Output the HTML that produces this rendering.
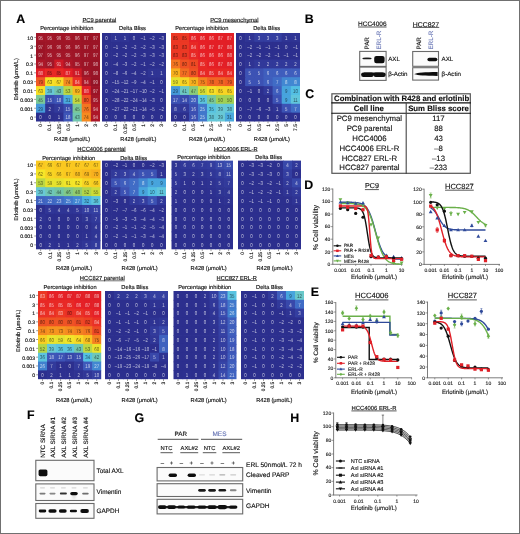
<!DOCTYPE html>
<html><head><meta charset="utf-8"><style>
html,body{margin:0;padding:0;background:#fff;}
body{width:520px;height:534px;overflow:hidden;position:relative;font-family:"Liberation Sans",sans-serif;}
#frame{position:absolute;left:0;top:0;width:520px;height:534px;box-sizing:border-box;border:1px solid #707070;}
svg{position:absolute;left:0;top:0;will-change:transform;filter:blur(0.3px);}
svg text{font-family:"Liberation Sans",sans-serif;text-rendering:geometricPrecision;}
svg text.t{stroke:currentColor;stroke-width:0.14px;}
</style></head><body>
<svg width="520" height="534" viewBox="0 0 520 534">
<rect x="36.00" y="33.00" width="9.84" height="9.55" fill="#a21628"/>
<rect x="45.14" y="33.00" width="9.84" height="9.55" fill="#a21628"/>
<rect x="54.29" y="33.00" width="9.84" height="9.55" fill="#9f1527"/>
<rect x="63.43" y="33.00" width="9.84" height="9.55" fill="#a21628"/>
<rect x="72.57" y="33.00" width="9.84" height="9.55" fill="#9f1527"/>
<rect x="81.71" y="33.00" width="9.84" height="9.55" fill="#9c1426"/>
<rect x="90.86" y="33.00" width="9.14" height="9.55" fill="#9c1426"/>
<rect x="36.00" y="41.85" width="9.84" height="9.55" fill="#9c1426"/>
<rect x="45.14" y="41.85" width="9.84" height="9.55" fill="#9f1527"/>
<rect x="54.29" y="41.85" width="9.84" height="9.55" fill="#9f1527"/>
<rect x="63.43" y="41.85" width="9.84" height="9.55" fill="#9f1527"/>
<rect x="72.57" y="41.85" width="9.84" height="9.55" fill="#9f1527"/>
<rect x="81.71" y="41.85" width="9.84" height="9.55" fill="#9c1426"/>
<rect x="90.86" y="41.85" width="9.14" height="9.55" fill="#9c1426"/>
<rect x="36.00" y="50.70" width="9.84" height="9.55" fill="#9c1426"/>
<rect x="45.14" y="50.70" width="9.84" height="9.55" fill="#a21628"/>
<rect x="54.29" y="50.70" width="9.84" height="9.55" fill="#a21628"/>
<rect x="63.43" y="50.70" width="9.84" height="9.55" fill="#a21628"/>
<rect x="72.57" y="50.70" width="9.84" height="9.55" fill="#9f1527"/>
<rect x="81.71" y="50.70" width="9.84" height="9.55" fill="#9c1426"/>
<rect x="90.86" y="50.70" width="9.14" height="9.55" fill="#9c1426"/>
<rect x="36.00" y="59.55" width="9.84" height="9.55" fill="#ad1728"/>
<rect x="45.14" y="59.55" width="9.84" height="9.55" fill="#a21628"/>
<rect x="54.29" y="59.55" width="9.84" height="9.55" fill="#cd1a27"/>
<rect x="63.43" y="59.55" width="9.84" height="9.55" fill="#ad1728"/>
<rect x="72.57" y="59.55" width="9.84" height="9.55" fill="#a21628"/>
<rect x="81.71" y="59.55" width="9.84" height="9.55" fill="#9c1426"/>
<rect x="90.86" y="59.55" width="9.14" height="9.55" fill="#981426"/>
<rect x="36.00" y="68.40" width="9.84" height="9.55" fill="#e11f26"/>
<rect x="45.14" y="68.40" width="9.84" height="9.55" fill="#e82825"/>
<rect x="54.29" y="68.40" width="9.84" height="9.55" fill="#e82825"/>
<rect x="63.43" y="68.40" width="9.84" height="9.55" fill="#e31f26"/>
<rect x="72.57" y="68.40" width="9.84" height="9.55" fill="#cd1a27"/>
<rect x="81.71" y="68.40" width="9.84" height="9.55" fill="#9f1527"/>
<rect x="90.86" y="68.40" width="9.14" height="9.55" fill="#981426"/>
<rect x="36.00" y="77.25" width="9.84" height="9.55" fill="#f05a24"/>
<rect x="45.14" y="77.25" width="9.84" height="9.55" fill="#f7e026"/>
<rect x="54.29" y="77.25" width="9.84" height="9.55" fill="#f8da25"/>
<rect x="63.43" y="77.25" width="9.84" height="9.55" fill="#f58a20"/>
<rect x="72.57" y="77.25" width="9.84" height="9.55" fill="#ea3025"/>
<rect x="81.71" y="77.25" width="9.84" height="9.55" fill="#ad1728"/>
<rect x="90.86" y="77.25" width="9.14" height="9.55" fill="#951325"/>
<rect x="36.00" y="86.10" width="9.84" height="9.55" fill="#f7e026"/>
<rect x="45.14" y="86.10" width="9.84" height="9.55" fill="#68c8d6"/>
<rect x="54.29" y="86.10" width="9.84" height="9.55" fill="#70c6ae"/>
<rect x="63.43" y="86.10" width="9.84" height="9.55" fill="#bbd744"/>
<rect x="72.57" y="86.10" width="9.84" height="9.55" fill="#f9b81f"/>
<rect x="81.71" y="86.10" width="9.84" height="9.55" fill="#e11f26"/>
<rect x="90.86" y="86.10" width="9.14" height="9.55" fill="#9c1426"/>
<rect x="36.00" y="94.95" width="9.84" height="9.55" fill="#7ac897"/>
<rect x="45.14" y="94.95" width="9.84" height="9.55" fill="#3a4daf"/>
<rect x="54.29" y="94.95" width="9.84" height="9.55" fill="#3e56b8"/>
<rect x="63.43" y="94.95" width="9.84" height="9.55" fill="#4aaade"/>
<rect x="72.57" y="94.95" width="9.84" height="9.55" fill="#c4d93f"/>
<rect x="81.71" y="94.95" width="9.84" height="9.55" fill="#ef5224"/>
<rect x="90.86" y="94.95" width="9.14" height="9.55" fill="#a21628"/>
<rect x="36.00" y="103.80" width="9.84" height="9.55" fill="#4599d9"/>
<rect x="45.14" y="103.80" width="9.84" height="9.55" fill="#2e3292"/>
<rect x="54.29" y="103.80" width="9.84" height="9.55" fill="#323a9b"/>
<rect x="63.43" y="103.80" width="9.84" height="9.55" fill="#3a4daf"/>
<rect x="72.57" y="103.80" width="9.84" height="9.55" fill="#7ac897"/>
<rect x="81.71" y="103.80" width="9.84" height="9.55" fill="#f37621"/>
<rect x="90.86" y="103.80" width="9.14" height="9.55" fill="#ad1728"/>
<rect x="36.00" y="112.65" width="9.84" height="8.85" fill="#2c2f8e"/>
<rect x="45.14" y="112.65" width="9.84" height="8.85" fill="#2c2f8e"/>
<rect x="54.29" y="112.65" width="9.84" height="8.85" fill="#2d3090"/>
<rect x="63.43" y="112.65" width="9.84" height="8.85" fill="#3e56b8"/>
<rect x="72.57" y="112.65" width="9.84" height="8.85" fill="#70c6ae"/>
<rect x="81.71" y="112.65" width="9.84" height="8.85" fill="#f58a20"/>
<rect x="90.86" y="112.65" width="9.14" height="8.85" fill="#ad1728"/>
<text transform="translate(40.57,39.72) scale(0.78,1)" font-size="5.6" text-anchor="middle" fill="#fff" fill-opacity="0.68">95</text>
<text transform="translate(49.71,39.72) scale(0.78,1)" font-size="5.6" text-anchor="middle" fill="#fff" fill-opacity="0.68">95</text>
<text transform="translate(58.86,39.72) scale(0.78,1)" font-size="5.6" text-anchor="middle" fill="#fff" fill-opacity="0.68">96</text>
<text transform="translate(68.00,39.72) scale(0.78,1)" font-size="5.6" text-anchor="middle" fill="#fff" fill-opacity="0.68">95</text>
<text transform="translate(77.14,39.72) scale(0.78,1)" font-size="5.6" text-anchor="middle" fill="#fff" fill-opacity="0.68">96</text>
<text transform="translate(86.29,39.72) scale(0.78,1)" font-size="5.6" text-anchor="middle" fill="#fff" fill-opacity="0.68">97</text>
<text transform="translate(95.43,39.72) scale(0.78,1)" font-size="5.6" text-anchor="middle" fill="#fff" fill-opacity="0.68">97</text>
<text transform="translate(40.57,48.57) scale(0.78,1)" font-size="5.6" text-anchor="middle" fill="#fff" fill-opacity="0.68">97</text>
<text transform="translate(49.71,48.57) scale(0.78,1)" font-size="5.6" text-anchor="middle" fill="#fff" fill-opacity="0.68">96</text>
<text transform="translate(58.86,48.57) scale(0.78,1)" font-size="5.6" text-anchor="middle" fill="#fff" fill-opacity="0.68">96</text>
<text transform="translate(68.00,48.57) scale(0.78,1)" font-size="5.6" text-anchor="middle" fill="#fff" fill-opacity="0.68">96</text>
<text transform="translate(77.14,48.57) scale(0.78,1)" font-size="5.6" text-anchor="middle" fill="#fff" fill-opacity="0.68">96</text>
<text transform="translate(86.29,48.57) scale(0.78,1)" font-size="5.6" text-anchor="middle" fill="#fff" fill-opacity="0.68">97</text>
<text transform="translate(95.43,48.57) scale(0.78,1)" font-size="5.6" text-anchor="middle" fill="#fff" fill-opacity="0.68">97</text>
<text transform="translate(40.57,57.42) scale(0.78,1)" font-size="5.6" text-anchor="middle" fill="#fff" fill-opacity="0.68">97</text>
<text transform="translate(49.71,57.42) scale(0.78,1)" font-size="5.6" text-anchor="middle" fill="#fff" fill-opacity="0.68">95</text>
<text transform="translate(58.86,57.42) scale(0.78,1)" font-size="5.6" text-anchor="middle" fill="#fff" fill-opacity="0.68">95</text>
<text transform="translate(68.00,57.42) scale(0.78,1)" font-size="5.6" text-anchor="middle" fill="#fff" fill-opacity="0.68">95</text>
<text transform="translate(77.14,57.42) scale(0.78,1)" font-size="5.6" text-anchor="middle" fill="#fff" fill-opacity="0.68">96</text>
<text transform="translate(86.29,57.42) scale(0.78,1)" font-size="5.6" text-anchor="middle" fill="#fff" fill-opacity="0.68">97</text>
<text transform="translate(95.43,57.42) scale(0.78,1)" font-size="5.6" text-anchor="middle" fill="#fff" fill-opacity="0.68">97</text>
<text transform="translate(40.57,66.27) scale(0.78,1)" font-size="5.6" text-anchor="middle" fill="#fff" fill-opacity="0.68">94</text>
<text transform="translate(49.71,66.27) scale(0.78,1)" font-size="5.6" text-anchor="middle" fill="#fff" fill-opacity="0.68">95</text>
<text transform="translate(58.86,66.27) scale(0.78,1)" font-size="5.6" text-anchor="middle" fill="#fff" fill-opacity="0.68">91</text>
<text transform="translate(68.00,66.27) scale(0.78,1)" font-size="5.6" text-anchor="middle" fill="#fff" fill-opacity="0.68">94</text>
<text transform="translate(77.14,66.27) scale(0.78,1)" font-size="5.6" text-anchor="middle" fill="#fff" fill-opacity="0.68">95</text>
<text transform="translate(86.29,66.27) scale(0.78,1)" font-size="5.6" text-anchor="middle" fill="#fff" fill-opacity="0.68">97</text>
<text transform="translate(95.43,66.27) scale(0.78,1)" font-size="5.6" text-anchor="middle" fill="#fff" fill-opacity="0.68">98</text>
<text transform="translate(40.57,75.12) scale(0.78,1)" font-size="5.6" text-anchor="middle" fill="#fff" fill-opacity="0.68">88</text>
<text transform="translate(49.71,75.12) scale(0.78,1)" font-size="5.6" text-anchor="middle" fill="#000" fill-opacity="0.6">85</text>
<text transform="translate(58.86,75.12) scale(0.78,1)" font-size="5.6" text-anchor="middle" fill="#000" fill-opacity="0.6">85</text>
<text transform="translate(68.00,75.12) scale(0.78,1)" font-size="5.6" text-anchor="middle" fill="#fff" fill-opacity="0.68">87</text>
<text transform="translate(77.14,75.12) scale(0.78,1)" font-size="5.6" text-anchor="middle" fill="#fff" fill-opacity="0.68">91</text>
<text transform="translate(86.29,75.12) scale(0.78,1)" font-size="5.6" text-anchor="middle" fill="#fff" fill-opacity="0.68">96</text>
<text transform="translate(95.43,75.12) scale(0.78,1)" font-size="5.6" text-anchor="middle" fill="#fff" fill-opacity="0.68">98</text>
<text transform="translate(40.57,83.97) scale(0.78,1)" font-size="5.6" text-anchor="middle" fill="#000" fill-opacity="0.6">79</text>
<text transform="translate(49.71,83.97) scale(0.78,1)" font-size="5.6" text-anchor="middle" fill="#000" fill-opacity="0.6">63</text>
<text transform="translate(58.86,83.97) scale(0.78,1)" font-size="5.6" text-anchor="middle" fill="#000" fill-opacity="0.6">67</text>
<text transform="translate(68.00,83.97) scale(0.78,1)" font-size="5.6" text-anchor="middle" fill="#000" fill-opacity="0.6">74</text>
<text transform="translate(77.14,83.97) scale(0.78,1)" font-size="5.6" text-anchor="middle" fill="#fff" fill-opacity="0.68">84</text>
<text transform="translate(86.29,83.97) scale(0.78,1)" font-size="5.6" text-anchor="middle" fill="#fff" fill-opacity="0.68">94</text>
<text transform="translate(95.43,83.97) scale(0.78,1)" font-size="5.6" text-anchor="middle" fill="#fff" fill-opacity="0.68">99</text>
<text transform="translate(40.57,92.83) scale(0.78,1)" font-size="5.6" text-anchor="middle" fill="#000" fill-opacity="0.6">63</text>
<text transform="translate(49.71,92.83) scale(0.78,1)" font-size="5.6" text-anchor="middle" fill="#000" fill-opacity="0.6">39</text>
<text transform="translate(58.86,92.83) scale(0.78,1)" font-size="5.6" text-anchor="middle" fill="#000" fill-opacity="0.6">43</text>
<text transform="translate(68.00,92.83) scale(0.78,1)" font-size="5.6" text-anchor="middle" fill="#000" fill-opacity="0.6">53</text>
<text transform="translate(77.14,92.83) scale(0.78,1)" font-size="5.6" text-anchor="middle" fill="#000" fill-opacity="0.6">69</text>
<text transform="translate(86.29,92.83) scale(0.78,1)" font-size="5.6" text-anchor="middle" fill="#fff" fill-opacity="0.68">88</text>
<text transform="translate(95.43,92.83) scale(0.78,1)" font-size="5.6" text-anchor="middle" fill="#fff" fill-opacity="0.68">97</text>
<text transform="translate(40.57,101.67) scale(0.78,1)" font-size="5.6" text-anchor="middle" fill="#000" fill-opacity="0.6">45</text>
<text transform="translate(49.71,101.67) scale(0.78,1)" font-size="5.6" text-anchor="middle" fill="#fff" fill-opacity="0.7">15</text>
<text transform="translate(58.86,101.67) scale(0.78,1)" font-size="5.6" text-anchor="middle" fill="#fff" fill-opacity="0.7">18</text>
<text transform="translate(68.00,101.67) scale(0.78,1)" font-size="5.6" text-anchor="middle" fill="#000" fill-opacity="0.6">31</text>
<text transform="translate(77.14,101.67) scale(0.78,1)" font-size="5.6" text-anchor="middle" fill="#000" fill-opacity="0.6">54</text>
<text transform="translate(86.29,101.67) scale(0.78,1)" font-size="5.6" text-anchor="middle" fill="#000" fill-opacity="0.6">80</text>
<text transform="translate(95.43,101.67) scale(0.78,1)" font-size="5.6" text-anchor="middle" fill="#fff" fill-opacity="0.68">95</text>
<text transform="translate(40.57,110.52) scale(0.78,1)" font-size="5.6" text-anchor="middle" fill="#000" fill-opacity="0.6">29</text>
<text transform="translate(49.71,110.52) scale(0.78,1)" font-size="5.6" text-anchor="middle" fill="#fff" fill-opacity="0.7">2</text>
<text transform="translate(58.86,110.52) scale(0.78,1)" font-size="5.6" text-anchor="middle" fill="#fff" fill-opacity="0.7">7</text>
<text transform="translate(68.00,110.52) scale(0.78,1)" font-size="5.6" text-anchor="middle" fill="#fff" fill-opacity="0.7">15</text>
<text transform="translate(77.14,110.52) scale(0.78,1)" font-size="5.6" text-anchor="middle" fill="#000" fill-opacity="0.6">45</text>
<text transform="translate(86.29,110.52) scale(0.78,1)" font-size="5.6" text-anchor="middle" fill="#000" fill-opacity="0.6">76</text>
<text transform="translate(95.43,110.52) scale(0.78,1)" font-size="5.6" text-anchor="middle" fill="#fff" fill-opacity="0.68">94</text>
<text transform="translate(40.57,119.38) scale(0.78,1)" font-size="5.6" text-anchor="middle" fill="#fff" fill-opacity="0.7">0</text>
<text transform="translate(49.71,119.38) scale(0.78,1)" font-size="5.6" text-anchor="middle" fill="#fff" fill-opacity="0.7">0</text>
<text transform="translate(58.86,119.38) scale(0.78,1)" font-size="5.6" text-anchor="middle" fill="#fff" fill-opacity="0.7">1</text>
<text transform="translate(68.00,119.38) scale(0.78,1)" font-size="5.6" text-anchor="middle" fill="#fff" fill-opacity="0.7">18</text>
<text transform="translate(77.14,119.38) scale(0.78,1)" font-size="5.6" text-anchor="middle" fill="#000" fill-opacity="0.6">43</text>
<text transform="translate(86.29,119.38) scale(0.78,1)" font-size="5.6" text-anchor="middle" fill="#000" fill-opacity="0.6">74</text>
<text transform="translate(95.43,119.38) scale(0.78,1)" font-size="5.6" text-anchor="middle" fill="#fff" fill-opacity="0.68">94</text>
<line x1="40.57" y1="121.50" x2="40.57" y2="123.30" stroke="#333" stroke-width="0.5"/>
<text class="t" color="#111" transform="translate(40.57,124.10) rotate(-90)" x="0" y="1.75" font-size="4.9" text-anchor="end" fill="#111">0</text>
<line x1="49.71" y1="121.50" x2="49.71" y2="123.30" stroke="#333" stroke-width="0.5"/>
<text class="t" color="#111" transform="translate(49.71,124.10) rotate(-90)" x="0" y="1.75" font-size="4.9" text-anchor="end" fill="#111">0.1</text>
<line x1="58.86" y1="121.50" x2="58.86" y2="123.30" stroke="#333" stroke-width="0.5"/>
<text class="t" color="#111" transform="translate(58.86,124.10) rotate(-90)" x="0" y="1.75" font-size="4.9" text-anchor="end" fill="#111">0.25</text>
<line x1="68.00" y1="121.50" x2="68.00" y2="123.30" stroke="#333" stroke-width="0.5"/>
<text class="t" color="#111" transform="translate(68.00,124.10) rotate(-90)" x="0" y="1.75" font-size="4.9" text-anchor="end" fill="#111">0.5</text>
<line x1="77.14" y1="121.50" x2="77.14" y2="123.30" stroke="#333" stroke-width="0.5"/>
<text class="t" color="#111" transform="translate(77.14,124.10) rotate(-90)" x="0" y="1.75" font-size="4.9" text-anchor="end" fill="#111">1</text>
<line x1="86.29" y1="121.50" x2="86.29" y2="123.30" stroke="#333" stroke-width="0.5"/>
<text class="t" color="#111" transform="translate(86.29,124.10) rotate(-90)" x="0" y="1.75" font-size="4.9" text-anchor="end" fill="#111">2</text>
<line x1="95.43" y1="121.50" x2="95.43" y2="123.30" stroke="#333" stroke-width="0.5"/>
<text class="t" color="#111" transform="translate(95.43,124.10) rotate(-90)" x="0" y="1.75" font-size="4.9" text-anchor="end" fill="#111">3</text>
<line x1="34.20" y1="37.42" x2="36.00" y2="37.42" stroke="#333" stroke-width="0.5"/>
<text class="t" x="33.00" y="39.85" font-size="5.1" text-anchor="end" fill="#111" color="#111">10</text>
<line x1="34.20" y1="46.27" x2="36.00" y2="46.27" stroke="#333" stroke-width="0.5"/>
<text class="t" x="33.00" y="48.70" font-size="5.1" text-anchor="end" fill="#111" color="#111">3</text>
<line x1="34.20" y1="55.12" x2="36.00" y2="55.12" stroke="#333" stroke-width="0.5"/>
<text class="t" x="33.00" y="57.55" font-size="5.1" text-anchor="end" fill="#111" color="#111">1</text>
<line x1="34.20" y1="63.97" x2="36.00" y2="63.97" stroke="#333" stroke-width="0.5"/>
<text class="t" x="33.00" y="66.40" font-size="5.1" text-anchor="end" fill="#111" color="#111">0.3</text>
<line x1="34.20" y1="72.82" x2="36.00" y2="72.82" stroke="#333" stroke-width="0.5"/>
<text class="t" x="33.00" y="75.25" font-size="5.1" text-anchor="end" fill="#111" color="#111">0.1</text>
<line x1="34.20" y1="81.67" x2="36.00" y2="81.67" stroke="#333" stroke-width="0.5"/>
<text class="t" x="33.00" y="84.10" font-size="5.1" text-anchor="end" fill="#111" color="#111">0.03</text>
<line x1="34.20" y1="90.53" x2="36.00" y2="90.53" stroke="#333" stroke-width="0.5"/>
<text class="t" x="33.00" y="92.95" font-size="5.1" text-anchor="end" fill="#111" color="#111">0.01</text>
<line x1="34.20" y1="99.38" x2="36.00" y2="99.38" stroke="#333" stroke-width="0.5"/>
<text class="t" x="33.00" y="101.80" font-size="5.1" text-anchor="end" fill="#111" color="#111">0.003</text>
<line x1="34.20" y1="108.22" x2="36.00" y2="108.22" stroke="#333" stroke-width="0.5"/>
<text class="t" x="33.00" y="110.65" font-size="5.1" text-anchor="end" fill="#111" color="#111">0.001</text>
<line x1="34.20" y1="117.08" x2="36.00" y2="117.08" stroke="#333" stroke-width="0.5"/>
<text class="t" x="33.00" y="119.50" font-size="5.1" text-anchor="end" fill="#111" color="#111">0</text>
<rect x="102.00" y="33.00" width="9.84" height="9.55" fill="#2c2f8e"/>
<rect x="111.14" y="33.00" width="9.84" height="9.55" fill="#2f3494"/>
<rect x="120.29" y="33.00" width="9.84" height="9.55" fill="#2f3494"/>
<rect x="129.43" y="33.00" width="9.84" height="9.55" fill="#2c2f8e"/>
<rect x="138.57" y="33.00" width="9.84" height="9.55" fill="#2c2f8e"/>
<rect x="147.71" y="33.00" width="9.84" height="9.55" fill="#2c2f8e"/>
<rect x="156.86" y="33.00" width="9.14" height="9.55" fill="#2c2f8e"/>
<rect x="102.00" y="41.85" width="9.84" height="9.55" fill="#2c2f8e"/>
<rect x="111.14" y="41.85" width="9.84" height="9.55" fill="#2c2f8e"/>
<rect x="120.29" y="41.85" width="9.84" height="9.55" fill="#2c2f8e"/>
<rect x="129.43" y="41.85" width="9.84" height="9.55" fill="#2c2f8e"/>
<rect x="138.57" y="41.85" width="9.84" height="9.55" fill="#2c2f8e"/>
<rect x="147.71" y="41.85" width="9.84" height="9.55" fill="#2c2f8e"/>
<rect x="156.86" y="41.85" width="9.14" height="9.55" fill="#2c2f8e"/>
<rect x="102.00" y="50.70" width="9.84" height="9.55" fill="#2c2f8e"/>
<rect x="111.14" y="50.70" width="9.84" height="9.55" fill="#2c2f8e"/>
<rect x="120.29" y="50.70" width="9.84" height="9.55" fill="#2c2f8e"/>
<rect x="129.43" y="50.70" width="9.84" height="9.55" fill="#2c2f8e"/>
<rect x="138.57" y="50.70" width="9.84" height="9.55" fill="#2c2f8e"/>
<rect x="147.71" y="50.70" width="9.84" height="9.55" fill="#2c2f8e"/>
<rect x="156.86" y="50.70" width="9.14" height="9.55" fill="#2c2f8e"/>
<rect x="102.00" y="59.55" width="9.84" height="9.55" fill="#2c2f8e"/>
<rect x="111.14" y="59.55" width="9.84" height="9.55" fill="#2c2f8e"/>
<rect x="120.29" y="59.55" width="9.84" height="9.55" fill="#2c2f8e"/>
<rect x="129.43" y="59.55" width="9.84" height="9.55" fill="#2c2f8e"/>
<rect x="138.57" y="59.55" width="9.84" height="9.55" fill="#2c2f8e"/>
<rect x="147.71" y="59.55" width="9.84" height="9.55" fill="#2c2f8e"/>
<rect x="156.86" y="59.55" width="9.14" height="9.55" fill="#2c2f8e"/>
<rect x="102.00" y="68.40" width="9.84" height="9.55" fill="#2c2f8e"/>
<rect x="111.14" y="68.40" width="9.84" height="9.55" fill="#2c2f8e"/>
<rect x="120.29" y="68.40" width="9.84" height="9.55" fill="#2c2f8e"/>
<rect x="129.43" y="68.40" width="9.84" height="9.55" fill="#2c2f8e"/>
<rect x="138.57" y="68.40" width="9.84" height="9.55" fill="#2c2f8e"/>
<rect x="147.71" y="68.40" width="9.84" height="9.55" fill="#2f3494"/>
<rect x="156.86" y="68.40" width="9.14" height="9.55" fill="#2f3494"/>
<rect x="102.00" y="77.25" width="9.84" height="9.55" fill="#2c2f8e"/>
<rect x="111.14" y="77.25" width="9.84" height="9.55" fill="#2c2f8e"/>
<rect x="120.29" y="77.25" width="9.84" height="9.55" fill="#2c2f8e"/>
<rect x="129.43" y="77.25" width="9.84" height="9.55" fill="#2c2f8e"/>
<rect x="138.57" y="77.25" width="9.84" height="9.55" fill="#2c2f8e"/>
<rect x="147.71" y="77.25" width="9.84" height="9.55" fill="#2c2f8e"/>
<rect x="156.86" y="77.25" width="9.14" height="9.55" fill="#2c2f8e"/>
<rect x="102.00" y="86.10" width="9.84" height="9.55" fill="#2c2f8e"/>
<rect x="111.14" y="86.10" width="9.84" height="9.55" fill="#2c2f8e"/>
<rect x="120.29" y="86.10" width="9.84" height="9.55" fill="#2c2f8e"/>
<rect x="129.43" y="86.10" width="9.84" height="9.55" fill="#2c2f8e"/>
<rect x="138.57" y="86.10" width="9.84" height="9.55" fill="#2c2f8e"/>
<rect x="147.71" y="86.10" width="9.84" height="9.55" fill="#2c2f8e"/>
<rect x="156.86" y="86.10" width="9.14" height="9.55" fill="#2c2f8e"/>
<rect x="102.00" y="94.95" width="9.84" height="9.55" fill="#2c2f8e"/>
<rect x="111.14" y="94.95" width="9.84" height="9.55" fill="#2c2f8e"/>
<rect x="120.29" y="94.95" width="9.84" height="9.55" fill="#2c2f8e"/>
<rect x="129.43" y="94.95" width="9.84" height="9.55" fill="#2c2f8e"/>
<rect x="138.57" y="94.95" width="9.84" height="9.55" fill="#2c2f8e"/>
<rect x="147.71" y="94.95" width="9.84" height="9.55" fill="#2c2f8e"/>
<rect x="156.86" y="94.95" width="9.14" height="9.55" fill="#2c2f8e"/>
<rect x="102.00" y="103.80" width="9.84" height="9.55" fill="#2c2f8e"/>
<rect x="111.14" y="103.80" width="9.84" height="9.55" fill="#2c2f8e"/>
<rect x="120.29" y="103.80" width="9.84" height="9.55" fill="#2c2f8e"/>
<rect x="129.43" y="103.80" width="9.84" height="9.55" fill="#2c2f8e"/>
<rect x="138.57" y="103.80" width="9.84" height="9.55" fill="#2c2f8e"/>
<rect x="147.71" y="103.80" width="9.84" height="9.55" fill="#2c2f8e"/>
<rect x="156.86" y="103.80" width="9.14" height="9.55" fill="#2c2f8e"/>
<rect x="102.00" y="112.65" width="9.84" height="8.85" fill="#2c2f8e"/>
<rect x="111.14" y="112.65" width="9.84" height="8.85" fill="#2c2f8e"/>
<rect x="120.29" y="112.65" width="9.84" height="8.85" fill="#2c2f8e"/>
<rect x="129.43" y="112.65" width="9.84" height="8.85" fill="#2c2f8e"/>
<rect x="138.57" y="112.65" width="9.84" height="8.85" fill="#2c2f8e"/>
<rect x="147.71" y="112.65" width="9.84" height="8.85" fill="#2c2f8e"/>
<rect x="156.86" y="112.65" width="9.14" height="8.85" fill="#2c2f8e"/>
<text transform="translate(106.57,39.72) scale(0.78,1)" font-size="5.6" text-anchor="middle" fill="#fff" fill-opacity="0.7">0</text>
<text transform="translate(115.71,39.72) scale(0.78,1)" font-size="5.6" text-anchor="middle" fill="#fff" fill-opacity="0.7">1</text>
<text transform="translate(124.86,39.72) scale(0.78,1)" font-size="5.6" text-anchor="middle" fill="#fff" fill-opacity="0.7">1</text>
<text transform="translate(134.00,39.72) scale(0.78,1)" font-size="5.6" text-anchor="middle" fill="#fff" fill-opacity="0.7">0</text>
<text transform="translate(143.14,39.72) scale(0.78,1)" font-size="5.6" text-anchor="middle" fill="#fff" fill-opacity="0.7">–1</text>
<text transform="translate(152.29,39.72) scale(0.78,1)" font-size="5.6" text-anchor="middle" fill="#fff" fill-opacity="0.7">–2</text>
<text transform="translate(161.43,39.72) scale(0.78,1)" font-size="5.6" text-anchor="middle" fill="#fff" fill-opacity="0.7">–3</text>
<text transform="translate(106.57,48.57) scale(0.78,1)" font-size="5.6" text-anchor="middle" fill="#fff" fill-opacity="0.7">0</text>
<text transform="translate(115.71,48.57) scale(0.78,1)" font-size="5.6" text-anchor="middle" fill="#fff" fill-opacity="0.7">–1</text>
<text transform="translate(124.86,48.57) scale(0.78,1)" font-size="5.6" text-anchor="middle" fill="#fff" fill-opacity="0.7">–2</text>
<text transform="translate(134.00,48.57) scale(0.78,1)" font-size="5.6" text-anchor="middle" fill="#fff" fill-opacity="0.7">–2</text>
<text transform="translate(143.14,48.57) scale(0.78,1)" font-size="5.6" text-anchor="middle" fill="#fff" fill-opacity="0.7">–2</text>
<text transform="translate(152.29,48.57) scale(0.78,1)" font-size="5.6" text-anchor="middle" fill="#fff" fill-opacity="0.7">–3</text>
<text transform="translate(161.43,48.57) scale(0.78,1)" font-size="5.6" text-anchor="middle" fill="#fff" fill-opacity="0.7">–3</text>
<text transform="translate(106.57,57.42) scale(0.78,1)" font-size="5.6" text-anchor="middle" fill="#fff" fill-opacity="0.7">0</text>
<text transform="translate(115.71,57.42) scale(0.78,1)" font-size="5.6" text-anchor="middle" fill="#fff" fill-opacity="0.7">–2</text>
<text transform="translate(124.86,57.42) scale(0.78,1)" font-size="5.6" text-anchor="middle" fill="#fff" fill-opacity="0.7">–2</text>
<text transform="translate(134.00,57.42) scale(0.78,1)" font-size="5.6" text-anchor="middle" fill="#fff" fill-opacity="0.7">–2</text>
<text transform="translate(143.14,57.42) scale(0.78,1)" font-size="5.6" text-anchor="middle" fill="#fff" fill-opacity="0.7">–3</text>
<text transform="translate(152.29,57.42) scale(0.78,1)" font-size="5.6" text-anchor="middle" fill="#fff" fill-opacity="0.7">–3</text>
<text transform="translate(161.43,57.42) scale(0.78,1)" font-size="5.6" text-anchor="middle" fill="#fff" fill-opacity="0.7">–3</text>
<text transform="translate(106.57,66.27) scale(0.78,1)" font-size="5.6" text-anchor="middle" fill="#fff" fill-opacity="0.7">0</text>
<text transform="translate(115.71,66.27) scale(0.78,1)" font-size="5.6" text-anchor="middle" fill="#fff" fill-opacity="0.7">–4</text>
<text transform="translate(124.86,66.27) scale(0.78,1)" font-size="5.6" text-anchor="middle" fill="#fff" fill-opacity="0.7">–3</text>
<text transform="translate(134.00,66.27) scale(0.78,1)" font-size="5.6" text-anchor="middle" fill="#fff" fill-opacity="0.7">–2</text>
<text transform="translate(143.14,66.27) scale(0.78,1)" font-size="5.6" text-anchor="middle" fill="#fff" fill-opacity="0.7">–1</text>
<text transform="translate(152.29,66.27) scale(0.78,1)" font-size="5.6" text-anchor="middle" fill="#fff" fill-opacity="0.7">–2</text>
<text transform="translate(161.43,66.27) scale(0.78,1)" font-size="5.6" text-anchor="middle" fill="#fff" fill-opacity="0.7">–2</text>
<text transform="translate(106.57,75.12) scale(0.78,1)" font-size="5.6" text-anchor="middle" fill="#fff" fill-opacity="0.7">0</text>
<text transform="translate(115.71,75.12) scale(0.78,1)" font-size="5.6" text-anchor="middle" fill="#fff" fill-opacity="0.7">–8</text>
<text transform="translate(124.86,75.12) scale(0.78,1)" font-size="5.6" text-anchor="middle" fill="#fff" fill-opacity="0.7">–6</text>
<text transform="translate(134.00,75.12) scale(0.78,1)" font-size="5.6" text-anchor="middle" fill="#fff" fill-opacity="0.7">–4</text>
<text transform="translate(143.14,75.12) scale(0.78,1)" font-size="5.6" text-anchor="middle" fill="#fff" fill-opacity="0.7">–2</text>
<text transform="translate(152.29,75.12) scale(0.78,1)" font-size="5.6" text-anchor="middle" fill="#fff" fill-opacity="0.7">1</text>
<text transform="translate(161.43,75.12) scale(0.78,1)" font-size="5.6" text-anchor="middle" fill="#fff" fill-opacity="0.7">1</text>
<text transform="translate(106.57,83.97) scale(0.78,1)" font-size="5.6" text-anchor="middle" fill="#fff" fill-opacity="0.7">0</text>
<text transform="translate(115.71,83.97) scale(0.78,1)" font-size="5.6" text-anchor="middle" fill="#fff" fill-opacity="0.7">–15</text>
<text transform="translate(124.86,83.97) scale(0.78,1)" font-size="5.6" text-anchor="middle" fill="#fff" fill-opacity="0.7">–12</text>
<text transform="translate(134.00,83.97) scale(0.78,1)" font-size="5.6" text-anchor="middle" fill="#fff" fill-opacity="0.7">–9</text>
<text transform="translate(143.14,83.97) scale(0.78,1)" font-size="5.6" text-anchor="middle" fill="#fff" fill-opacity="0.7">–4</text>
<text transform="translate(152.29,83.97) scale(0.78,1)" font-size="5.6" text-anchor="middle" fill="#fff" fill-opacity="0.7">–1</text>
<text transform="translate(161.43,83.97) scale(0.78,1)" font-size="5.6" text-anchor="middle" fill="#fff" fill-opacity="0.7">0</text>
<text transform="translate(106.57,92.83) scale(0.78,1)" font-size="5.6" text-anchor="middle" fill="#fff" fill-opacity="0.7">0</text>
<text transform="translate(115.71,92.83) scale(0.78,1)" font-size="5.6" text-anchor="middle" fill="#fff" fill-opacity="0.7">–24</text>
<text transform="translate(124.86,92.83) scale(0.78,1)" font-size="5.6" text-anchor="middle" fill="#fff" fill-opacity="0.7">–21</text>
<text transform="translate(134.00,92.83) scale(0.78,1)" font-size="5.6" text-anchor="middle" fill="#fff" fill-opacity="0.7">–17</text>
<text transform="translate(143.14,92.83) scale(0.78,1)" font-size="5.6" text-anchor="middle" fill="#fff" fill-opacity="0.7">–10</text>
<text transform="translate(152.29,92.83) scale(0.78,1)" font-size="5.6" text-anchor="middle" fill="#fff" fill-opacity="0.7">–2</text>
<text transform="translate(161.43,92.83) scale(0.78,1)" font-size="5.6" text-anchor="middle" fill="#fff" fill-opacity="0.7">–1</text>
<text transform="translate(106.57,101.67) scale(0.78,1)" font-size="5.6" text-anchor="middle" fill="#fff" fill-opacity="0.7">0</text>
<text transform="translate(115.71,101.67) scale(0.78,1)" font-size="5.6" text-anchor="middle" fill="#fff" fill-opacity="0.7">–28</text>
<text transform="translate(124.86,101.67) scale(0.78,1)" font-size="5.6" text-anchor="middle" fill="#fff" fill-opacity="0.7">–22</text>
<text transform="translate(134.00,101.67) scale(0.78,1)" font-size="5.6" text-anchor="middle" fill="#fff" fill-opacity="0.7">–24</text>
<text transform="translate(143.14,101.67) scale(0.78,1)" font-size="5.6" text-anchor="middle" fill="#fff" fill-opacity="0.7">–14</text>
<text transform="translate(152.29,101.67) scale(0.78,1)" font-size="5.6" text-anchor="middle" fill="#fff" fill-opacity="0.7">–3</text>
<text transform="translate(161.43,101.67) scale(0.78,1)" font-size="5.6" text-anchor="middle" fill="#fff" fill-opacity="0.7">0</text>
<text transform="translate(106.57,110.52) scale(0.78,1)" font-size="5.6" text-anchor="middle" fill="#fff" fill-opacity="0.7">0</text>
<text transform="translate(115.71,110.52) scale(0.78,1)" font-size="5.6" text-anchor="middle" fill="#fff" fill-opacity="0.7">–27</text>
<text transform="translate(124.86,110.52) scale(0.78,1)" font-size="5.6" text-anchor="middle" fill="#fff" fill-opacity="0.7">–22</text>
<text transform="translate(134.00,110.52) scale(0.78,1)" font-size="5.6" text-anchor="middle" fill="#fff" fill-opacity="0.7">–21</text>
<text transform="translate(143.14,110.52) scale(0.78,1)" font-size="5.6" text-anchor="middle" fill="#fff" fill-opacity="0.7">–14</text>
<text transform="translate(152.29,110.52) scale(0.78,1)" font-size="5.6" text-anchor="middle" fill="#fff" fill-opacity="0.7">–5</text>
<text transform="translate(161.43,110.52) scale(0.78,1)" font-size="5.6" text-anchor="middle" fill="#fff" fill-opacity="0.7">–2</text>
<text transform="translate(106.57,119.38) scale(0.78,1)" font-size="5.6" text-anchor="middle" fill="#fff" fill-opacity="0.7">0</text>
<text transform="translate(115.71,119.38) scale(0.78,1)" font-size="5.6" text-anchor="middle" fill="#fff" fill-opacity="0.7">0</text>
<text transform="translate(124.86,119.38) scale(0.78,1)" font-size="5.6" text-anchor="middle" fill="#fff" fill-opacity="0.7">0</text>
<text transform="translate(134.00,119.38) scale(0.78,1)" font-size="5.6" text-anchor="middle" fill="#fff" fill-opacity="0.7">0</text>
<text transform="translate(143.14,119.38) scale(0.78,1)" font-size="5.6" text-anchor="middle" fill="#fff" fill-opacity="0.7">0</text>
<text transform="translate(152.29,119.38) scale(0.78,1)" font-size="5.6" text-anchor="middle" fill="#fff" fill-opacity="0.7">0</text>
<text transform="translate(161.43,119.38) scale(0.78,1)" font-size="5.6" text-anchor="middle" fill="#fff" fill-opacity="0.7">0</text>
<line x1="106.57" y1="121.50" x2="106.57" y2="123.30" stroke="#333" stroke-width="0.5"/>
<text class="t" color="#111" transform="translate(106.57,124.10) rotate(-90)" x="0" y="1.75" font-size="4.9" text-anchor="end" fill="#111">0</text>
<line x1="115.71" y1="121.50" x2="115.71" y2="123.30" stroke="#333" stroke-width="0.5"/>
<text class="t" color="#111" transform="translate(115.71,124.10) rotate(-90)" x="0" y="1.75" font-size="4.9" text-anchor="end" fill="#111">0.1</text>
<line x1="124.86" y1="121.50" x2="124.86" y2="123.30" stroke="#333" stroke-width="0.5"/>
<text class="t" color="#111" transform="translate(124.86,124.10) rotate(-90)" x="0" y="1.75" font-size="4.9" text-anchor="end" fill="#111">0.25</text>
<line x1="134.00" y1="121.50" x2="134.00" y2="123.30" stroke="#333" stroke-width="0.5"/>
<text class="t" color="#111" transform="translate(134.00,124.10) rotate(-90)" x="0" y="1.75" font-size="4.9" text-anchor="end" fill="#111">0.5</text>
<line x1="143.14" y1="121.50" x2="143.14" y2="123.30" stroke="#333" stroke-width="0.5"/>
<text class="t" color="#111" transform="translate(143.14,124.10) rotate(-90)" x="0" y="1.75" font-size="4.9" text-anchor="end" fill="#111">1</text>
<line x1="152.29" y1="121.50" x2="152.29" y2="123.30" stroke="#333" stroke-width="0.5"/>
<text class="t" color="#111" transform="translate(152.29,124.10) rotate(-90)" x="0" y="1.75" font-size="4.9" text-anchor="end" fill="#111">2</text>
<line x1="161.43" y1="121.50" x2="161.43" y2="123.30" stroke="#333" stroke-width="0.5"/>
<text class="t" color="#111" transform="translate(161.43,124.10) rotate(-90)" x="0" y="1.75" font-size="4.9" text-anchor="end" fill="#111">3</text>
<rect x="171.00" y="33.00" width="9.70" height="9.55" fill="#ec3824"/>
<rect x="180.00" y="33.00" width="9.70" height="9.55" fill="#ec3824"/>
<rect x="189.00" y="33.00" width="9.70" height="9.55" fill="#e62026"/>
<rect x="198.00" y="33.00" width="9.70" height="9.55" fill="#e62026"/>
<rect x="207.00" y="33.00" width="9.70" height="9.55" fill="#e62026"/>
<rect x="216.00" y="33.00" width="9.70" height="9.55" fill="#e31f26"/>
<rect x="225.00" y="33.00" width="9.00" height="9.55" fill="#e31f26"/>
<rect x="171.00" y="41.85" width="9.70" height="9.55" fill="#ec3824"/>
<rect x="180.00" y="41.85" width="9.70" height="9.55" fill="#ec3824"/>
<rect x="189.00" y="41.85" width="9.70" height="9.55" fill="#e82825"/>
<rect x="198.00" y="41.85" width="9.70" height="9.55" fill="#e62026"/>
<rect x="207.00" y="41.85" width="9.70" height="9.55" fill="#e31f26"/>
<rect x="216.00" y="41.85" width="9.70" height="9.55" fill="#e31f26"/>
<rect x="225.00" y="41.85" width="9.00" height="9.55" fill="#e11f26"/>
<rect x="171.00" y="50.70" width="9.70" height="9.55" fill="#ec3824"/>
<rect x="180.00" y="50.70" width="9.70" height="9.55" fill="#ec3824"/>
<rect x="189.00" y="50.70" width="9.70" height="9.55" fill="#e82825"/>
<rect x="198.00" y="50.70" width="9.70" height="9.55" fill="#e62026"/>
<rect x="207.00" y="50.70" width="9.70" height="9.55" fill="#e62026"/>
<rect x="216.00" y="50.70" width="9.70" height="9.55" fill="#e62026"/>
<rect x="225.00" y="50.70" width="9.00" height="9.55" fill="#e11f26"/>
<rect x="171.00" y="59.55" width="9.70" height="9.55" fill="#f37621"/>
<rect x="180.00" y="59.55" width="9.70" height="9.55" fill="#ef5224"/>
<rect x="189.00" y="59.55" width="9.70" height="9.55" fill="#ee4924"/>
<rect x="198.00" y="59.55" width="9.70" height="9.55" fill="#e82825"/>
<rect x="207.00" y="59.55" width="9.70" height="9.55" fill="#e62026"/>
<rect x="216.00" y="59.55" width="9.70" height="9.55" fill="#e31f26"/>
<rect x="225.00" y="59.55" width="9.00" height="9.55" fill="#e11f26"/>
<rect x="171.00" y="68.40" width="9.70" height="9.55" fill="#f8b01e"/>
<rect x="180.00" y="68.40" width="9.70" height="9.55" fill="#f26d22"/>
<rect x="189.00" y="68.40" width="9.70" height="9.55" fill="#ef5224"/>
<rect x="198.00" y="68.40" width="9.70" height="9.55" fill="#e82825"/>
<rect x="207.00" y="68.40" width="9.70" height="9.55" fill="#e82825"/>
<rect x="216.00" y="68.40" width="9.70" height="9.55" fill="#e82825"/>
<rect x="225.00" y="68.40" width="9.00" height="9.55" fill="#e82825"/>
<rect x="171.00" y="77.25" width="9.70" height="9.55" fill="#e6e22e"/>
<rect x="180.00" y="77.25" width="9.70" height="9.55" fill="#f8d423"/>
<rect x="189.00" y="77.25" width="9.70" height="9.55" fill="#f8b01e"/>
<rect x="198.00" y="77.25" width="9.70" height="9.55" fill="#f48020"/>
<rect x="207.00" y="77.25" width="9.70" height="9.55" fill="#f16423"/>
<rect x="216.00" y="77.25" width="9.70" height="9.55" fill="#f16423"/>
<rect x="225.00" y="77.25" width="9.00" height="9.55" fill="#f05a24"/>
<rect x="171.00" y="86.10" width="9.70" height="9.55" fill="#4599d9"/>
<rect x="180.00" y="86.10" width="9.70" height="9.55" fill="#6cc7c2"/>
<rect x="189.00" y="86.10" width="9.70" height="9.55" fill="#89cb7c"/>
<rect x="198.00" y="86.10" width="9.70" height="9.55" fill="#d6de34"/>
<rect x="207.00" y="86.10" width="9.70" height="9.55" fill="#f7e026"/>
<rect x="216.00" y="86.10" width="9.70" height="9.55" fill="#f8d423"/>
<rect x="225.00" y="86.10" width="9.00" height="9.55" fill="#f8d423"/>
<rect x="171.00" y="94.95" width="9.70" height="9.55" fill="#3d53b5"/>
<rect x="180.00" y="94.95" width="9.70" height="9.55" fill="#394aac"/>
<rect x="189.00" y="94.95" width="9.70" height="9.55" fill="#3f5fbd"/>
<rect x="198.00" y="94.95" width="9.70" height="9.55" fill="#5cc4de"/>
<rect x="207.00" y="94.95" width="9.70" height="9.55" fill="#7ac897"/>
<rect x="216.00" y="94.95" width="9.70" height="9.55" fill="#a0d054"/>
<rect x="225.00" y="94.95" width="9.00" height="9.55" fill="#a0d054"/>
<rect x="171.00" y="103.80" width="9.70" height="9.55" fill="#323b9c"/>
<rect x="180.00" y="103.80" width="9.70" height="9.55" fill="#313899"/>
<rect x="189.00" y="103.80" width="9.70" height="9.55" fill="#3c50b2"/>
<rect x="198.00" y="103.80" width="9.70" height="9.55" fill="#4178cb"/>
<rect x="207.00" y="103.80" width="9.70" height="9.55" fill="#58c3e1"/>
<rect x="216.00" y="103.80" width="9.70" height="9.55" fill="#68c8d6"/>
<rect x="225.00" y="103.80" width="9.00" height="9.55" fill="#64c7d9"/>
<rect x="171.00" y="112.65" width="9.70" height="8.85" fill="#2c2f8e"/>
<rect x="180.00" y="112.65" width="9.70" height="8.85" fill="#2c2f8e"/>
<rect x="189.00" y="112.65" width="9.70" height="8.85" fill="#3c50b2"/>
<rect x="198.00" y="112.65" width="9.70" height="8.85" fill="#4178cb"/>
<rect x="207.00" y="112.65" width="9.70" height="8.85" fill="#64c7d9"/>
<rect x="216.00" y="112.65" width="9.70" height="8.85" fill="#68c8d6"/>
<rect x="225.00" y="112.65" width="9.00" height="8.85" fill="#4aaade"/>
<text transform="translate(175.50,39.72) scale(0.78,1)" font-size="5.6" text-anchor="middle" fill="#000" fill-opacity="0.6">85</text>
<text transform="translate(184.50,39.72) scale(0.78,1)" font-size="5.6" text-anchor="middle" fill="#000" fill-opacity="0.6">85</text>
<text transform="translate(193.50,39.72) scale(0.78,1)" font-size="5.6" text-anchor="middle" fill="#fff" fill-opacity="0.68">86</text>
<text transform="translate(202.50,39.72) scale(0.78,1)" font-size="5.6" text-anchor="middle" fill="#fff" fill-opacity="0.68">86</text>
<text transform="translate(211.50,39.72) scale(0.78,1)" font-size="5.6" text-anchor="middle" fill="#fff" fill-opacity="0.68">86</text>
<text transform="translate(220.50,39.72) scale(0.78,1)" font-size="5.6" text-anchor="middle" fill="#fff" fill-opacity="0.68">87</text>
<text transform="translate(229.50,39.72) scale(0.78,1)" font-size="5.6" text-anchor="middle" fill="#fff" fill-opacity="0.68">87</text>
<text transform="translate(175.50,48.57) scale(0.78,1)" font-size="5.6" text-anchor="middle" fill="#000" fill-opacity="0.6">83</text>
<text transform="translate(184.50,48.57) scale(0.78,1)" font-size="5.6" text-anchor="middle" fill="#000" fill-opacity="0.6">83</text>
<text transform="translate(193.50,48.57) scale(0.78,1)" font-size="5.6" text-anchor="middle" fill="#fff" fill-opacity="0.68">84</text>
<text transform="translate(202.50,48.57) scale(0.78,1)" font-size="5.6" text-anchor="middle" fill="#fff" fill-opacity="0.68">86</text>
<text transform="translate(211.50,48.57) scale(0.78,1)" font-size="5.6" text-anchor="middle" fill="#fff" fill-opacity="0.68">87</text>
<text transform="translate(220.50,48.57) scale(0.78,1)" font-size="5.6" text-anchor="middle" fill="#fff" fill-opacity="0.68">87</text>
<text transform="translate(229.50,48.57) scale(0.78,1)" font-size="5.6" text-anchor="middle" fill="#fff" fill-opacity="0.68">88</text>
<text transform="translate(175.50,57.42) scale(0.78,1)" font-size="5.6" text-anchor="middle" fill="#000" fill-opacity="0.6">83</text>
<text transform="translate(184.50,57.42) scale(0.78,1)" font-size="5.6" text-anchor="middle" fill="#000" fill-opacity="0.6">83</text>
<text transform="translate(193.50,57.42) scale(0.78,1)" font-size="5.6" text-anchor="middle" fill="#fff" fill-opacity="0.68">85</text>
<text transform="translate(202.50,57.42) scale(0.78,1)" font-size="5.6" text-anchor="middle" fill="#fff" fill-opacity="0.68">86</text>
<text transform="translate(211.50,57.42) scale(0.78,1)" font-size="5.6" text-anchor="middle" fill="#fff" fill-opacity="0.68">86</text>
<text transform="translate(220.50,57.42) scale(0.78,1)" font-size="5.6" text-anchor="middle" fill="#fff" fill-opacity="0.68">86</text>
<text transform="translate(229.50,57.42) scale(0.78,1)" font-size="5.6" text-anchor="middle" fill="#fff" fill-opacity="0.68">88</text>
<text transform="translate(175.50,66.27) scale(0.78,1)" font-size="5.6" text-anchor="middle" fill="#000" fill-opacity="0.6">76</text>
<text transform="translate(184.50,66.27) scale(0.78,1)" font-size="5.6" text-anchor="middle" fill="#000" fill-opacity="0.6">80</text>
<text transform="translate(193.50,66.27) scale(0.78,1)" font-size="5.6" text-anchor="middle" fill="#000" fill-opacity="0.6">81</text>
<text transform="translate(202.50,66.27) scale(0.78,1)" font-size="5.6" text-anchor="middle" fill="#fff" fill-opacity="0.68">85</text>
<text transform="translate(211.50,66.27) scale(0.78,1)" font-size="5.6" text-anchor="middle" fill="#fff" fill-opacity="0.68">86</text>
<text transform="translate(220.50,66.27) scale(0.78,1)" font-size="5.6" text-anchor="middle" fill="#fff" fill-opacity="0.68">87</text>
<text transform="translate(229.50,66.27) scale(0.78,1)" font-size="5.6" text-anchor="middle" fill="#fff" fill-opacity="0.68">88</text>
<text transform="translate(175.50,75.12) scale(0.78,1)" font-size="5.6" text-anchor="middle" fill="#000" fill-opacity="0.6">70</text>
<text transform="translate(184.50,75.12) scale(0.78,1)" font-size="5.6" text-anchor="middle" fill="#000" fill-opacity="0.6">77</text>
<text transform="translate(193.50,75.12) scale(0.78,1)" font-size="5.6" text-anchor="middle" fill="#000" fill-opacity="0.6">80</text>
<text transform="translate(202.50,75.12) scale(0.78,1)" font-size="5.6" text-anchor="middle" fill="#fff" fill-opacity="0.68">84</text>
<text transform="translate(211.50,75.12) scale(0.78,1)" font-size="5.6" text-anchor="middle" fill="#fff" fill-opacity="0.68">85</text>
<text transform="translate(220.50,75.12) scale(0.78,1)" font-size="5.6" text-anchor="middle" fill="#fff" fill-opacity="0.68">84</text>
<text transform="translate(229.50,75.12) scale(0.78,1)" font-size="5.6" text-anchor="middle" fill="#fff" fill-opacity="0.68">84</text>
<text transform="translate(175.50,83.97) scale(0.78,1)" font-size="5.6" text-anchor="middle" fill="#000" fill-opacity="0.6">59</text>
<text transform="translate(184.50,83.97) scale(0.78,1)" font-size="5.6" text-anchor="middle" fill="#000" fill-opacity="0.6">65</text>
<text transform="translate(193.50,83.97) scale(0.78,1)" font-size="5.6" text-anchor="middle" fill="#000" fill-opacity="0.6">70</text>
<text transform="translate(202.50,83.97) scale(0.78,1)" font-size="5.6" text-anchor="middle" fill="#000" fill-opacity="0.6">75</text>
<text transform="translate(211.50,83.97) scale(0.78,1)" font-size="5.6" text-anchor="middle" fill="#000" fill-opacity="0.6">78</text>
<text transform="translate(220.50,83.97) scale(0.78,1)" font-size="5.6" text-anchor="middle" fill="#000" fill-opacity="0.6">78</text>
<text transform="translate(229.50,83.97) scale(0.78,1)" font-size="5.6" text-anchor="middle" fill="#000" fill-opacity="0.6">79</text>
<text transform="translate(175.50,92.83) scale(0.78,1)" font-size="5.6" text-anchor="middle" fill="#000" fill-opacity="0.6">29</text>
<text transform="translate(184.50,92.83) scale(0.78,1)" font-size="5.6" text-anchor="middle" fill="#000" fill-opacity="0.6">41</text>
<text transform="translate(193.50,92.83) scale(0.78,1)" font-size="5.6" text-anchor="middle" fill="#000" fill-opacity="0.6">47</text>
<text transform="translate(202.50,92.83) scale(0.78,1)" font-size="5.6" text-anchor="middle" fill="#000" fill-opacity="0.6">56</text>
<text transform="translate(211.50,92.83) scale(0.78,1)" font-size="5.6" text-anchor="middle" fill="#000" fill-opacity="0.6">63</text>
<text transform="translate(220.50,92.83) scale(0.78,1)" font-size="5.6" text-anchor="middle" fill="#000" fill-opacity="0.6">65</text>
<text transform="translate(229.50,92.83) scale(0.78,1)" font-size="5.6" text-anchor="middle" fill="#000" fill-opacity="0.6">65</text>
<text transform="translate(175.50,101.67) scale(0.78,1)" font-size="5.6" text-anchor="middle" fill="#fff" fill-opacity="0.7">17</text>
<text transform="translate(184.50,101.67) scale(0.78,1)" font-size="5.6" text-anchor="middle" fill="#fff" fill-opacity="0.7">14</text>
<text transform="translate(193.50,101.67) scale(0.78,1)" font-size="5.6" text-anchor="middle" fill="#fff" fill-opacity="0.7">20</text>
<text transform="translate(202.50,101.67) scale(0.78,1)" font-size="5.6" text-anchor="middle" fill="#000" fill-opacity="0.6">36</text>
<text transform="translate(211.50,101.67) scale(0.78,1)" font-size="5.6" text-anchor="middle" fill="#000" fill-opacity="0.6">45</text>
<text transform="translate(220.50,101.67) scale(0.78,1)" font-size="5.6" text-anchor="middle" fill="#000" fill-opacity="0.6">50</text>
<text transform="translate(229.50,101.67) scale(0.78,1)" font-size="5.6" text-anchor="middle" fill="#000" fill-opacity="0.6">50</text>
<text transform="translate(175.50,110.52) scale(0.78,1)" font-size="5.6" text-anchor="middle" fill="#fff" fill-opacity="0.7">8</text>
<text transform="translate(184.50,110.52) scale(0.78,1)" font-size="5.6" text-anchor="middle" fill="#fff" fill-opacity="0.7">6</text>
<text transform="translate(193.50,110.52) scale(0.78,1)" font-size="5.6" text-anchor="middle" fill="#fff" fill-opacity="0.7">16</text>
<text transform="translate(202.50,110.52) scale(0.78,1)" font-size="5.6" text-anchor="middle" fill="#fff" fill-opacity="0.7">25</text>
<text transform="translate(211.50,110.52) scale(0.78,1)" font-size="5.6" text-anchor="middle" fill="#000" fill-opacity="0.6">35</text>
<text transform="translate(220.50,110.52) scale(0.78,1)" font-size="5.6" text-anchor="middle" fill="#000" fill-opacity="0.6">39</text>
<text transform="translate(229.50,110.52) scale(0.78,1)" font-size="5.6" text-anchor="middle" fill="#000" fill-opacity="0.6">38</text>
<text transform="translate(175.50,119.38) scale(0.78,1)" font-size="5.6" text-anchor="middle" fill="#fff" fill-opacity="0.7">0</text>
<text transform="translate(184.50,119.38) scale(0.78,1)" font-size="5.6" text-anchor="middle" fill="#fff" fill-opacity="0.7">0</text>
<text transform="translate(193.50,119.38) scale(0.78,1)" font-size="5.6" text-anchor="middle" fill="#fff" fill-opacity="0.7">16</text>
<text transform="translate(202.50,119.38) scale(0.78,1)" font-size="5.6" text-anchor="middle" fill="#fff" fill-opacity="0.7">25</text>
<text transform="translate(211.50,119.38) scale(0.78,1)" font-size="5.6" text-anchor="middle" fill="#000" fill-opacity="0.6">38</text>
<text transform="translate(220.50,119.38) scale(0.78,1)" font-size="5.6" text-anchor="middle" fill="#000" fill-opacity="0.6">39</text>
<text transform="translate(229.50,119.38) scale(0.78,1)" font-size="5.6" text-anchor="middle" fill="#000" fill-opacity="0.6">31</text>
<line x1="175.50" y1="121.50" x2="175.50" y2="123.30" stroke="#333" stroke-width="0.5"/>
<text class="t" color="#111" transform="translate(175.50,124.10) rotate(-90)" x="0" y="1.75" font-size="4.9" text-anchor="end" fill="#111">0</text>
<line x1="184.50" y1="121.50" x2="184.50" y2="123.30" stroke="#333" stroke-width="0.5"/>
<text class="t" color="#111" transform="translate(184.50,124.10) rotate(-90)" x="0" y="1.75" font-size="4.9" text-anchor="end" fill="#111">0.1</text>
<line x1="193.50" y1="121.50" x2="193.50" y2="123.30" stroke="#333" stroke-width="0.5"/>
<text class="t" color="#111" transform="translate(193.50,124.10) rotate(-90)" x="0" y="1.75" font-size="4.9" text-anchor="end" fill="#111">0.5</text>
<line x1="202.50" y1="121.50" x2="202.50" y2="123.30" stroke="#333" stroke-width="0.5"/>
<text class="t" color="#111" transform="translate(202.50,124.10) rotate(-90)" x="0" y="1.75" font-size="4.9" text-anchor="end" fill="#111">1</text>
<line x1="211.50" y1="121.50" x2="211.50" y2="123.30" stroke="#333" stroke-width="0.5"/>
<text class="t" color="#111" transform="translate(211.50,124.10) rotate(-90)" x="0" y="1.75" font-size="4.9" text-anchor="end" fill="#111">2.5</text>
<line x1="220.50" y1="121.50" x2="220.50" y2="123.30" stroke="#333" stroke-width="0.5"/>
<text class="t" color="#111" transform="translate(220.50,124.10) rotate(-90)" x="0" y="1.75" font-size="4.9" text-anchor="end" fill="#111">5</text>
<line x1="229.50" y1="121.50" x2="229.50" y2="123.30" stroke="#333" stroke-width="0.5"/>
<text class="t" color="#111" transform="translate(229.50,124.10) rotate(-90)" x="0" y="1.75" font-size="4.9" text-anchor="end" fill="#111">7.5</text>
<rect x="236.00" y="33.00" width="9.84" height="9.55" fill="#2c2f8e"/>
<rect x="245.14" y="33.00" width="9.84" height="9.55" fill="#2f3494"/>
<rect x="254.29" y="33.00" width="9.84" height="9.55" fill="#343ea0"/>
<rect x="263.43" y="33.00" width="9.84" height="9.55" fill="#343ea0"/>
<rect x="272.57" y="33.00" width="9.84" height="9.55" fill="#343ea0"/>
<rect x="281.71" y="33.00" width="9.84" height="9.55" fill="#2f3494"/>
<rect x="290.86" y="33.00" width="9.14" height="9.55" fill="#2f3494"/>
<rect x="236.00" y="41.85" width="9.84" height="9.55" fill="#2c2f8e"/>
<rect x="245.14" y="41.85" width="9.84" height="9.55" fill="#2c2f8e"/>
<rect x="254.29" y="41.85" width="9.84" height="9.55" fill="#2c2f8e"/>
<rect x="263.43" y="41.85" width="9.84" height="9.55" fill="#2c2f8e"/>
<rect x="272.57" y="41.85" width="9.84" height="9.55" fill="#2c2f8e"/>
<rect x="281.71" y="41.85" width="9.84" height="9.55" fill="#2c2f8e"/>
<rect x="290.86" y="41.85" width="9.14" height="9.55" fill="#2c2f8e"/>
<rect x="236.00" y="50.70" width="9.84" height="9.55" fill="#2c2f8e"/>
<rect x="245.14" y="50.70" width="9.84" height="9.55" fill="#2c2f8e"/>
<rect x="254.29" y="50.70" width="9.84" height="9.55" fill="#2c2f8e"/>
<rect x="263.43" y="50.70" width="9.84" height="9.55" fill="#2c2f8e"/>
<rect x="272.57" y="50.70" width="9.84" height="9.55" fill="#2c2f8e"/>
<rect x="281.71" y="50.70" width="9.84" height="9.55" fill="#2c2f8e"/>
<rect x="290.86" y="50.70" width="9.14" height="9.55" fill="#2c2f8e"/>
<rect x="236.00" y="59.55" width="9.84" height="9.55" fill="#2c2f8e"/>
<rect x="245.14" y="59.55" width="9.84" height="9.55" fill="#2f3494"/>
<rect x="254.29" y="59.55" width="9.84" height="9.55" fill="#31399a"/>
<rect x="263.43" y="59.55" width="9.84" height="9.55" fill="#31399a"/>
<rect x="272.57" y="59.55" width="9.84" height="9.55" fill="#31399a"/>
<rect x="281.71" y="59.55" width="9.84" height="9.55" fill="#31399a"/>
<rect x="290.86" y="59.55" width="9.14" height="9.55" fill="#31399a"/>
<rect x="236.00" y="68.40" width="9.84" height="9.55" fill="#2c2f8e"/>
<rect x="245.14" y="68.40" width="9.84" height="9.55" fill="#3c52b4"/>
<rect x="254.29" y="68.40" width="9.84" height="9.55" fill="#3c52b4"/>
<rect x="263.43" y="68.40" width="9.84" height="9.55" fill="#3f5ebd"/>
<rect x="272.57" y="68.40" width="9.84" height="9.55" fill="#3f5ebd"/>
<rect x="281.71" y="68.40" width="9.84" height="9.55" fill="#3f5ebd"/>
<rect x="290.86" y="68.40" width="9.14" height="9.55" fill="#3f5ebd"/>
<rect x="236.00" y="77.25" width="9.84" height="9.55" fill="#2c2f8e"/>
<rect x="245.14" y="77.25" width="9.84" height="9.55" fill="#3c52b4"/>
<rect x="254.29" y="77.25" width="9.84" height="9.55" fill="#3c52b4"/>
<rect x="263.43" y="77.25" width="9.84" height="9.55" fill="#3f5ebd"/>
<rect x="272.57" y="77.25" width="9.84" height="9.55" fill="#406cc6"/>
<rect x="281.71" y="77.25" width="9.84" height="9.55" fill="#4288d2"/>
<rect x="290.86" y="77.25" width="9.14" height="9.55" fill="#4288d2"/>
<rect x="236.00" y="86.10" width="9.84" height="9.55" fill="#2c2f8e"/>
<rect x="245.14" y="86.10" width="9.84" height="9.55" fill="#2c2f8e"/>
<rect x="254.29" y="86.10" width="9.84" height="9.55" fill="#2c2f8e"/>
<rect x="263.43" y="86.10" width="9.84" height="9.55" fill="#31399a"/>
<rect x="272.57" y="86.10" width="9.84" height="9.55" fill="#3f5ebd"/>
<rect x="281.71" y="86.10" width="9.84" height="9.55" fill="#47a4dd"/>
<rect x="290.86" y="86.10" width="9.14" height="9.55" fill="#53bfe3"/>
<rect x="236.00" y="94.95" width="9.84" height="9.55" fill="#2c2f8e"/>
<rect x="245.14" y="94.95" width="9.84" height="9.55" fill="#2c2f8e"/>
<rect x="254.29" y="94.95" width="9.84" height="9.55" fill="#2c2f8e"/>
<rect x="263.43" y="94.95" width="9.84" height="9.55" fill="#2c2f8e"/>
<rect x="272.57" y="94.95" width="9.84" height="9.55" fill="#3c52b4"/>
<rect x="281.71" y="94.95" width="9.84" height="9.55" fill="#47a4dd"/>
<rect x="290.86" y="94.95" width="9.14" height="9.55" fill="#60c5dc"/>
<rect x="236.00" y="103.80" width="9.84" height="9.55" fill="#2c2f8e"/>
<rect x="245.14" y="103.80" width="9.84" height="9.55" fill="#2c2f8e"/>
<rect x="254.29" y="103.80" width="9.84" height="9.55" fill="#2c2f8e"/>
<rect x="263.43" y="103.80" width="9.84" height="9.55" fill="#2c2f8e"/>
<rect x="272.57" y="103.80" width="9.84" height="9.55" fill="#2f3494"/>
<rect x="281.71" y="103.80" width="9.84" height="9.55" fill="#3c52b4"/>
<rect x="290.86" y="103.80" width="9.14" height="9.55" fill="#406cc6"/>
<rect x="236.00" y="112.65" width="9.84" height="8.85" fill="#2c2f8e"/>
<rect x="245.14" y="112.65" width="9.84" height="8.85" fill="#2c2f8e"/>
<rect x="254.29" y="112.65" width="9.84" height="8.85" fill="#2c2f8e"/>
<rect x="263.43" y="112.65" width="9.84" height="8.85" fill="#2c2f8e"/>
<rect x="272.57" y="112.65" width="9.84" height="8.85" fill="#2c2f8e"/>
<rect x="281.71" y="112.65" width="9.84" height="8.85" fill="#2c2f8e"/>
<rect x="290.86" y="112.65" width="9.14" height="8.85" fill="#2c2f8e"/>
<text transform="translate(240.57,39.72) scale(0.78,1)" font-size="5.6" text-anchor="middle" fill="#fff" fill-opacity="0.7">0</text>
<text transform="translate(249.71,39.72) scale(0.78,1)" font-size="5.6" text-anchor="middle" fill="#fff" fill-opacity="0.7">1</text>
<text transform="translate(258.86,39.72) scale(0.78,1)" font-size="5.6" text-anchor="middle" fill="#fff" fill-opacity="0.7">3</text>
<text transform="translate(268.00,39.72) scale(0.78,1)" font-size="5.6" text-anchor="middle" fill="#fff" fill-opacity="0.7">3</text>
<text transform="translate(277.14,39.72) scale(0.78,1)" font-size="5.6" text-anchor="middle" fill="#fff" fill-opacity="0.7">3</text>
<text transform="translate(286.29,39.72) scale(0.78,1)" font-size="5.6" text-anchor="middle" fill="#fff" fill-opacity="0.7">1</text>
<text transform="translate(295.43,39.72) scale(0.78,1)" font-size="5.6" text-anchor="middle" fill="#fff" fill-opacity="0.7">1</text>
<text transform="translate(240.57,48.57) scale(0.78,1)" font-size="5.6" text-anchor="middle" fill="#fff" fill-opacity="0.7">0</text>
<text transform="translate(249.71,48.57) scale(0.78,1)" font-size="5.6" text-anchor="middle" fill="#fff" fill-opacity="0.7">–2</text>
<text transform="translate(258.86,48.57) scale(0.78,1)" font-size="5.6" text-anchor="middle" fill="#fff" fill-opacity="0.7">–1</text>
<text transform="translate(268.00,48.57) scale(0.78,1)" font-size="5.6" text-anchor="middle" fill="#fff" fill-opacity="0.7">–1</text>
<text transform="translate(277.14,48.57) scale(0.78,1)" font-size="5.6" text-anchor="middle" fill="#fff" fill-opacity="0.7">–1</text>
<text transform="translate(286.29,48.57) scale(0.78,1)" font-size="5.6" text-anchor="middle" fill="#fff" fill-opacity="0.7">0</text>
<text transform="translate(295.43,48.57) scale(0.78,1)" font-size="5.6" text-anchor="middle" fill="#fff" fill-opacity="0.7">–1</text>
<text transform="translate(240.57,57.42) scale(0.78,1)" font-size="5.6" text-anchor="middle" fill="#fff" fill-opacity="0.7">0</text>
<text transform="translate(249.71,57.42) scale(0.78,1)" font-size="5.6" text-anchor="middle" fill="#fff" fill-opacity="0.7">–2</text>
<text transform="translate(258.86,57.42) scale(0.78,1)" font-size="5.6" text-anchor="middle" fill="#fff" fill-opacity="0.7">–2</text>
<text transform="translate(268.00,57.42) scale(0.78,1)" font-size="5.6" text-anchor="middle" fill="#fff" fill-opacity="0.7">–2</text>
<text transform="translate(277.14,57.42) scale(0.78,1)" font-size="5.6" text-anchor="middle" fill="#fff" fill-opacity="0.7">–1</text>
<text transform="translate(286.29,57.42) scale(0.78,1)" font-size="5.6" text-anchor="middle" fill="#fff" fill-opacity="0.7">–1</text>
<text transform="translate(295.43,57.42) scale(0.78,1)" font-size="5.6" text-anchor="middle" fill="#fff" fill-opacity="0.7">–1</text>
<text transform="translate(240.57,66.27) scale(0.78,1)" font-size="5.6" text-anchor="middle" fill="#fff" fill-opacity="0.7">0</text>
<text transform="translate(249.71,66.27) scale(0.78,1)" font-size="5.6" text-anchor="middle" fill="#fff" fill-opacity="0.7">1</text>
<text transform="translate(258.86,66.27) scale(0.78,1)" font-size="5.6" text-anchor="middle" fill="#fff" fill-opacity="0.7">2</text>
<text transform="translate(268.00,66.27) scale(0.78,1)" font-size="5.6" text-anchor="middle" fill="#fff" fill-opacity="0.7">2</text>
<text transform="translate(277.14,66.27) scale(0.78,1)" font-size="5.6" text-anchor="middle" fill="#fff" fill-opacity="0.7">2</text>
<text transform="translate(286.29,66.27) scale(0.78,1)" font-size="5.6" text-anchor="middle" fill="#fff" fill-opacity="0.7">2</text>
<text transform="translate(295.43,66.27) scale(0.78,1)" font-size="5.6" text-anchor="middle" fill="#fff" fill-opacity="0.7">2</text>
<text transform="translate(240.57,75.12) scale(0.78,1)" font-size="5.6" text-anchor="middle" fill="#fff" fill-opacity="0.7">0</text>
<text transform="translate(249.71,75.12) scale(0.78,1)" font-size="5.6" text-anchor="middle" fill="#fff" fill-opacity="0.7">5</text>
<text transform="translate(258.86,75.12) scale(0.78,1)" font-size="5.6" text-anchor="middle" fill="#fff" fill-opacity="0.7">5</text>
<text transform="translate(268.00,75.12) scale(0.78,1)" font-size="5.6" text-anchor="middle" fill="#fff" fill-opacity="0.7">6</text>
<text transform="translate(277.14,75.12) scale(0.78,1)" font-size="5.6" text-anchor="middle" fill="#fff" fill-opacity="0.7">6</text>
<text transform="translate(286.29,75.12) scale(0.78,1)" font-size="5.6" text-anchor="middle" fill="#fff" fill-opacity="0.7">6</text>
<text transform="translate(295.43,75.12) scale(0.78,1)" font-size="5.6" text-anchor="middle" fill="#fff" fill-opacity="0.7">6</text>
<text transform="translate(240.57,83.97) scale(0.78,1)" font-size="5.6" text-anchor="middle" fill="#fff" fill-opacity="0.7">0</text>
<text transform="translate(249.71,83.97) scale(0.78,1)" font-size="5.6" text-anchor="middle" fill="#fff" fill-opacity="0.7">5</text>
<text transform="translate(258.86,83.97) scale(0.78,1)" font-size="5.6" text-anchor="middle" fill="#fff" fill-opacity="0.7">5</text>
<text transform="translate(268.00,83.97) scale(0.78,1)" font-size="5.6" text-anchor="middle" fill="#fff" fill-opacity="0.7">6</text>
<text transform="translate(277.14,83.97) scale(0.78,1)" font-size="5.6" text-anchor="middle" fill="#fff" fill-opacity="0.7">7</text>
<text transform="translate(286.29,83.97) scale(0.78,1)" font-size="5.6" text-anchor="middle" fill="#fff" fill-opacity="0.7">8</text>
<text transform="translate(295.43,83.97) scale(0.78,1)" font-size="5.6" text-anchor="middle" fill="#fff" fill-opacity="0.7">8</text>
<text transform="translate(240.57,92.83) scale(0.78,1)" font-size="5.6" text-anchor="middle" fill="#fff" fill-opacity="0.7">0</text>
<text transform="translate(249.71,92.83) scale(0.78,1)" font-size="5.6" text-anchor="middle" fill="#fff" fill-opacity="0.7">–1</text>
<text transform="translate(258.86,92.83) scale(0.78,1)" font-size="5.6" text-anchor="middle" fill="#fff" fill-opacity="0.7">0</text>
<text transform="translate(268.00,92.83) scale(0.78,1)" font-size="5.6" text-anchor="middle" fill="#fff" fill-opacity="0.7">2</text>
<text transform="translate(277.14,92.83) scale(0.78,1)" font-size="5.6" text-anchor="middle" fill="#fff" fill-opacity="0.7">6</text>
<text transform="translate(286.29,92.83) scale(0.78,1)" font-size="5.6" text-anchor="middle" fill="#000" fill-opacity="0.6">9</text>
<text transform="translate(295.43,92.83) scale(0.78,1)" font-size="5.6" text-anchor="middle" fill="#000" fill-opacity="0.6">10</text>
<text transform="translate(240.57,101.67) scale(0.78,1)" font-size="5.6" text-anchor="middle" fill="#fff" fill-opacity="0.7">0</text>
<text transform="translate(249.71,101.67) scale(0.78,1)" font-size="5.6" text-anchor="middle" fill="#fff" fill-opacity="0.7">0</text>
<text transform="translate(258.86,101.67) scale(0.78,1)" font-size="5.6" text-anchor="middle" fill="#fff" fill-opacity="0.7">0</text>
<text transform="translate(268.00,101.67) scale(0.78,1)" font-size="5.6" text-anchor="middle" fill="#fff" fill-opacity="0.7">0</text>
<text transform="translate(277.14,101.67) scale(0.78,1)" font-size="5.6" text-anchor="middle" fill="#fff" fill-opacity="0.7">5</text>
<text transform="translate(286.29,101.67) scale(0.78,1)" font-size="5.6" text-anchor="middle" fill="#000" fill-opacity="0.6">9</text>
<text transform="translate(295.43,101.67) scale(0.78,1)" font-size="5.6" text-anchor="middle" fill="#000" fill-opacity="0.6">11</text>
<text transform="translate(240.57,110.52) scale(0.78,1)" font-size="5.6" text-anchor="middle" fill="#fff" fill-opacity="0.7">0</text>
<text transform="translate(249.71,110.52) scale(0.78,1)" font-size="5.6" text-anchor="middle" fill="#fff" fill-opacity="0.7">–7</text>
<text transform="translate(258.86,110.52) scale(0.78,1)" font-size="5.6" text-anchor="middle" fill="#fff" fill-opacity="0.7">–6</text>
<text transform="translate(268.00,110.52) scale(0.78,1)" font-size="5.6" text-anchor="middle" fill="#fff" fill-opacity="0.7">–3</text>
<text transform="translate(277.14,110.52) scale(0.78,1)" font-size="5.6" text-anchor="middle" fill="#fff" fill-opacity="0.7">1</text>
<text transform="translate(286.29,110.52) scale(0.78,1)" font-size="5.6" text-anchor="middle" fill="#fff" fill-opacity="0.7">5</text>
<text transform="translate(295.43,110.52) scale(0.78,1)" font-size="5.6" text-anchor="middle" fill="#fff" fill-opacity="0.7">7</text>
<text transform="translate(240.57,119.38) scale(0.78,1)" font-size="5.6" text-anchor="middle" fill="#fff" fill-opacity="0.7">0</text>
<text transform="translate(249.71,119.38) scale(0.78,1)" font-size="5.6" text-anchor="middle" fill="#fff" fill-opacity="0.7">0</text>
<text transform="translate(258.86,119.38) scale(0.78,1)" font-size="5.6" text-anchor="middle" fill="#fff" fill-opacity="0.7">0</text>
<text transform="translate(268.00,119.38) scale(0.78,1)" font-size="5.6" text-anchor="middle" fill="#fff" fill-opacity="0.7">0</text>
<text transform="translate(277.14,119.38) scale(0.78,1)" font-size="5.6" text-anchor="middle" fill="#fff" fill-opacity="0.7">0</text>
<text transform="translate(286.29,119.38) scale(0.78,1)" font-size="5.6" text-anchor="middle" fill="#fff" fill-opacity="0.7">0</text>
<text transform="translate(295.43,119.38) scale(0.78,1)" font-size="5.6" text-anchor="middle" fill="#fff" fill-opacity="0.7">0</text>
<line x1="240.57" y1="121.50" x2="240.57" y2="123.30" stroke="#333" stroke-width="0.5"/>
<text class="t" color="#111" transform="translate(240.57,124.10) rotate(-90)" x="0" y="1.75" font-size="4.9" text-anchor="end" fill="#111">0</text>
<line x1="249.71" y1="121.50" x2="249.71" y2="123.30" stroke="#333" stroke-width="0.5"/>
<text class="t" color="#111" transform="translate(249.71,124.10) rotate(-90)" x="0" y="1.75" font-size="4.9" text-anchor="end" fill="#111">0.1</text>
<line x1="258.86" y1="121.50" x2="258.86" y2="123.30" stroke="#333" stroke-width="0.5"/>
<text class="t" color="#111" transform="translate(258.86,124.10) rotate(-90)" x="0" y="1.75" font-size="4.9" text-anchor="end" fill="#111">0.5</text>
<line x1="268.00" y1="121.50" x2="268.00" y2="123.30" stroke="#333" stroke-width="0.5"/>
<text class="t" color="#111" transform="translate(268.00,124.10) rotate(-90)" x="0" y="1.75" font-size="4.9" text-anchor="end" fill="#111">1</text>
<line x1="277.14" y1="121.50" x2="277.14" y2="123.30" stroke="#333" stroke-width="0.5"/>
<text class="t" color="#111" transform="translate(277.14,124.10) rotate(-90)" x="0" y="1.75" font-size="4.9" text-anchor="end" fill="#111">2.5</text>
<line x1="286.29" y1="121.50" x2="286.29" y2="123.30" stroke="#333" stroke-width="0.5"/>
<text class="t" color="#111" transform="translate(286.29,124.10) rotate(-90)" x="0" y="1.75" font-size="4.9" text-anchor="end" fill="#111">5</text>
<line x1="295.43" y1="121.50" x2="295.43" y2="123.30" stroke="#333" stroke-width="0.5"/>
<text class="t" color="#111" transform="translate(295.43,124.10) rotate(-90)" x="0" y="1.75" font-size="4.9" text-anchor="end" fill="#111">7.5</text>
<rect x="36.00" y="160.60" width="9.91" height="9.57" fill="#fac820"/>
<rect x="45.21" y="160.60" width="9.91" height="9.57" fill="#f9ce22"/>
<rect x="54.43" y="160.60" width="9.91" height="9.57" fill="#fac820"/>
<rect x="63.64" y="160.60" width="9.91" height="9.57" fill="#fac820"/>
<rect x="72.86" y="160.60" width="9.91" height="9.57" fill="#fac820"/>
<rect x="82.07" y="160.60" width="9.91" height="9.57" fill="#fac820"/>
<rect x="91.29" y="160.60" width="9.21" height="9.57" fill="#fac820"/>
<rect x="36.00" y="169.47" width="9.91" height="9.57" fill="#f6e628"/>
<rect x="45.21" y="169.47" width="9.91" height="9.57" fill="#f8d423"/>
<rect x="54.43" y="169.47" width="9.91" height="9.57" fill="#f9ce22"/>
<rect x="63.64" y="169.47" width="9.91" height="9.57" fill="#fac820"/>
<rect x="72.86" y="169.47" width="9.91" height="9.57" fill="#fac020"/>
<rect x="82.07" y="169.47" width="9.91" height="9.57" fill="#f9b81f"/>
<rect x="91.29" y="169.47" width="9.21" height="9.57" fill="#f8b01e"/>
<rect x="36.00" y="178.34" width="9.91" height="9.57" fill="#bbd744"/>
<rect x="45.21" y="178.34" width="9.91" height="9.57" fill="#e6e22e"/>
<rect x="54.43" y="178.34" width="9.91" height="9.57" fill="#e6e22e"/>
<rect x="63.64" y="178.34" width="9.91" height="9.57" fill="#f1e52a"/>
<rect x="72.86" y="178.34" width="9.91" height="9.57" fill="#f6e628"/>
<rect x="82.07" y="178.34" width="9.91" height="9.57" fill="#f8d423"/>
<rect x="91.29" y="178.34" width="9.21" height="9.57" fill="#f9ce22"/>
<rect x="36.00" y="187.21" width="9.91" height="9.57" fill="#68c8d6"/>
<rect x="45.21" y="187.21" width="9.91" height="9.57" fill="#6ec7b8"/>
<rect x="54.43" y="187.21" width="9.91" height="9.57" fill="#72c6a4"/>
<rect x="63.64" y="187.21" width="9.91" height="9.57" fill="#81c989"/>
<rect x="72.86" y="187.21" width="9.91" height="9.57" fill="#91cd6f"/>
<rect x="82.07" y="187.21" width="9.91" height="9.57" fill="#b2d549"/>
<rect x="91.29" y="187.21" width="9.21" height="9.57" fill="#cddc39"/>
<rect x="36.00" y="196.08" width="9.91" height="9.57" fill="#3f63c0"/>
<rect x="45.21" y="196.08" width="9.91" height="9.57" fill="#3f67c3"/>
<rect x="54.43" y="196.08" width="9.91" height="9.57" fill="#406cc5"/>
<rect x="63.64" y="196.08" width="9.91" height="9.57" fill="#4178cb"/>
<rect x="72.86" y="196.08" width="9.91" height="9.57" fill="#4288d2"/>
<rect x="82.07" y="196.08" width="9.91" height="9.57" fill="#4db2e0"/>
<rect x="91.29" y="196.08" width="9.21" height="9.57" fill="#5cc4de"/>
<rect x="36.00" y="204.95" width="9.91" height="9.57" fill="#2c2f8e"/>
<rect x="45.21" y="204.95" width="9.91" height="9.57" fill="#303697"/>
<rect x="54.43" y="204.95" width="9.91" height="9.57" fill="#2f3595"/>
<rect x="63.64" y="204.95" width="9.91" height="9.57" fill="#2f3595"/>
<rect x="72.86" y="204.95" width="9.91" height="9.57" fill="#303697"/>
<rect x="82.07" y="204.95" width="9.91" height="9.57" fill="#343ea0"/>
<rect x="91.29" y="204.95" width="9.21" height="9.57" fill="#3541a3"/>
<rect x="36.00" y="213.82" width="9.91" height="9.57" fill="#2e3292"/>
<rect x="45.21" y="213.82" width="9.91" height="9.57" fill="#2c2f8e"/>
<rect x="54.43" y="213.82" width="9.91" height="9.57" fill="#2c2f8e"/>
<rect x="63.64" y="213.82" width="9.91" height="9.57" fill="#2c2f8e"/>
<rect x="72.86" y="213.82" width="9.91" height="9.57" fill="#2c2f8e"/>
<rect x="82.07" y="213.82" width="9.91" height="9.57" fill="#2e3493"/>
<rect x="91.29" y="213.82" width="9.21" height="9.57" fill="#323a9b"/>
<rect x="36.00" y="222.69" width="9.91" height="9.57" fill="#2c2f8e"/>
<rect x="45.21" y="222.69" width="9.91" height="9.57" fill="#2c2f8e"/>
<rect x="54.43" y="222.69" width="9.91" height="9.57" fill="#2c2f8e"/>
<rect x="63.64" y="222.69" width="9.91" height="9.57" fill="#2c2f8e"/>
<rect x="72.86" y="222.69" width="9.91" height="9.57" fill="#2c2f8e"/>
<rect x="82.07" y="222.69" width="9.91" height="9.57" fill="#2c2f8e"/>
<rect x="91.29" y="222.69" width="9.21" height="9.57" fill="#2f3595"/>
<rect x="36.00" y="231.56" width="9.91" height="9.57" fill="#2c2f8e"/>
<rect x="45.21" y="231.56" width="9.91" height="9.57" fill="#2c2f8e"/>
<rect x="54.43" y="231.56" width="9.91" height="9.57" fill="#2c2f8e"/>
<rect x="63.64" y="231.56" width="9.91" height="9.57" fill="#2c2f8e"/>
<rect x="72.86" y="231.56" width="9.91" height="9.57" fill="#2c2f8e"/>
<rect x="82.07" y="231.56" width="9.91" height="9.57" fill="#2d3090"/>
<rect x="91.29" y="231.56" width="9.21" height="9.57" fill="#2f3595"/>
<rect x="36.00" y="240.43" width="9.91" height="8.87" fill="#2c2f8e"/>
<rect x="45.21" y="240.43" width="9.91" height="8.87" fill="#2e3292"/>
<rect x="54.43" y="240.43" width="9.91" height="8.87" fill="#2d3090"/>
<rect x="63.64" y="240.43" width="9.91" height="8.87" fill="#2d3090"/>
<rect x="72.86" y="240.43" width="9.91" height="8.87" fill="#2e3292"/>
<rect x="82.07" y="240.43" width="9.91" height="8.87" fill="#303697"/>
<rect x="91.29" y="240.43" width="9.21" height="8.87" fill="#323b9c"/>
<text transform="translate(40.61,167.34) scale(0.78,1)" font-size="5.6" text-anchor="middle" fill="#000" fill-opacity="0.6">67</text>
<text transform="translate(49.82,167.34) scale(0.78,1)" font-size="5.6" text-anchor="middle" fill="#000" fill-opacity="0.6">66</text>
<text transform="translate(59.04,167.34) scale(0.78,1)" font-size="5.6" text-anchor="middle" fill="#000" fill-opacity="0.6">67</text>
<text transform="translate(68.25,167.34) scale(0.78,1)" font-size="5.6" text-anchor="middle" fill="#000" fill-opacity="0.6">67</text>
<text transform="translate(77.46,167.34) scale(0.78,1)" font-size="5.6" text-anchor="middle" fill="#000" fill-opacity="0.6">67</text>
<text transform="translate(86.68,167.34) scale(0.78,1)" font-size="5.6" text-anchor="middle" fill="#000" fill-opacity="0.6">67</text>
<text transform="translate(95.89,167.34) scale(0.78,1)" font-size="5.6" text-anchor="middle" fill="#000" fill-opacity="0.6">67</text>
<text transform="translate(40.61,176.21) scale(0.78,1)" font-size="5.6" text-anchor="middle" fill="#000" fill-opacity="0.6">62</text>
<text transform="translate(49.82,176.21) scale(0.78,1)" font-size="5.6" text-anchor="middle" fill="#000" fill-opacity="0.6">65</text>
<text transform="translate(59.04,176.21) scale(0.78,1)" font-size="5.6" text-anchor="middle" fill="#000" fill-opacity="0.6">66</text>
<text transform="translate(68.25,176.21) scale(0.78,1)" font-size="5.6" text-anchor="middle" fill="#000" fill-opacity="0.6">67</text>
<text transform="translate(77.46,176.21) scale(0.78,1)" font-size="5.6" text-anchor="middle" fill="#000" fill-opacity="0.6">68</text>
<text transform="translate(86.68,176.21) scale(0.78,1)" font-size="5.6" text-anchor="middle" fill="#000" fill-opacity="0.6">69</text>
<text transform="translate(95.89,176.21) scale(0.78,1)" font-size="5.6" text-anchor="middle" fill="#000" fill-opacity="0.6">70</text>
<text transform="translate(40.61,185.08) scale(0.78,1)" font-size="5.6" text-anchor="middle" fill="#000" fill-opacity="0.6">53</text>
<text transform="translate(49.82,185.08) scale(0.78,1)" font-size="5.6" text-anchor="middle" fill="#000" fill-opacity="0.6">59</text>
<text transform="translate(59.04,185.08) scale(0.78,1)" font-size="5.6" text-anchor="middle" fill="#000" fill-opacity="0.6">59</text>
<text transform="translate(68.25,185.08) scale(0.78,1)" font-size="5.6" text-anchor="middle" fill="#000" fill-opacity="0.6">61</text>
<text transform="translate(77.46,185.08) scale(0.78,1)" font-size="5.6" text-anchor="middle" fill="#000" fill-opacity="0.6">62</text>
<text transform="translate(86.68,185.08) scale(0.78,1)" font-size="5.6" text-anchor="middle" fill="#000" fill-opacity="0.6">65</text>
<text transform="translate(95.89,185.08) scale(0.78,1)" font-size="5.6" text-anchor="middle" fill="#000" fill-opacity="0.6">66</text>
<text transform="translate(40.61,193.94) scale(0.78,1)" font-size="5.6" text-anchor="middle" fill="#000" fill-opacity="0.6">39</text>
<text transform="translate(49.82,193.94) scale(0.78,1)" font-size="5.6" text-anchor="middle" fill="#000" fill-opacity="0.6">42</text>
<text transform="translate(59.04,193.94) scale(0.78,1)" font-size="5.6" text-anchor="middle" fill="#000" fill-opacity="0.6">44</text>
<text transform="translate(68.25,193.94) scale(0.78,1)" font-size="5.6" text-anchor="middle" fill="#000" fill-opacity="0.6">46</text>
<text transform="translate(77.46,193.94) scale(0.78,1)" font-size="5.6" text-anchor="middle" fill="#000" fill-opacity="0.6">48</text>
<text transform="translate(86.68,193.94) scale(0.78,1)" font-size="5.6" text-anchor="middle" fill="#000" fill-opacity="0.6">52</text>
<text transform="translate(95.89,193.94) scale(0.78,1)" font-size="5.6" text-anchor="middle" fill="#000" fill-opacity="0.6">55</text>
<text transform="translate(40.61,202.81) scale(0.78,1)" font-size="5.6" text-anchor="middle" fill="#fff" fill-opacity="0.7">21</text>
<text transform="translate(49.82,202.81) scale(0.78,1)" font-size="5.6" text-anchor="middle" fill="#fff" fill-opacity="0.7">22</text>
<text transform="translate(59.04,202.81) scale(0.78,1)" font-size="5.6" text-anchor="middle" fill="#fff" fill-opacity="0.7">23</text>
<text transform="translate(68.25,202.81) scale(0.78,1)" font-size="5.6" text-anchor="middle" fill="#fff" fill-opacity="0.7">25</text>
<text transform="translate(77.46,202.81) scale(0.78,1)" font-size="5.6" text-anchor="middle" fill="#fff" fill-opacity="0.7">27</text>
<text transform="translate(86.68,202.81) scale(0.78,1)" font-size="5.6" text-anchor="middle" fill="#000" fill-opacity="0.6">32</text>
<text transform="translate(95.89,202.81) scale(0.78,1)" font-size="5.6" text-anchor="middle" fill="#000" fill-opacity="0.6">36</text>
<text transform="translate(40.61,211.69) scale(0.78,1)" font-size="5.6" text-anchor="middle" fill="#fff" fill-opacity="0.7">0</text>
<text transform="translate(49.82,211.69) scale(0.78,1)" font-size="5.6" text-anchor="middle" fill="#fff" fill-opacity="0.7">5</text>
<text transform="translate(59.04,211.69) scale(0.78,1)" font-size="5.6" text-anchor="middle" fill="#fff" fill-opacity="0.7">4</text>
<text transform="translate(68.25,211.69) scale(0.78,1)" font-size="5.6" text-anchor="middle" fill="#fff" fill-opacity="0.7">4</text>
<text transform="translate(77.46,211.69) scale(0.78,1)" font-size="5.6" text-anchor="middle" fill="#fff" fill-opacity="0.7">5</text>
<text transform="translate(86.68,211.69) scale(0.78,1)" font-size="5.6" text-anchor="middle" fill="#fff" fill-opacity="0.7">10</text>
<text transform="translate(95.89,211.69) scale(0.78,1)" font-size="5.6" text-anchor="middle" fill="#fff" fill-opacity="0.7">11</text>
<text transform="translate(40.61,220.56) scale(0.78,1)" font-size="5.6" text-anchor="middle" fill="#fff" fill-opacity="0.7">2</text>
<text transform="translate(49.82,220.56) scale(0.78,1)" font-size="5.6" text-anchor="middle" fill="#fff" fill-opacity="0.7">0</text>
<text transform="translate(59.04,220.56) scale(0.78,1)" font-size="5.6" text-anchor="middle" fill="#fff" fill-opacity="0.7">0</text>
<text transform="translate(68.25,220.56) scale(0.78,1)" font-size="5.6" text-anchor="middle" fill="#fff" fill-opacity="0.7">0</text>
<text transform="translate(77.46,220.56) scale(0.78,1)" font-size="5.6" text-anchor="middle" fill="#fff" fill-opacity="0.7">0</text>
<text transform="translate(86.68,220.56) scale(0.78,1)" font-size="5.6" text-anchor="middle" fill="#fff" fill-opacity="0.7">3</text>
<text transform="translate(95.89,220.56) scale(0.78,1)" font-size="5.6" text-anchor="middle" fill="#fff" fill-opacity="0.7">7</text>
<text transform="translate(40.61,229.43) scale(0.78,1)" font-size="5.6" text-anchor="middle" fill="#fff" fill-opacity="0.7">0</text>
<text transform="translate(49.82,229.43) scale(0.78,1)" font-size="5.6" text-anchor="middle" fill="#fff" fill-opacity="0.7">0</text>
<text transform="translate(59.04,229.43) scale(0.78,1)" font-size="5.6" text-anchor="middle" fill="#fff" fill-opacity="0.7">0</text>
<text transform="translate(68.25,229.43) scale(0.78,1)" font-size="5.6" text-anchor="middle" fill="#fff" fill-opacity="0.7">0</text>
<text transform="translate(77.46,229.43) scale(0.78,1)" font-size="5.6" text-anchor="middle" fill="#fff" fill-opacity="0.7">0</text>
<text transform="translate(86.68,229.43) scale(0.78,1)" font-size="5.6" text-anchor="middle" fill="#fff" fill-opacity="0.7">0</text>
<text transform="translate(95.89,229.43) scale(0.78,1)" font-size="5.6" text-anchor="middle" fill="#fff" fill-opacity="0.7">4</text>
<text transform="translate(40.61,238.30) scale(0.78,1)" font-size="5.6" text-anchor="middle" fill="#fff" fill-opacity="0.7">0</text>
<text transform="translate(49.82,238.30) scale(0.78,1)" font-size="5.6" text-anchor="middle" fill="#fff" fill-opacity="0.7">0</text>
<text transform="translate(59.04,238.30) scale(0.78,1)" font-size="5.6" text-anchor="middle" fill="#fff" fill-opacity="0.7">0</text>
<text transform="translate(68.25,238.30) scale(0.78,1)" font-size="5.6" text-anchor="middle" fill="#fff" fill-opacity="0.7">0</text>
<text transform="translate(77.46,238.30) scale(0.78,1)" font-size="5.6" text-anchor="middle" fill="#fff" fill-opacity="0.7">0</text>
<text transform="translate(86.68,238.30) scale(0.78,1)" font-size="5.6" text-anchor="middle" fill="#fff" fill-opacity="0.7">1</text>
<text transform="translate(95.89,238.30) scale(0.78,1)" font-size="5.6" text-anchor="middle" fill="#fff" fill-opacity="0.7">4</text>
<text transform="translate(40.61,247.17) scale(0.78,1)" font-size="5.6" text-anchor="middle" fill="#fff" fill-opacity="0.7">0</text>
<text transform="translate(49.82,247.17) scale(0.78,1)" font-size="5.6" text-anchor="middle" fill="#fff" fill-opacity="0.7">2</text>
<text transform="translate(59.04,247.17) scale(0.78,1)" font-size="5.6" text-anchor="middle" fill="#fff" fill-opacity="0.7">1</text>
<text transform="translate(68.25,247.17) scale(0.78,1)" font-size="5.6" text-anchor="middle" fill="#fff" fill-opacity="0.7">1</text>
<text transform="translate(77.46,247.17) scale(0.78,1)" font-size="5.6" text-anchor="middle" fill="#fff" fill-opacity="0.7">2</text>
<text transform="translate(86.68,247.17) scale(0.78,1)" font-size="5.6" text-anchor="middle" fill="#fff" fill-opacity="0.7">5</text>
<text transform="translate(95.89,247.17) scale(0.78,1)" font-size="5.6" text-anchor="middle" fill="#fff" fill-opacity="0.7">8</text>
<line x1="40.61" y1="249.30" x2="40.61" y2="251.10" stroke="#333" stroke-width="0.5"/>
<text class="t" color="#111" transform="translate(40.61,251.90) rotate(-90)" x="0" y="1.75" font-size="4.9" text-anchor="end" fill="#111">0</text>
<line x1="49.82" y1="249.30" x2="49.82" y2="251.10" stroke="#333" stroke-width="0.5"/>
<text class="t" color="#111" transform="translate(49.82,251.90) rotate(-90)" x="0" y="1.75" font-size="4.9" text-anchor="end" fill="#111">0.1</text>
<line x1="59.04" y1="249.30" x2="59.04" y2="251.10" stroke="#333" stroke-width="0.5"/>
<text class="t" color="#111" transform="translate(59.04,251.90) rotate(-90)" x="0" y="1.75" font-size="4.9" text-anchor="end" fill="#111">0.25</text>
<line x1="68.25" y1="249.30" x2="68.25" y2="251.10" stroke="#333" stroke-width="0.5"/>
<text class="t" color="#111" transform="translate(68.25,251.90) rotate(-90)" x="0" y="1.75" font-size="4.9" text-anchor="end" fill="#111">0.5</text>
<line x1="77.46" y1="249.30" x2="77.46" y2="251.10" stroke="#333" stroke-width="0.5"/>
<text class="t" color="#111" transform="translate(77.46,251.90) rotate(-90)" x="0" y="1.75" font-size="4.9" text-anchor="end" fill="#111">1</text>
<line x1="86.68" y1="249.30" x2="86.68" y2="251.10" stroke="#333" stroke-width="0.5"/>
<text class="t" color="#111" transform="translate(86.68,251.90) rotate(-90)" x="0" y="1.75" font-size="4.9" text-anchor="end" fill="#111">2</text>
<line x1="95.89" y1="249.30" x2="95.89" y2="251.10" stroke="#333" stroke-width="0.5"/>
<text class="t" color="#111" transform="translate(95.89,251.90) rotate(-90)" x="0" y="1.75" font-size="4.9" text-anchor="end" fill="#111">3</text>
<line x1="34.20" y1="165.03" x2="36.00" y2="165.03" stroke="#333" stroke-width="0.5"/>
<text class="t" x="33.00" y="167.46" font-size="5.1" text-anchor="end" fill="#111" color="#111">10</text>
<line x1="34.20" y1="173.91" x2="36.00" y2="173.91" stroke="#333" stroke-width="0.5"/>
<text class="t" x="33.00" y="176.33" font-size="5.1" text-anchor="end" fill="#111" color="#111">3</text>
<line x1="34.20" y1="182.78" x2="36.00" y2="182.78" stroke="#333" stroke-width="0.5"/>
<text class="t" x="33.00" y="185.20" font-size="5.1" text-anchor="end" fill="#111" color="#111">1</text>
<line x1="34.20" y1="191.64" x2="36.00" y2="191.64" stroke="#333" stroke-width="0.5"/>
<text class="t" x="33.00" y="194.07" font-size="5.1" text-anchor="end" fill="#111" color="#111">0.3</text>
<line x1="34.20" y1="200.51" x2="36.00" y2="200.51" stroke="#333" stroke-width="0.5"/>
<text class="t" x="33.00" y="202.94" font-size="5.1" text-anchor="end" fill="#111" color="#111">0.1</text>
<line x1="34.20" y1="209.38" x2="36.00" y2="209.38" stroke="#333" stroke-width="0.5"/>
<text class="t" x="33.00" y="211.81" font-size="5.1" text-anchor="end" fill="#111" color="#111">0.03</text>
<line x1="34.20" y1="218.25" x2="36.00" y2="218.25" stroke="#333" stroke-width="0.5"/>
<text class="t" x="33.00" y="220.68" font-size="5.1" text-anchor="end" fill="#111" color="#111">0.01</text>
<line x1="34.20" y1="227.12" x2="36.00" y2="227.12" stroke="#333" stroke-width="0.5"/>
<text class="t" x="33.00" y="229.55" font-size="5.1" text-anchor="end" fill="#111" color="#111">0.003</text>
<line x1="34.20" y1="236.00" x2="36.00" y2="236.00" stroke="#333" stroke-width="0.5"/>
<text class="t" x="33.00" y="238.42" font-size="5.1" text-anchor="end" fill="#111" color="#111">0.001</text>
<line x1="34.20" y1="244.87" x2="36.00" y2="244.87" stroke="#333" stroke-width="0.5"/>
<text class="t" x="33.00" y="247.29" font-size="5.1" text-anchor="end" fill="#111" color="#111">0</text>
<rect x="102.00" y="160.60" width="9.84" height="9.57" fill="#2c2f8e"/>
<rect x="111.14" y="160.60" width="9.84" height="9.57" fill="#2c2f8e"/>
<rect x="120.29" y="160.60" width="9.84" height="9.57" fill="#2c2f8e"/>
<rect x="129.43" y="160.60" width="9.84" height="9.57" fill="#2c2f8e"/>
<rect x="138.57" y="160.60" width="9.84" height="9.57" fill="#2c2f8e"/>
<rect x="147.71" y="160.60" width="9.84" height="9.57" fill="#2c2f8e"/>
<rect x="156.86" y="160.60" width="9.14" height="9.57" fill="#2c2f8e"/>
<rect x="102.00" y="169.47" width="9.84" height="9.57" fill="#2c2f8e"/>
<rect x="111.14" y="169.47" width="9.84" height="9.57" fill="#31399a"/>
<rect x="120.29" y="169.47" width="9.84" height="9.57" fill="#343ea0"/>
<rect x="129.43" y="169.47" width="9.84" height="9.57" fill="#3848aa"/>
<rect x="138.57" y="169.47" width="9.84" height="9.57" fill="#3c52b4"/>
<rect x="147.71" y="169.47" width="9.84" height="9.57" fill="#3c52b4"/>
<rect x="156.86" y="169.47" width="9.14" height="9.57" fill="#2f3494"/>
<rect x="102.00" y="178.34" width="9.84" height="9.57" fill="#2c2f8e"/>
<rect x="111.14" y="178.34" width="9.84" height="9.57" fill="#3c52b4"/>
<rect x="120.29" y="178.34" width="9.84" height="9.57" fill="#3f5ebd"/>
<rect x="129.43" y="178.34" width="9.84" height="9.57" fill="#406cc6"/>
<rect x="138.57" y="178.34" width="9.84" height="9.57" fill="#4288d2"/>
<rect x="147.71" y="178.34" width="9.84" height="9.57" fill="#47a4dd"/>
<rect x="156.86" y="178.34" width="9.14" height="9.57" fill="#47a4dd"/>
<rect x="102.00" y="187.21" width="9.84" height="9.57" fill="#2c2f8e"/>
<rect x="111.14" y="187.21" width="9.84" height="9.57" fill="#31399a"/>
<rect x="120.29" y="187.21" width="9.84" height="9.57" fill="#3c52b4"/>
<rect x="129.43" y="187.21" width="9.84" height="9.57" fill="#406cc6"/>
<rect x="138.57" y="187.21" width="9.84" height="9.57" fill="#47a4dd"/>
<rect x="147.71" y="187.21" width="9.84" height="9.57" fill="#53bfe3"/>
<rect x="156.86" y="187.21" width="9.14" height="9.57" fill="#60c5dc"/>
<rect x="102.00" y="196.08" width="9.84" height="9.57" fill="#2c2f8e"/>
<rect x="111.14" y="196.08" width="9.84" height="9.57" fill="#2c2f8e"/>
<rect x="120.29" y="196.08" width="9.84" height="9.57" fill="#2c2f8e"/>
<rect x="129.43" y="196.08" width="9.84" height="9.57" fill="#31399a"/>
<rect x="138.57" y="196.08" width="9.84" height="9.57" fill="#343ea0"/>
<rect x="147.71" y="196.08" width="9.84" height="9.57" fill="#3c52b4"/>
<rect x="156.86" y="196.08" width="9.14" height="9.57" fill="#31399a"/>
<rect x="102.00" y="204.95" width="9.84" height="9.57" fill="#2c2f8e"/>
<rect x="111.14" y="204.95" width="9.84" height="9.57" fill="#2c2f8e"/>
<rect x="120.29" y="204.95" width="9.84" height="9.57" fill="#2c2f8e"/>
<rect x="129.43" y="204.95" width="9.84" height="9.57" fill="#2c2f8e"/>
<rect x="138.57" y="204.95" width="9.84" height="9.57" fill="#2c2f8e"/>
<rect x="147.71" y="204.95" width="9.84" height="9.57" fill="#2c2f8e"/>
<rect x="156.86" y="204.95" width="9.14" height="9.57" fill="#2c2f8e"/>
<rect x="102.00" y="213.82" width="9.84" height="9.57" fill="#2c2f8e"/>
<rect x="111.14" y="213.82" width="9.84" height="9.57" fill="#2c2f8e"/>
<rect x="120.29" y="213.82" width="9.84" height="9.57" fill="#2c2f8e"/>
<rect x="129.43" y="213.82" width="9.84" height="9.57" fill="#2c2f8e"/>
<rect x="138.57" y="213.82" width="9.84" height="9.57" fill="#2c2f8e"/>
<rect x="147.71" y="213.82" width="9.84" height="9.57" fill="#2c2f8e"/>
<rect x="156.86" y="213.82" width="9.14" height="9.57" fill="#2c2f8e"/>
<rect x="102.00" y="222.69" width="9.84" height="9.57" fill="#2c2f8e"/>
<rect x="111.14" y="222.69" width="9.84" height="9.57" fill="#2c2f8e"/>
<rect x="120.29" y="222.69" width="9.84" height="9.57" fill="#2c2f8e"/>
<rect x="129.43" y="222.69" width="9.84" height="9.57" fill="#2c2f8e"/>
<rect x="138.57" y="222.69" width="9.84" height="9.57" fill="#2c2f8e"/>
<rect x="147.71" y="222.69" width="9.84" height="9.57" fill="#2c2f8e"/>
<rect x="156.86" y="222.69" width="9.14" height="9.57" fill="#2c2f8e"/>
<rect x="102.00" y="231.56" width="9.84" height="9.57" fill="#2c2f8e"/>
<rect x="111.14" y="231.56" width="9.84" height="9.57" fill="#2c2f8e"/>
<rect x="120.29" y="231.56" width="9.84" height="9.57" fill="#2c2f8e"/>
<rect x="129.43" y="231.56" width="9.84" height="9.57" fill="#2c2f8e"/>
<rect x="138.57" y="231.56" width="9.84" height="9.57" fill="#2c2f8e"/>
<rect x="147.71" y="231.56" width="9.84" height="9.57" fill="#2c2f8e"/>
<rect x="156.86" y="231.56" width="9.14" height="9.57" fill="#2c2f8e"/>
<rect x="102.00" y="240.43" width="9.84" height="8.87" fill="#2c2f8e"/>
<rect x="111.14" y="240.43" width="9.84" height="8.87" fill="#2c2f8e"/>
<rect x="120.29" y="240.43" width="9.84" height="8.87" fill="#2c2f8e"/>
<rect x="129.43" y="240.43" width="9.84" height="8.87" fill="#2c2f8e"/>
<rect x="138.57" y="240.43" width="9.84" height="8.87" fill="#2c2f8e"/>
<rect x="147.71" y="240.43" width="9.84" height="8.87" fill="#2c2f8e"/>
<rect x="156.86" y="240.43" width="9.14" height="8.87" fill="#2c2f8e"/>
<text transform="translate(106.57,167.34) scale(0.78,1)" font-size="5.6" text-anchor="middle" fill="#fff" fill-opacity="0.7">0</text>
<text transform="translate(115.71,167.34) scale(0.78,1)" font-size="5.6" text-anchor="middle" fill="#fff" fill-opacity="0.7">–2</text>
<text transform="translate(124.86,167.34) scale(0.78,1)" font-size="5.6" text-anchor="middle" fill="#fff" fill-opacity="0.7">–1</text>
<text transform="translate(134.00,167.34) scale(0.78,1)" font-size="5.6" text-anchor="middle" fill="#fff" fill-opacity="0.7">0</text>
<text transform="translate(143.14,167.34) scale(0.78,1)" font-size="5.6" text-anchor="middle" fill="#fff" fill-opacity="0.7">0</text>
<text transform="translate(152.29,167.34) scale(0.78,1)" font-size="5.6" text-anchor="middle" fill="#fff" fill-opacity="0.7">–2</text>
<text transform="translate(161.43,167.34) scale(0.78,1)" font-size="5.6" text-anchor="middle" fill="#fff" fill-opacity="0.7">–3</text>
<text transform="translate(106.57,176.21) scale(0.78,1)" font-size="5.6" text-anchor="middle" fill="#fff" fill-opacity="0.7">0</text>
<text transform="translate(115.71,176.21) scale(0.78,1)" font-size="5.6" text-anchor="middle" fill="#fff" fill-opacity="0.7">2</text>
<text transform="translate(124.86,176.21) scale(0.78,1)" font-size="5.6" text-anchor="middle" fill="#fff" fill-opacity="0.7">3</text>
<text transform="translate(134.00,176.21) scale(0.78,1)" font-size="5.6" text-anchor="middle" fill="#fff" fill-opacity="0.7">4</text>
<text transform="translate(143.14,176.21) scale(0.78,1)" font-size="5.6" text-anchor="middle" fill="#fff" fill-opacity="0.7">5</text>
<text transform="translate(152.29,176.21) scale(0.78,1)" font-size="5.6" text-anchor="middle" fill="#fff" fill-opacity="0.7">5</text>
<text transform="translate(161.43,176.21) scale(0.78,1)" font-size="5.6" text-anchor="middle" fill="#fff" fill-opacity="0.7">1</text>
<text transform="translate(106.57,185.08) scale(0.78,1)" font-size="5.6" text-anchor="middle" fill="#fff" fill-opacity="0.7">0</text>
<text transform="translate(115.71,185.08) scale(0.78,1)" font-size="5.6" text-anchor="middle" fill="#fff" fill-opacity="0.7">5</text>
<text transform="translate(124.86,185.08) scale(0.78,1)" font-size="5.6" text-anchor="middle" fill="#fff" fill-opacity="0.7">6</text>
<text transform="translate(134.00,185.08) scale(0.78,1)" font-size="5.6" text-anchor="middle" fill="#fff" fill-opacity="0.7">7</text>
<text transform="translate(143.14,185.08) scale(0.78,1)" font-size="5.6" text-anchor="middle" fill="#fff" fill-opacity="0.7">8</text>
<text transform="translate(152.29,185.08) scale(0.78,1)" font-size="5.6" text-anchor="middle" fill="#000" fill-opacity="0.6">9</text>
<text transform="translate(161.43,185.08) scale(0.78,1)" font-size="5.6" text-anchor="middle" fill="#000" fill-opacity="0.6">9</text>
<text transform="translate(106.57,193.94) scale(0.78,1)" font-size="5.6" text-anchor="middle" fill="#fff" fill-opacity="0.7">0</text>
<text transform="translate(115.71,193.94) scale(0.78,1)" font-size="5.6" text-anchor="middle" fill="#fff" fill-opacity="0.7">2</text>
<text transform="translate(124.86,193.94) scale(0.78,1)" font-size="5.6" text-anchor="middle" fill="#fff" fill-opacity="0.7">5</text>
<text transform="translate(134.00,193.94) scale(0.78,1)" font-size="5.6" text-anchor="middle" fill="#fff" fill-opacity="0.7">7</text>
<text transform="translate(143.14,193.94) scale(0.78,1)" font-size="5.6" text-anchor="middle" fill="#000" fill-opacity="0.6">9</text>
<text transform="translate(152.29,193.94) scale(0.78,1)" font-size="5.6" text-anchor="middle" fill="#000" fill-opacity="0.6">10</text>
<text transform="translate(161.43,193.94) scale(0.78,1)" font-size="5.6" text-anchor="middle" fill="#000" fill-opacity="0.6">11</text>
<text transform="translate(106.57,202.81) scale(0.78,1)" font-size="5.6" text-anchor="middle" fill="#fff" fill-opacity="0.7">0</text>
<text transform="translate(115.71,202.81) scale(0.78,1)" font-size="5.6" text-anchor="middle" fill="#fff" fill-opacity="0.7">–3</text>
<text transform="translate(124.86,202.81) scale(0.78,1)" font-size="5.6" text-anchor="middle" fill="#fff" fill-opacity="0.7">0</text>
<text transform="translate(134.00,202.81) scale(0.78,1)" font-size="5.6" text-anchor="middle" fill="#fff" fill-opacity="0.7">2</text>
<text transform="translate(143.14,202.81) scale(0.78,1)" font-size="5.6" text-anchor="middle" fill="#fff" fill-opacity="0.7">3</text>
<text transform="translate(152.29,202.81) scale(0.78,1)" font-size="5.6" text-anchor="middle" fill="#fff" fill-opacity="0.7">5</text>
<text transform="translate(161.43,202.81) scale(0.78,1)" font-size="5.6" text-anchor="middle" fill="#fff" fill-opacity="0.7">2</text>
<text transform="translate(106.57,211.69) scale(0.78,1)" font-size="5.6" text-anchor="middle" fill="#fff" fill-opacity="0.7">0</text>
<text transform="translate(115.71,211.69) scale(0.78,1)" font-size="5.6" text-anchor="middle" fill="#fff" fill-opacity="0.7">–7</text>
<text transform="translate(124.86,211.69) scale(0.78,1)" font-size="5.6" text-anchor="middle" fill="#fff" fill-opacity="0.7">–7</text>
<text transform="translate(134.00,211.69) scale(0.78,1)" font-size="5.6" text-anchor="middle" fill="#fff" fill-opacity="0.7">–6</text>
<text transform="translate(143.14,211.69) scale(0.78,1)" font-size="5.6" text-anchor="middle" fill="#fff" fill-opacity="0.7">–6</text>
<text transform="translate(152.29,211.69) scale(0.78,1)" font-size="5.6" text-anchor="middle" fill="#fff" fill-opacity="0.7">–4</text>
<text transform="translate(161.43,211.69) scale(0.78,1)" font-size="5.6" text-anchor="middle" fill="#fff" fill-opacity="0.7">–2</text>
<text transform="translate(106.57,220.56) scale(0.78,1)" font-size="5.6" text-anchor="middle" fill="#fff" fill-opacity="0.7">0</text>
<text transform="translate(115.71,220.56) scale(0.78,1)" font-size="5.6" text-anchor="middle" fill="#fff" fill-opacity="0.7">–5</text>
<text transform="translate(124.86,220.56) scale(0.78,1)" font-size="5.6" text-anchor="middle" fill="#fff" fill-opacity="0.7">–3</text>
<text transform="translate(134.00,220.56) scale(0.78,1)" font-size="5.6" text-anchor="middle" fill="#fff" fill-opacity="0.7">–3</text>
<text transform="translate(143.14,220.56) scale(0.78,1)" font-size="5.6" text-anchor="middle" fill="#fff" fill-opacity="0.7">–4</text>
<text transform="translate(152.29,220.56) scale(0.78,1)" font-size="5.6" text-anchor="middle" fill="#fff" fill-opacity="0.7">–4</text>
<text transform="translate(161.43,220.56) scale(0.78,1)" font-size="5.6" text-anchor="middle" fill="#fff" fill-opacity="0.7">–3</text>
<text transform="translate(106.57,229.43) scale(0.78,1)" font-size="5.6" text-anchor="middle" fill="#fff" fill-opacity="0.7">0</text>
<text transform="translate(115.71,229.43) scale(0.78,1)" font-size="5.6" text-anchor="middle" fill="#fff" fill-opacity="0.7">–2</text>
<text transform="translate(124.86,229.43) scale(0.78,1)" font-size="5.6" text-anchor="middle" fill="#fff" fill-opacity="0.7">–1</text>
<text transform="translate(134.00,229.43) scale(0.78,1)" font-size="5.6" text-anchor="middle" fill="#fff" fill-opacity="0.7">–1</text>
<text transform="translate(143.14,229.43) scale(0.78,1)" font-size="5.6" text-anchor="middle" fill="#fff" fill-opacity="0.7">–2</text>
<text transform="translate(152.29,229.43) scale(0.78,1)" font-size="5.6" text-anchor="middle" fill="#fff" fill-opacity="0.7">–5</text>
<text transform="translate(161.43,229.43) scale(0.78,1)" font-size="5.6" text-anchor="middle" fill="#fff" fill-opacity="0.7">–4</text>
<text transform="translate(106.57,238.30) scale(0.78,1)" font-size="5.6" text-anchor="middle" fill="#fff" fill-opacity="0.7">0</text>
<text transform="translate(115.71,238.30) scale(0.78,1)" font-size="5.6" text-anchor="middle" fill="#fff" fill-opacity="0.7">–2</text>
<text transform="translate(124.86,238.30) scale(0.78,1)" font-size="5.6" text-anchor="middle" fill="#fff" fill-opacity="0.7">–1</text>
<text transform="translate(134.00,238.30) scale(0.78,1)" font-size="5.6" text-anchor="middle" fill="#fff" fill-opacity="0.7">–1</text>
<text transform="translate(143.14,238.30) scale(0.78,1)" font-size="5.6" text-anchor="middle" fill="#fff" fill-opacity="0.7">–3</text>
<text transform="translate(152.29,238.30) scale(0.78,1)" font-size="5.6" text-anchor="middle" fill="#fff" fill-opacity="0.7">–4</text>
<text transform="translate(161.43,238.30) scale(0.78,1)" font-size="5.6" text-anchor="middle" fill="#fff" fill-opacity="0.7">–4</text>
<text transform="translate(106.57,247.17) scale(0.78,1)" font-size="5.6" text-anchor="middle" fill="#fff" fill-opacity="0.7">0</text>
<text transform="translate(115.71,247.17) scale(0.78,1)" font-size="5.6" text-anchor="middle" fill="#fff" fill-opacity="0.7">0</text>
<text transform="translate(124.86,247.17) scale(0.78,1)" font-size="5.6" text-anchor="middle" fill="#fff" fill-opacity="0.7">0</text>
<text transform="translate(134.00,247.17) scale(0.78,1)" font-size="5.6" text-anchor="middle" fill="#fff" fill-opacity="0.7">0</text>
<text transform="translate(143.14,247.17) scale(0.78,1)" font-size="5.6" text-anchor="middle" fill="#fff" fill-opacity="0.7">0</text>
<text transform="translate(152.29,247.17) scale(0.78,1)" font-size="5.6" text-anchor="middle" fill="#fff" fill-opacity="0.7">0</text>
<text transform="translate(161.43,247.17) scale(0.78,1)" font-size="5.6" text-anchor="middle" fill="#fff" fill-opacity="0.7">0</text>
<line x1="106.57" y1="249.30" x2="106.57" y2="251.10" stroke="#333" stroke-width="0.5"/>
<text class="t" color="#111" transform="translate(106.57,251.90) rotate(-90)" x="0" y="1.75" font-size="4.9" text-anchor="end" fill="#111">0</text>
<line x1="115.71" y1="249.30" x2="115.71" y2="251.10" stroke="#333" stroke-width="0.5"/>
<text class="t" color="#111" transform="translate(115.71,251.90) rotate(-90)" x="0" y="1.75" font-size="4.9" text-anchor="end" fill="#111">0.1</text>
<line x1="124.86" y1="249.30" x2="124.86" y2="251.10" stroke="#333" stroke-width="0.5"/>
<text class="t" color="#111" transform="translate(124.86,251.90) rotate(-90)" x="0" y="1.75" font-size="4.9" text-anchor="end" fill="#111">0.25</text>
<line x1="134.00" y1="249.30" x2="134.00" y2="251.10" stroke="#333" stroke-width="0.5"/>
<text class="t" color="#111" transform="translate(134.00,251.90) rotate(-90)" x="0" y="1.75" font-size="4.9" text-anchor="end" fill="#111">0.5</text>
<line x1="143.14" y1="249.30" x2="143.14" y2="251.10" stroke="#333" stroke-width="0.5"/>
<text class="t" color="#111" transform="translate(143.14,251.90) rotate(-90)" x="0" y="1.75" font-size="4.9" text-anchor="end" fill="#111">1</text>
<line x1="152.29" y1="249.30" x2="152.29" y2="251.10" stroke="#333" stroke-width="0.5"/>
<text class="t" color="#111" transform="translate(152.29,251.90) rotate(-90)" x="0" y="1.75" font-size="4.9" text-anchor="end" fill="#111">2</text>
<line x1="161.43" y1="249.30" x2="161.43" y2="251.10" stroke="#333" stroke-width="0.5"/>
<text class="t" color="#111" transform="translate(161.43,251.90) rotate(-90)" x="0" y="1.75" font-size="4.9" text-anchor="end" fill="#111">3</text>
<rect x="171.50" y="160.60" width="9.49" height="9.57" fill="#2e3493"/>
<rect x="180.29" y="160.60" width="9.49" height="9.57" fill="#313899"/>
<rect x="189.07" y="160.60" width="9.49" height="9.57" fill="#313899"/>
<rect x="197.86" y="160.60" width="9.49" height="9.57" fill="#323a9b"/>
<rect x="206.64" y="160.60" width="9.49" height="9.57" fill="#333c9e"/>
<rect x="215.43" y="160.60" width="9.49" height="9.57" fill="#3847a9"/>
<rect x="224.21" y="160.60" width="8.79" height="9.57" fill="#3a4daf"/>
<rect x="171.50" y="169.47" width="9.49" height="9.57" fill="#303697"/>
<rect x="180.29" y="169.47" width="9.49" height="9.57" fill="#2e3493"/>
<rect x="189.07" y="169.47" width="9.49" height="9.57" fill="#2e3292"/>
<rect x="197.86" y="169.47" width="9.49" height="9.57" fill="#2e3493"/>
<rect x="206.64" y="169.47" width="9.49" height="9.57" fill="#303697"/>
<rect x="215.43" y="169.47" width="9.49" height="9.57" fill="#323b9c"/>
<rect x="224.21" y="169.47" width="8.79" height="9.57" fill="#3541a3"/>
<rect x="171.50" y="178.34" width="9.49" height="9.57" fill="#303697"/>
<rect x="180.29" y="178.34" width="9.49" height="9.57" fill="#2d3090"/>
<rect x="189.07" y="178.34" width="9.49" height="9.57" fill="#2c2f8e"/>
<rect x="197.86" y="178.34" width="9.49" height="9.57" fill="#2d3090"/>
<rect x="206.64" y="178.34" width="9.49" height="9.57" fill="#2e3292"/>
<rect x="215.43" y="178.34" width="9.49" height="9.57" fill="#303697"/>
<rect x="224.21" y="178.34" width="8.79" height="9.57" fill="#323a9b"/>
<rect x="171.50" y="187.21" width="9.49" height="9.57" fill="#2e3292"/>
<rect x="180.29" y="187.21" width="9.49" height="9.57" fill="#2c2f8e"/>
<rect x="189.07" y="187.21" width="9.49" height="9.57" fill="#2c2f8e"/>
<rect x="197.86" y="187.21" width="9.49" height="9.57" fill="#2c2f8e"/>
<rect x="206.64" y="187.21" width="9.49" height="9.57" fill="#2d3090"/>
<rect x="215.43" y="187.21" width="9.49" height="9.57" fill="#2e3493"/>
<rect x="224.21" y="187.21" width="8.79" height="9.57" fill="#2f3595"/>
<rect x="171.50" y="196.08" width="9.49" height="9.57" fill="#2d3090"/>
<rect x="180.29" y="196.08" width="9.49" height="9.57" fill="#2c2f8e"/>
<rect x="189.07" y="196.08" width="9.49" height="9.57" fill="#2c2f8e"/>
<rect x="197.86" y="196.08" width="9.49" height="9.57" fill="#2c2f8e"/>
<rect x="206.64" y="196.08" width="9.49" height="9.57" fill="#2c2f8e"/>
<rect x="215.43" y="196.08" width="9.49" height="9.57" fill="#2d3090"/>
<rect x="224.21" y="196.08" width="8.79" height="9.57" fill="#2e3292"/>
<rect x="171.50" y="204.95" width="9.49" height="9.57" fill="#2c2f8e"/>
<rect x="180.29" y="204.95" width="9.49" height="9.57" fill="#2c2f8e"/>
<rect x="189.07" y="204.95" width="9.49" height="9.57" fill="#2c2f8e"/>
<rect x="197.86" y="204.95" width="9.49" height="9.57" fill="#2c2f8e"/>
<rect x="206.64" y="204.95" width="9.49" height="9.57" fill="#2c2f8e"/>
<rect x="215.43" y="204.95" width="9.49" height="9.57" fill="#2c2f8e"/>
<rect x="224.21" y="204.95" width="8.79" height="9.57" fill="#2c2f8e"/>
<rect x="171.50" y="213.82" width="9.49" height="9.57" fill="#2c2f8e"/>
<rect x="180.29" y="213.82" width="9.49" height="9.57" fill="#2c2f8e"/>
<rect x="189.07" y="213.82" width="9.49" height="9.57" fill="#2c2f8e"/>
<rect x="197.86" y="213.82" width="9.49" height="9.57" fill="#2c2f8e"/>
<rect x="206.64" y="213.82" width="9.49" height="9.57" fill="#2c2f8e"/>
<rect x="215.43" y="213.82" width="9.49" height="9.57" fill="#2c2f8e"/>
<rect x="224.21" y="213.82" width="8.79" height="9.57" fill="#2c2f8e"/>
<rect x="171.50" y="222.69" width="9.49" height="9.57" fill="#2c2f8e"/>
<rect x="180.29" y="222.69" width="9.49" height="9.57" fill="#2c2f8e"/>
<rect x="189.07" y="222.69" width="9.49" height="9.57" fill="#2c2f8e"/>
<rect x="197.86" y="222.69" width="9.49" height="9.57" fill="#2c2f8e"/>
<rect x="206.64" y="222.69" width="9.49" height="9.57" fill="#2c2f8e"/>
<rect x="215.43" y="222.69" width="9.49" height="9.57" fill="#2c2f8e"/>
<rect x="224.21" y="222.69" width="8.79" height="9.57" fill="#2c2f8e"/>
<rect x="171.50" y="231.56" width="9.49" height="9.57" fill="#2c2f8e"/>
<rect x="180.29" y="231.56" width="9.49" height="9.57" fill="#2c2f8e"/>
<rect x="189.07" y="231.56" width="9.49" height="9.57" fill="#2c2f8e"/>
<rect x="197.86" y="231.56" width="9.49" height="9.57" fill="#2c2f8e"/>
<rect x="206.64" y="231.56" width="9.49" height="9.57" fill="#2c2f8e"/>
<rect x="215.43" y="231.56" width="9.49" height="9.57" fill="#2c2f8e"/>
<rect x="224.21" y="231.56" width="8.79" height="9.57" fill="#2c2f8e"/>
<rect x="171.50" y="240.43" width="9.49" height="8.87" fill="#2c2f8e"/>
<rect x="180.29" y="240.43" width="9.49" height="8.87" fill="#2c2f8e"/>
<rect x="189.07" y="240.43" width="9.49" height="8.87" fill="#2c2f8e"/>
<rect x="197.86" y="240.43" width="9.49" height="8.87" fill="#2c2f8e"/>
<rect x="206.64" y="240.43" width="9.49" height="8.87" fill="#2c2f8e"/>
<rect x="215.43" y="240.43" width="9.49" height="8.87" fill="#2c2f8e"/>
<rect x="224.21" y="240.43" width="8.79" height="8.87" fill="#2c2f8e"/>
<text transform="translate(175.89,167.34) scale(0.78,1)" font-size="5.6" text-anchor="middle" fill="#fff" fill-opacity="0.7">3</text>
<text transform="translate(184.68,167.34) scale(0.78,1)" font-size="5.6" text-anchor="middle" fill="#fff" fill-opacity="0.7">6</text>
<text transform="translate(193.46,167.34) scale(0.78,1)" font-size="5.6" text-anchor="middle" fill="#fff" fill-opacity="0.7">6</text>
<text transform="translate(202.25,167.34) scale(0.78,1)" font-size="5.6" text-anchor="middle" fill="#fff" fill-opacity="0.7">7</text>
<text transform="translate(211.04,167.34) scale(0.78,1)" font-size="5.6" text-anchor="middle" fill="#fff" fill-opacity="0.7">9</text>
<text transform="translate(219.82,167.34) scale(0.78,1)" font-size="5.6" text-anchor="middle" fill="#fff" fill-opacity="0.7">13</text>
<text transform="translate(228.61,167.34) scale(0.78,1)" font-size="5.6" text-anchor="middle" fill="#fff" fill-opacity="0.7">15</text>
<text transform="translate(175.89,176.21) scale(0.78,1)" font-size="5.6" text-anchor="middle" fill="#fff" fill-opacity="0.7">5</text>
<text transform="translate(184.68,176.21) scale(0.78,1)" font-size="5.6" text-anchor="middle" fill="#fff" fill-opacity="0.7">3</text>
<text transform="translate(193.46,176.21) scale(0.78,1)" font-size="5.6" text-anchor="middle" fill="#fff" fill-opacity="0.7">2</text>
<text transform="translate(202.25,176.21) scale(0.78,1)" font-size="5.6" text-anchor="middle" fill="#fff" fill-opacity="0.7">3</text>
<text transform="translate(211.04,176.21) scale(0.78,1)" font-size="5.6" text-anchor="middle" fill="#fff" fill-opacity="0.7">5</text>
<text transform="translate(219.82,176.21) scale(0.78,1)" font-size="5.6" text-anchor="middle" fill="#fff" fill-opacity="0.7">8</text>
<text transform="translate(228.61,176.21) scale(0.78,1)" font-size="5.6" text-anchor="middle" fill="#fff" fill-opacity="0.7">11</text>
<text transform="translate(175.89,185.08) scale(0.78,1)" font-size="5.6" text-anchor="middle" fill="#fff" fill-opacity="0.7">5</text>
<text transform="translate(184.68,185.08) scale(0.78,1)" font-size="5.6" text-anchor="middle" fill="#fff" fill-opacity="0.7">1</text>
<text transform="translate(193.46,185.08) scale(0.78,1)" font-size="5.6" text-anchor="middle" fill="#fff" fill-opacity="0.7">0</text>
<text transform="translate(202.25,185.08) scale(0.78,1)" font-size="5.6" text-anchor="middle" fill="#fff" fill-opacity="0.7">1</text>
<text transform="translate(211.04,185.08) scale(0.78,1)" font-size="5.6" text-anchor="middle" fill="#fff" fill-opacity="0.7">2</text>
<text transform="translate(219.82,185.08) scale(0.78,1)" font-size="5.6" text-anchor="middle" fill="#fff" fill-opacity="0.7">5</text>
<text transform="translate(228.61,185.08) scale(0.78,1)" font-size="5.6" text-anchor="middle" fill="#fff" fill-opacity="0.7">7</text>
<text transform="translate(175.89,193.94) scale(0.78,1)" font-size="5.6" text-anchor="middle" fill="#fff" fill-opacity="0.7">2</text>
<text transform="translate(184.68,193.94) scale(0.78,1)" font-size="5.6" text-anchor="middle" fill="#fff" fill-opacity="0.7">0</text>
<text transform="translate(193.46,193.94) scale(0.78,1)" font-size="5.6" text-anchor="middle" fill="#fff" fill-opacity="0.7">0</text>
<text transform="translate(202.25,193.94) scale(0.78,1)" font-size="5.6" text-anchor="middle" fill="#fff" fill-opacity="0.7">0</text>
<text transform="translate(211.04,193.94) scale(0.78,1)" font-size="5.6" text-anchor="middle" fill="#fff" fill-opacity="0.7">1</text>
<text transform="translate(219.82,193.94) scale(0.78,1)" font-size="5.6" text-anchor="middle" fill="#fff" fill-opacity="0.7">3</text>
<text transform="translate(228.61,193.94) scale(0.78,1)" font-size="5.6" text-anchor="middle" fill="#fff" fill-opacity="0.7">4</text>
<text transform="translate(175.89,202.81) scale(0.78,1)" font-size="5.6" text-anchor="middle" fill="#fff" fill-opacity="0.7">1</text>
<text transform="translate(184.68,202.81) scale(0.78,1)" font-size="5.6" text-anchor="middle" fill="#fff" fill-opacity="0.7">0</text>
<text transform="translate(193.46,202.81) scale(0.78,1)" font-size="5.6" text-anchor="middle" fill="#fff" fill-opacity="0.7">0</text>
<text transform="translate(202.25,202.81) scale(0.78,1)" font-size="5.6" text-anchor="middle" fill="#fff" fill-opacity="0.7">0</text>
<text transform="translate(211.04,202.81) scale(0.78,1)" font-size="5.6" text-anchor="middle" fill="#fff" fill-opacity="0.7">0</text>
<text transform="translate(219.82,202.81) scale(0.78,1)" font-size="5.6" text-anchor="middle" fill="#fff" fill-opacity="0.7">1</text>
<text transform="translate(228.61,202.81) scale(0.78,1)" font-size="5.6" text-anchor="middle" fill="#fff" fill-opacity="0.7">2</text>
<text transform="translate(175.89,211.69) scale(0.78,1)" font-size="5.6" text-anchor="middle" fill="#fff" fill-opacity="0.7">0</text>
<text transform="translate(184.68,211.69) scale(0.78,1)" font-size="5.6" text-anchor="middle" fill="#fff" fill-opacity="0.7">0</text>
<text transform="translate(193.46,211.69) scale(0.78,1)" font-size="5.6" text-anchor="middle" fill="#fff" fill-opacity="0.7">0</text>
<text transform="translate(202.25,211.69) scale(0.78,1)" font-size="5.6" text-anchor="middle" fill="#fff" fill-opacity="0.7">0</text>
<text transform="translate(211.04,211.69) scale(0.78,1)" font-size="5.6" text-anchor="middle" fill="#fff" fill-opacity="0.7">0</text>
<text transform="translate(219.82,211.69) scale(0.78,1)" font-size="5.6" text-anchor="middle" fill="#fff" fill-opacity="0.7">0</text>
<text transform="translate(228.61,211.69) scale(0.78,1)" font-size="5.6" text-anchor="middle" fill="#fff" fill-opacity="0.7">0</text>
<text transform="translate(175.89,220.56) scale(0.78,1)" font-size="5.6" text-anchor="middle" fill="#fff" fill-opacity="0.7">0</text>
<text transform="translate(184.68,220.56) scale(0.78,1)" font-size="5.6" text-anchor="middle" fill="#fff" fill-opacity="0.7">0</text>
<text transform="translate(193.46,220.56) scale(0.78,1)" font-size="5.6" text-anchor="middle" fill="#fff" fill-opacity="0.7">0</text>
<text transform="translate(202.25,220.56) scale(0.78,1)" font-size="5.6" text-anchor="middle" fill="#fff" fill-opacity="0.7">0</text>
<text transform="translate(211.04,220.56) scale(0.78,1)" font-size="5.6" text-anchor="middle" fill="#fff" fill-opacity="0.7">0</text>
<text transform="translate(219.82,220.56) scale(0.78,1)" font-size="5.6" text-anchor="middle" fill="#fff" fill-opacity="0.7">0</text>
<text transform="translate(228.61,220.56) scale(0.78,1)" font-size="5.6" text-anchor="middle" fill="#fff" fill-opacity="0.7">0</text>
<text transform="translate(175.89,229.43) scale(0.78,1)" font-size="5.6" text-anchor="middle" fill="#fff" fill-opacity="0.7">0</text>
<text transform="translate(184.68,229.43) scale(0.78,1)" font-size="5.6" text-anchor="middle" fill="#fff" fill-opacity="0.7">0</text>
<text transform="translate(193.46,229.43) scale(0.78,1)" font-size="5.6" text-anchor="middle" fill="#fff" fill-opacity="0.7">0</text>
<text transform="translate(202.25,229.43) scale(0.78,1)" font-size="5.6" text-anchor="middle" fill="#fff" fill-opacity="0.7">0</text>
<text transform="translate(211.04,229.43) scale(0.78,1)" font-size="5.6" text-anchor="middle" fill="#fff" fill-opacity="0.7">0</text>
<text transform="translate(219.82,229.43) scale(0.78,1)" font-size="5.6" text-anchor="middle" fill="#fff" fill-opacity="0.7">0</text>
<text transform="translate(228.61,229.43) scale(0.78,1)" font-size="5.6" text-anchor="middle" fill="#fff" fill-opacity="0.7">0</text>
<text transform="translate(175.89,238.30) scale(0.78,1)" font-size="5.6" text-anchor="middle" fill="#fff" fill-opacity="0.7">0</text>
<text transform="translate(184.68,238.30) scale(0.78,1)" font-size="5.6" text-anchor="middle" fill="#fff" fill-opacity="0.7">0</text>
<text transform="translate(193.46,238.30) scale(0.78,1)" font-size="5.6" text-anchor="middle" fill="#fff" fill-opacity="0.7">0</text>
<text transform="translate(202.25,238.30) scale(0.78,1)" font-size="5.6" text-anchor="middle" fill="#fff" fill-opacity="0.7">0</text>
<text transform="translate(211.04,238.30) scale(0.78,1)" font-size="5.6" text-anchor="middle" fill="#fff" fill-opacity="0.7">0</text>
<text transform="translate(219.82,238.30) scale(0.78,1)" font-size="5.6" text-anchor="middle" fill="#fff" fill-opacity="0.7">0</text>
<text transform="translate(228.61,238.30) scale(0.78,1)" font-size="5.6" text-anchor="middle" fill="#fff" fill-opacity="0.7">0</text>
<text transform="translate(175.89,247.17) scale(0.78,1)" font-size="5.6" text-anchor="middle" fill="#fff" fill-opacity="0.7">0</text>
<text transform="translate(184.68,247.17) scale(0.78,1)" font-size="5.6" text-anchor="middle" fill="#fff" fill-opacity="0.7">0</text>
<text transform="translate(193.46,247.17) scale(0.78,1)" font-size="5.6" text-anchor="middle" fill="#fff" fill-opacity="0.7">0</text>
<text transform="translate(202.25,247.17) scale(0.78,1)" font-size="5.6" text-anchor="middle" fill="#fff" fill-opacity="0.7">0</text>
<text transform="translate(211.04,247.17) scale(0.78,1)" font-size="5.6" text-anchor="middle" fill="#fff" fill-opacity="0.7">0</text>
<text transform="translate(219.82,247.17) scale(0.78,1)" font-size="5.6" text-anchor="middle" fill="#fff" fill-opacity="0.7">0</text>
<text transform="translate(228.61,247.17) scale(0.78,1)" font-size="5.6" text-anchor="middle" fill="#fff" fill-opacity="0.7">0</text>
<line x1="175.89" y1="249.30" x2="175.89" y2="251.10" stroke="#333" stroke-width="0.5"/>
<text class="t" color="#111" transform="translate(175.89,251.90) rotate(-90)" x="0" y="1.75" font-size="4.9" text-anchor="end" fill="#111">0</text>
<line x1="184.68" y1="249.30" x2="184.68" y2="251.10" stroke="#333" stroke-width="0.5"/>
<text class="t" color="#111" transform="translate(184.68,251.90) rotate(-90)" x="0" y="1.75" font-size="4.9" text-anchor="end" fill="#111">0.1</text>
<line x1="193.46" y1="249.30" x2="193.46" y2="251.10" stroke="#333" stroke-width="0.5"/>
<text class="t" color="#111" transform="translate(193.46,251.90) rotate(-90)" x="0" y="1.75" font-size="4.9" text-anchor="end" fill="#111">0.25</text>
<line x1="202.25" y1="249.30" x2="202.25" y2="251.10" stroke="#333" stroke-width="0.5"/>
<text class="t" color="#111" transform="translate(202.25,251.90) rotate(-90)" x="0" y="1.75" font-size="4.9" text-anchor="end" fill="#111">0.5</text>
<line x1="211.04" y1="249.30" x2="211.04" y2="251.10" stroke="#333" stroke-width="0.5"/>
<text class="t" color="#111" transform="translate(211.04,251.90) rotate(-90)" x="0" y="1.75" font-size="4.9" text-anchor="end" fill="#111">1</text>
<line x1="219.82" y1="249.30" x2="219.82" y2="251.10" stroke="#333" stroke-width="0.5"/>
<text class="t" color="#111" transform="translate(219.82,251.90) rotate(-90)" x="0" y="1.75" font-size="4.9" text-anchor="end" fill="#111">2</text>
<line x1="228.61" y1="249.30" x2="228.61" y2="251.10" stroke="#333" stroke-width="0.5"/>
<text class="t" color="#111" transform="translate(228.61,251.90) rotate(-90)" x="0" y="1.75" font-size="4.9" text-anchor="end" fill="#111">3</text>
<rect x="238.00" y="160.60" width="9.70" height="9.57" fill="#2c2f8e"/>
<rect x="247.00" y="160.60" width="9.70" height="9.57" fill="#2c2f8e"/>
<rect x="256.00" y="160.60" width="9.70" height="9.57" fill="#2c2f8e"/>
<rect x="265.00" y="160.60" width="9.70" height="9.57" fill="#2c2f8e"/>
<rect x="274.00" y="160.60" width="9.70" height="9.57" fill="#2c2f8e"/>
<rect x="283.00" y="160.60" width="9.70" height="9.57" fill="#3848aa"/>
<rect x="292.00" y="160.60" width="9.00" height="9.57" fill="#31399a"/>
<rect x="238.00" y="169.47" width="9.70" height="9.57" fill="#2c2f8e"/>
<rect x="247.00" y="169.47" width="9.70" height="9.57" fill="#2c2f8e"/>
<rect x="256.00" y="169.47" width="9.70" height="9.57" fill="#2c2f8e"/>
<rect x="265.00" y="169.47" width="9.70" height="9.57" fill="#2c2f8e"/>
<rect x="274.00" y="169.47" width="9.70" height="9.57" fill="#2c2f8e"/>
<rect x="283.00" y="169.47" width="9.70" height="9.57" fill="#343ea0"/>
<rect x="292.00" y="169.47" width="9.00" height="9.57" fill="#2c2f8e"/>
<rect x="238.00" y="178.34" width="9.70" height="9.57" fill="#2c2f8e"/>
<rect x="247.00" y="178.34" width="9.70" height="9.57" fill="#2c2f8e"/>
<rect x="256.00" y="178.34" width="9.70" height="9.57" fill="#2c2f8e"/>
<rect x="265.00" y="178.34" width="9.70" height="9.57" fill="#2c2f8e"/>
<rect x="274.00" y="178.34" width="9.70" height="9.57" fill="#2c2f8e"/>
<rect x="283.00" y="178.34" width="9.70" height="9.57" fill="#31399a"/>
<rect x="292.00" y="178.34" width="9.00" height="9.57" fill="#3848aa"/>
<rect x="238.00" y="187.21" width="9.70" height="9.57" fill="#2c2f8e"/>
<rect x="247.00" y="187.21" width="9.70" height="9.57" fill="#2c2f8e"/>
<rect x="256.00" y="187.21" width="9.70" height="9.57" fill="#2c2f8e"/>
<rect x="265.00" y="187.21" width="9.70" height="9.57" fill="#2c2f8e"/>
<rect x="274.00" y="187.21" width="9.70" height="9.57" fill="#2c2f8e"/>
<rect x="283.00" y="187.21" width="9.70" height="9.57" fill="#2f3494"/>
<rect x="292.00" y="187.21" width="9.00" height="9.57" fill="#31399a"/>
<rect x="238.00" y="196.08" width="9.70" height="9.57" fill="#2c2f8e"/>
<rect x="247.00" y="196.08" width="9.70" height="9.57" fill="#2c2f8e"/>
<rect x="256.00" y="196.08" width="9.70" height="9.57" fill="#2c2f8e"/>
<rect x="265.00" y="196.08" width="9.70" height="9.57" fill="#2c2f8e"/>
<rect x="274.00" y="196.08" width="9.70" height="9.57" fill="#2c2f8e"/>
<rect x="283.00" y="196.08" width="9.70" height="9.57" fill="#2c2f8e"/>
<rect x="292.00" y="196.08" width="9.00" height="9.57" fill="#2f3494"/>
<rect x="238.00" y="204.95" width="9.70" height="9.57" fill="#2c2f8e"/>
<rect x="247.00" y="204.95" width="9.70" height="9.57" fill="#2c2f8e"/>
<rect x="256.00" y="204.95" width="9.70" height="9.57" fill="#2c2f8e"/>
<rect x="265.00" y="204.95" width="9.70" height="9.57" fill="#2c2f8e"/>
<rect x="274.00" y="204.95" width="9.70" height="9.57" fill="#2c2f8e"/>
<rect x="283.00" y="204.95" width="9.70" height="9.57" fill="#2c2f8e"/>
<rect x="292.00" y="204.95" width="9.00" height="9.57" fill="#2c2f8e"/>
<rect x="238.00" y="213.82" width="9.70" height="9.57" fill="#2c2f8e"/>
<rect x="247.00" y="213.82" width="9.70" height="9.57" fill="#2c2f8e"/>
<rect x="256.00" y="213.82" width="9.70" height="9.57" fill="#2c2f8e"/>
<rect x="265.00" y="213.82" width="9.70" height="9.57" fill="#2c2f8e"/>
<rect x="274.00" y="213.82" width="9.70" height="9.57" fill="#2c2f8e"/>
<rect x="283.00" y="213.82" width="9.70" height="9.57" fill="#2c2f8e"/>
<rect x="292.00" y="213.82" width="9.00" height="9.57" fill="#2c2f8e"/>
<rect x="238.00" y="222.69" width="9.70" height="9.57" fill="#2c2f8e"/>
<rect x="247.00" y="222.69" width="9.70" height="9.57" fill="#2c2f8e"/>
<rect x="256.00" y="222.69" width="9.70" height="9.57" fill="#2c2f8e"/>
<rect x="265.00" y="222.69" width="9.70" height="9.57" fill="#2c2f8e"/>
<rect x="274.00" y="222.69" width="9.70" height="9.57" fill="#2c2f8e"/>
<rect x="283.00" y="222.69" width="9.70" height="9.57" fill="#2c2f8e"/>
<rect x="292.00" y="222.69" width="9.00" height="9.57" fill="#2c2f8e"/>
<rect x="238.00" y="231.56" width="9.70" height="9.57" fill="#2c2f8e"/>
<rect x="247.00" y="231.56" width="9.70" height="9.57" fill="#2c2f8e"/>
<rect x="256.00" y="231.56" width="9.70" height="9.57" fill="#2c2f8e"/>
<rect x="265.00" y="231.56" width="9.70" height="9.57" fill="#2c2f8e"/>
<rect x="274.00" y="231.56" width="9.70" height="9.57" fill="#2c2f8e"/>
<rect x="283.00" y="231.56" width="9.70" height="9.57" fill="#2c2f8e"/>
<rect x="292.00" y="231.56" width="9.00" height="9.57" fill="#2c2f8e"/>
<rect x="238.00" y="240.43" width="9.70" height="8.87" fill="#2c2f8e"/>
<rect x="247.00" y="240.43" width="9.70" height="8.87" fill="#2c2f8e"/>
<rect x="256.00" y="240.43" width="9.70" height="8.87" fill="#2c2f8e"/>
<rect x="265.00" y="240.43" width="9.70" height="8.87" fill="#2c2f8e"/>
<rect x="274.00" y="240.43" width="9.70" height="8.87" fill="#2c2f8e"/>
<rect x="283.00" y="240.43" width="9.70" height="8.87" fill="#2c2f8e"/>
<rect x="292.00" y="240.43" width="9.00" height="8.87" fill="#2c2f8e"/>
<text transform="translate(242.50,167.34) scale(0.78,1)" font-size="5.6" text-anchor="middle" fill="#fff" fill-opacity="0.7">0</text>
<text transform="translate(251.50,167.34) scale(0.78,1)" font-size="5.6" text-anchor="middle" fill="#fff" fill-opacity="0.7">–3</text>
<text transform="translate(260.50,167.34) scale(0.78,1)" font-size="5.6" text-anchor="middle" fill="#fff" fill-opacity="0.7">–3</text>
<text transform="translate(269.50,167.34) scale(0.78,1)" font-size="5.6" text-anchor="middle" fill="#fff" fill-opacity="0.7">–2</text>
<text transform="translate(278.50,167.34) scale(0.78,1)" font-size="5.6" text-anchor="middle" fill="#fff" fill-opacity="0.7">0</text>
<text transform="translate(287.50,167.34) scale(0.78,1)" font-size="5.6" text-anchor="middle" fill="#fff" fill-opacity="0.7">4</text>
<text transform="translate(296.50,167.34) scale(0.78,1)" font-size="5.6" text-anchor="middle" fill="#fff" fill-opacity="0.7">2</text>
<text transform="translate(242.50,176.21) scale(0.78,1)" font-size="5.6" text-anchor="middle" fill="#fff" fill-opacity="0.7">0</text>
<text transform="translate(251.50,176.21) scale(0.78,1)" font-size="5.6" text-anchor="middle" fill="#fff" fill-opacity="0.7">–3</text>
<text transform="translate(260.50,176.21) scale(0.78,1)" font-size="5.6" text-anchor="middle" fill="#fff" fill-opacity="0.7">–3</text>
<text transform="translate(269.50,176.21) scale(0.78,1)" font-size="5.6" text-anchor="middle" fill="#fff" fill-opacity="0.7">–3</text>
<text transform="translate(278.50,176.21) scale(0.78,1)" font-size="5.6" text-anchor="middle" fill="#fff" fill-opacity="0.7">0</text>
<text transform="translate(287.50,176.21) scale(0.78,1)" font-size="5.6" text-anchor="middle" fill="#fff" fill-opacity="0.7">3</text>
<text transform="translate(296.50,176.21) scale(0.78,1)" font-size="5.6" text-anchor="middle" fill="#fff" fill-opacity="0.7">0</text>
<text transform="translate(242.50,185.08) scale(0.78,1)" font-size="5.6" text-anchor="middle" fill="#fff" fill-opacity="0.7">0</text>
<text transform="translate(251.50,185.08) scale(0.78,1)" font-size="5.6" text-anchor="middle" fill="#fff" fill-opacity="0.7">–2</text>
<text transform="translate(260.50,185.08) scale(0.78,1)" font-size="5.6" text-anchor="middle" fill="#fff" fill-opacity="0.7">–3</text>
<text transform="translate(269.50,185.08) scale(0.78,1)" font-size="5.6" text-anchor="middle" fill="#fff" fill-opacity="0.7">–2</text>
<text transform="translate(278.50,185.08) scale(0.78,1)" font-size="5.6" text-anchor="middle" fill="#fff" fill-opacity="0.7">–1</text>
<text transform="translate(287.50,185.08) scale(0.78,1)" font-size="5.6" text-anchor="middle" fill="#fff" fill-opacity="0.7">2</text>
<text transform="translate(296.50,185.08) scale(0.78,1)" font-size="5.6" text-anchor="middle" fill="#fff" fill-opacity="0.7">4</text>
<text transform="translate(242.50,193.94) scale(0.78,1)" font-size="5.6" text-anchor="middle" fill="#fff" fill-opacity="0.7">0</text>
<text transform="translate(251.50,193.94) scale(0.78,1)" font-size="5.6" text-anchor="middle" fill="#fff" fill-opacity="0.7">–1</text>
<text transform="translate(260.50,193.94) scale(0.78,1)" font-size="5.6" text-anchor="middle" fill="#fff" fill-opacity="0.7">–2</text>
<text transform="translate(269.50,193.94) scale(0.78,1)" font-size="5.6" text-anchor="middle" fill="#fff" fill-opacity="0.7">–2</text>
<text transform="translate(278.50,193.94) scale(0.78,1)" font-size="5.6" text-anchor="middle" fill="#fff" fill-opacity="0.7">–1</text>
<text transform="translate(287.50,193.94) scale(0.78,1)" font-size="5.6" text-anchor="middle" fill="#fff" fill-opacity="0.7">1</text>
<text transform="translate(296.50,193.94) scale(0.78,1)" font-size="5.6" text-anchor="middle" fill="#fff" fill-opacity="0.7">2</text>
<text transform="translate(242.50,202.81) scale(0.78,1)" font-size="5.6" text-anchor="middle" fill="#fff" fill-opacity="0.7">0</text>
<text transform="translate(251.50,202.81) scale(0.78,1)" font-size="5.6" text-anchor="middle" fill="#fff" fill-opacity="0.7">–1</text>
<text transform="translate(260.50,202.81) scale(0.78,1)" font-size="5.6" text-anchor="middle" fill="#fff" fill-opacity="0.7">–1</text>
<text transform="translate(269.50,202.81) scale(0.78,1)" font-size="5.6" text-anchor="middle" fill="#fff" fill-opacity="0.7">–1</text>
<text transform="translate(278.50,202.81) scale(0.78,1)" font-size="5.6" text-anchor="middle" fill="#fff" fill-opacity="0.7">0</text>
<text transform="translate(287.50,202.81) scale(0.78,1)" font-size="5.6" text-anchor="middle" fill="#fff" fill-opacity="0.7">0</text>
<text transform="translate(296.50,202.81) scale(0.78,1)" font-size="5.6" text-anchor="middle" fill="#fff" fill-opacity="0.7">1</text>
<text transform="translate(242.50,211.69) scale(0.78,1)" font-size="5.6" text-anchor="middle" fill="#fff" fill-opacity="0.7">0</text>
<text transform="translate(251.50,211.69) scale(0.78,1)" font-size="5.6" text-anchor="middle" fill="#fff" fill-opacity="0.7">0</text>
<text transform="translate(260.50,211.69) scale(0.78,1)" font-size="5.6" text-anchor="middle" fill="#fff" fill-opacity="0.7">0</text>
<text transform="translate(269.50,211.69) scale(0.78,1)" font-size="5.6" text-anchor="middle" fill="#fff" fill-opacity="0.7">0</text>
<text transform="translate(278.50,211.69) scale(0.78,1)" font-size="5.6" text-anchor="middle" fill="#fff" fill-opacity="0.7">0</text>
<text transform="translate(287.50,211.69) scale(0.78,1)" font-size="5.6" text-anchor="middle" fill="#fff" fill-opacity="0.7">0</text>
<text transform="translate(296.50,211.69) scale(0.78,1)" font-size="5.6" text-anchor="middle" fill="#fff" fill-opacity="0.7">0</text>
<text transform="translate(242.50,220.56) scale(0.78,1)" font-size="5.6" text-anchor="middle" fill="#fff" fill-opacity="0.7">0</text>
<text transform="translate(251.50,220.56) scale(0.78,1)" font-size="5.6" text-anchor="middle" fill="#fff" fill-opacity="0.7">0</text>
<text transform="translate(260.50,220.56) scale(0.78,1)" font-size="5.6" text-anchor="middle" fill="#fff" fill-opacity="0.7">0</text>
<text transform="translate(269.50,220.56) scale(0.78,1)" font-size="5.6" text-anchor="middle" fill="#fff" fill-opacity="0.7">0</text>
<text transform="translate(278.50,220.56) scale(0.78,1)" font-size="5.6" text-anchor="middle" fill="#fff" fill-opacity="0.7">0</text>
<text transform="translate(287.50,220.56) scale(0.78,1)" font-size="5.6" text-anchor="middle" fill="#fff" fill-opacity="0.7">0</text>
<text transform="translate(296.50,220.56) scale(0.78,1)" font-size="5.6" text-anchor="middle" fill="#fff" fill-opacity="0.7">0</text>
<text transform="translate(242.50,229.43) scale(0.78,1)" font-size="5.6" text-anchor="middle" fill="#fff" fill-opacity="0.7">0</text>
<text transform="translate(251.50,229.43) scale(0.78,1)" font-size="5.6" text-anchor="middle" fill="#fff" fill-opacity="0.7">0</text>
<text transform="translate(260.50,229.43) scale(0.78,1)" font-size="5.6" text-anchor="middle" fill="#fff" fill-opacity="0.7">0</text>
<text transform="translate(269.50,229.43) scale(0.78,1)" font-size="5.6" text-anchor="middle" fill="#fff" fill-opacity="0.7">0</text>
<text transform="translate(278.50,229.43) scale(0.78,1)" font-size="5.6" text-anchor="middle" fill="#fff" fill-opacity="0.7">0</text>
<text transform="translate(287.50,229.43) scale(0.78,1)" font-size="5.6" text-anchor="middle" fill="#fff" fill-opacity="0.7">0</text>
<text transform="translate(296.50,229.43) scale(0.78,1)" font-size="5.6" text-anchor="middle" fill="#fff" fill-opacity="0.7">0</text>
<text transform="translate(242.50,238.30) scale(0.78,1)" font-size="5.6" text-anchor="middle" fill="#fff" fill-opacity="0.7">0</text>
<text transform="translate(251.50,238.30) scale(0.78,1)" font-size="5.6" text-anchor="middle" fill="#fff" fill-opacity="0.7">0</text>
<text transform="translate(260.50,238.30) scale(0.78,1)" font-size="5.6" text-anchor="middle" fill="#fff" fill-opacity="0.7">0</text>
<text transform="translate(269.50,238.30) scale(0.78,1)" font-size="5.6" text-anchor="middle" fill="#fff" fill-opacity="0.7">0</text>
<text transform="translate(278.50,238.30) scale(0.78,1)" font-size="5.6" text-anchor="middle" fill="#fff" fill-opacity="0.7">0</text>
<text transform="translate(287.50,238.30) scale(0.78,1)" font-size="5.6" text-anchor="middle" fill="#fff" fill-opacity="0.7">0</text>
<text transform="translate(296.50,238.30) scale(0.78,1)" font-size="5.6" text-anchor="middle" fill="#fff" fill-opacity="0.7">0</text>
<text transform="translate(242.50,247.17) scale(0.78,1)" font-size="5.6" text-anchor="middle" fill="#fff" fill-opacity="0.7">0</text>
<text transform="translate(251.50,247.17) scale(0.78,1)" font-size="5.6" text-anchor="middle" fill="#fff" fill-opacity="0.7">0</text>
<text transform="translate(260.50,247.17) scale(0.78,1)" font-size="5.6" text-anchor="middle" fill="#fff" fill-opacity="0.7">0</text>
<text transform="translate(269.50,247.17) scale(0.78,1)" font-size="5.6" text-anchor="middle" fill="#fff" fill-opacity="0.7">0</text>
<text transform="translate(278.50,247.17) scale(0.78,1)" font-size="5.6" text-anchor="middle" fill="#fff" fill-opacity="0.7">0</text>
<text transform="translate(287.50,247.17) scale(0.78,1)" font-size="5.6" text-anchor="middle" fill="#fff" fill-opacity="0.7">0</text>
<text transform="translate(296.50,247.17) scale(0.78,1)" font-size="5.6" text-anchor="middle" fill="#fff" fill-opacity="0.7">0</text>
<line x1="242.50" y1="249.30" x2="242.50" y2="251.10" stroke="#333" stroke-width="0.5"/>
<text class="t" color="#111" transform="translate(242.50,251.90) rotate(-90)" x="0" y="1.75" font-size="4.9" text-anchor="end" fill="#111">0</text>
<line x1="251.50" y1="249.30" x2="251.50" y2="251.10" stroke="#333" stroke-width="0.5"/>
<text class="t" color="#111" transform="translate(251.50,251.90) rotate(-90)" x="0" y="1.75" font-size="4.9" text-anchor="end" fill="#111">0.1</text>
<line x1="260.50" y1="249.30" x2="260.50" y2="251.10" stroke="#333" stroke-width="0.5"/>
<text class="t" color="#111" transform="translate(260.50,251.90) rotate(-90)" x="0" y="1.75" font-size="4.9" text-anchor="end" fill="#111">0.25</text>
<line x1="269.50" y1="249.30" x2="269.50" y2="251.10" stroke="#333" stroke-width="0.5"/>
<text class="t" color="#111" transform="translate(269.50,251.90) rotate(-90)" x="0" y="1.75" font-size="4.9" text-anchor="end" fill="#111">0.5</text>
<line x1="278.50" y1="249.30" x2="278.50" y2="251.10" stroke="#333" stroke-width="0.5"/>
<text class="t" color="#111" transform="translate(278.50,251.90) rotate(-90)" x="0" y="1.75" font-size="4.9" text-anchor="end" fill="#111">1</text>
<line x1="287.50" y1="249.30" x2="287.50" y2="251.10" stroke="#333" stroke-width="0.5"/>
<text class="t" color="#111" transform="translate(287.50,251.90) rotate(-90)" x="0" y="1.75" font-size="4.9" text-anchor="end" fill="#111">2</text>
<line x1="296.50" y1="249.30" x2="296.50" y2="251.10" stroke="#333" stroke-width="0.5"/>
<text class="t" color="#111" transform="translate(296.50,251.90) rotate(-90)" x="0" y="1.75" font-size="4.9" text-anchor="end" fill="#111">3</text>
<rect x="38.00" y="291.00" width="9.73" height="9.52" fill="#ec3824"/>
<rect x="47.03" y="291.00" width="9.73" height="9.52" fill="#e62026"/>
<rect x="56.06" y="291.00" width="9.73" height="9.52" fill="#e62026"/>
<rect x="65.09" y="291.00" width="9.73" height="9.52" fill="#e31f26"/>
<rect x="74.11" y="291.00" width="9.73" height="9.52" fill="#e31f26"/>
<rect x="83.14" y="291.00" width="9.73" height="9.52" fill="#e11f26"/>
<rect x="92.17" y="291.00" width="9.03" height="9.52" fill="#de1e26"/>
<rect x="38.00" y="299.82" width="9.73" height="9.52" fill="#e82825"/>
<rect x="47.03" y="299.82" width="9.73" height="9.52" fill="#e82825"/>
<rect x="56.06" y="299.82" width="9.73" height="9.52" fill="#e82825"/>
<rect x="65.09" y="299.82" width="9.73" height="9.52" fill="#e82825"/>
<rect x="74.11" y="299.82" width="9.73" height="9.52" fill="#e62026"/>
<rect x="83.14" y="299.82" width="9.73" height="9.52" fill="#e31f26"/>
<rect x="92.17" y="299.82" width="9.03" height="9.52" fill="#e11f26"/>
<rect x="38.00" y="308.64" width="9.73" height="9.52" fill="#ea3025"/>
<rect x="47.03" y="308.64" width="9.73" height="9.52" fill="#ea3025"/>
<rect x="56.06" y="308.64" width="9.73" height="9.52" fill="#ec3824"/>
<rect x="65.09" y="308.64" width="9.73" height="9.52" fill="#ea3025"/>
<rect x="74.11" y="308.64" width="9.73" height="9.52" fill="#ea3025"/>
<rect x="83.14" y="308.64" width="9.73" height="9.52" fill="#e82825"/>
<rect x="92.17" y="308.64" width="9.03" height="9.52" fill="#e62026"/>
<rect x="38.00" y="317.46" width="9.73" height="9.52" fill="#ef5224"/>
<rect x="47.03" y="317.46" width="9.73" height="9.52" fill="#ef5224"/>
<rect x="56.06" y="317.46" width="9.73" height="9.52" fill="#ef5224"/>
<rect x="65.09" y="317.46" width="9.73" height="9.52" fill="#ef5224"/>
<rect x="74.11" y="317.46" width="9.73" height="9.52" fill="#ee4924"/>
<rect x="83.14" y="317.46" width="9.73" height="9.52" fill="#ed4024"/>
<rect x="92.17" y="317.46" width="9.03" height="9.52" fill="#ea3025"/>
<rect x="38.00" y="326.28" width="9.73" height="9.52" fill="#f58a20"/>
<rect x="47.03" y="326.28" width="9.73" height="9.52" fill="#f6941f"/>
<rect x="56.06" y="326.28" width="9.73" height="9.52" fill="#f6941f"/>
<rect x="65.09" y="326.28" width="9.73" height="9.52" fill="#f58a20"/>
<rect x="74.11" y="326.28" width="9.73" height="9.52" fill="#f48020"/>
<rect x="83.14" y="326.28" width="9.73" height="9.52" fill="#f37621"/>
<rect x="92.17" y="326.28" width="9.03" height="9.52" fill="#ee4924"/>
<rect x="38.00" y="335.10" width="9.73" height="9.52" fill="#f9ce22"/>
<rect x="47.03" y="335.10" width="9.73" height="9.52" fill="#ebe32c"/>
<rect x="56.06" y="335.10" width="9.73" height="9.52" fill="#e6e22e"/>
<rect x="65.09" y="335.10" width="9.73" height="9.52" fill="#f1e52a"/>
<rect x="74.11" y="335.10" width="9.73" height="9.52" fill="#f8da25"/>
<rect x="83.14" y="335.10" width="9.73" height="9.52" fill="#fac020"/>
<rect x="92.17" y="335.10" width="9.03" height="9.52" fill="#f48020"/>
<rect x="38.00" y="343.92" width="9.73" height="9.52" fill="#b2d549"/>
<rect x="47.03" y="343.92" width="9.73" height="9.52" fill="#68c8d6"/>
<rect x="56.06" y="343.92" width="9.73" height="9.52" fill="#5cc4de"/>
<rect x="65.09" y="343.92" width="9.73" height="9.52" fill="#5cc4de"/>
<rect x="74.11" y="343.92" width="9.73" height="9.52" fill="#70c6ae"/>
<rect x="83.14" y="343.92" width="9.73" height="9.52" fill="#bbd744"/>
<rect x="92.17" y="343.92" width="9.03" height="9.52" fill="#ebe32c"/>
<rect x="38.00" y="352.74" width="9.73" height="9.52" fill="#5cc4de"/>
<rect x="47.03" y="352.74" width="9.73" height="9.52" fill="#3e56b8"/>
<rect x="56.06" y="352.74" width="9.73" height="9.52" fill="#3d53b5"/>
<rect x="65.09" y="352.74" width="9.73" height="9.52" fill="#3847a9"/>
<rect x="74.11" y="352.74" width="9.73" height="9.52" fill="#3a4daf"/>
<rect x="83.14" y="352.74" width="9.73" height="9.52" fill="#54c2e4"/>
<rect x="92.17" y="352.74" width="9.03" height="9.52" fill="#6ec7b8"/>
<rect x="38.00" y="361.56" width="9.73" height="9.52" fill="#4180cf"/>
<rect x="47.03" y="361.56" width="9.73" height="9.52" fill="#323a9b"/>
<rect x="56.06" y="361.56" width="9.73" height="9.52" fill="#2d3090"/>
<rect x="65.09" y="361.56" width="9.73" height="9.52" fill="#2c2f8e"/>
<rect x="74.11" y="361.56" width="9.73" height="9.52" fill="#323a9b"/>
<rect x="83.14" y="361.56" width="9.73" height="9.52" fill="#3e5abb"/>
<rect x="92.17" y="361.56" width="9.03" height="9.52" fill="#4288d2"/>
<rect x="38.00" y="370.38" width="9.73" height="8.82" fill="#2c2f8e"/>
<rect x="47.03" y="370.38" width="9.73" height="8.82" fill="#2e3292"/>
<rect x="56.06" y="370.38" width="9.73" height="8.82" fill="#2d3090"/>
<rect x="65.09" y="370.38" width="9.73" height="8.82" fill="#2d3090"/>
<rect x="74.11" y="370.38" width="9.73" height="8.82" fill="#2e3292"/>
<rect x="83.14" y="370.38" width="9.73" height="8.82" fill="#303697"/>
<rect x="92.17" y="370.38" width="9.03" height="8.82" fill="#343ea0"/>
<text transform="translate(42.51,297.71) scale(0.78,1)" font-size="5.6" text-anchor="middle" fill="#fff" fill-opacity="0.68">83</text>
<text transform="translate(51.54,297.71) scale(0.78,1)" font-size="5.6" text-anchor="middle" fill="#fff" fill-opacity="0.68">86</text>
<text transform="translate(60.57,297.71) scale(0.78,1)" font-size="5.6" text-anchor="middle" fill="#fff" fill-opacity="0.68">86</text>
<text transform="translate(69.60,297.71) scale(0.78,1)" font-size="5.6" text-anchor="middle" fill="#fff" fill-opacity="0.68">87</text>
<text transform="translate(78.63,297.71) scale(0.78,1)" font-size="5.6" text-anchor="middle" fill="#fff" fill-opacity="0.68">87</text>
<text transform="translate(87.66,297.71) scale(0.78,1)" font-size="5.6" text-anchor="middle" fill="#fff" fill-opacity="0.68">88</text>
<text transform="translate(96.69,297.71) scale(0.78,1)" font-size="5.6" text-anchor="middle" fill="#fff" fill-opacity="0.68">89</text>
<text transform="translate(42.51,306.53) scale(0.78,1)" font-size="5.6" text-anchor="middle" fill="#fff" fill-opacity="0.68">85</text>
<text transform="translate(51.54,306.53) scale(0.78,1)" font-size="5.6" text-anchor="middle" fill="#fff" fill-opacity="0.68">85</text>
<text transform="translate(60.57,306.53) scale(0.78,1)" font-size="5.6" text-anchor="middle" fill="#fff" fill-opacity="0.68">85</text>
<text transform="translate(69.60,306.53) scale(0.78,1)" font-size="5.6" text-anchor="middle" fill="#fff" fill-opacity="0.68">85</text>
<text transform="translate(78.63,306.53) scale(0.78,1)" font-size="5.6" text-anchor="middle" fill="#fff" fill-opacity="0.68">86</text>
<text transform="translate(87.66,306.53) scale(0.78,1)" font-size="5.6" text-anchor="middle" fill="#fff" fill-opacity="0.68">87</text>
<text transform="translate(96.69,306.53) scale(0.78,1)" font-size="5.6" text-anchor="middle" fill="#fff" fill-opacity="0.68">88</text>
<text transform="translate(42.51,315.35) scale(0.78,1)" font-size="5.6" text-anchor="middle" fill="#fff" fill-opacity="0.68">84</text>
<text transform="translate(51.54,315.35) scale(0.78,1)" font-size="5.6" text-anchor="middle" fill="#fff" fill-opacity="0.68">84</text>
<text transform="translate(60.57,315.35) scale(0.78,1)" font-size="5.6" text-anchor="middle" fill="#fff" fill-opacity="0.68">83</text>
<text transform="translate(69.60,315.35) scale(0.78,1)" font-size="5.6" text-anchor="middle" fill="#000" fill-opacity="0.6">80</text>
<text transform="translate(78.63,315.35) scale(0.78,1)" font-size="5.6" text-anchor="middle" fill="#fff" fill-opacity="0.68">84</text>
<text transform="translate(87.66,315.35) scale(0.78,1)" font-size="5.6" text-anchor="middle" fill="#fff" fill-opacity="0.68">85</text>
<text transform="translate(96.69,315.35) scale(0.78,1)" font-size="5.6" text-anchor="middle" fill="#fff" fill-opacity="0.68">86</text>
<text transform="translate(42.51,324.17) scale(0.78,1)" font-size="5.6" text-anchor="middle" fill="#000" fill-opacity="0.6">80</text>
<text transform="translate(51.54,324.17) scale(0.78,1)" font-size="5.6" text-anchor="middle" fill="#000" fill-opacity="0.6">80</text>
<text transform="translate(60.57,324.17) scale(0.78,1)" font-size="5.6" text-anchor="middle" fill="#000" fill-opacity="0.6">80</text>
<text transform="translate(69.60,324.17) scale(0.78,1)" font-size="5.6" text-anchor="middle" fill="#000" fill-opacity="0.6">80</text>
<text transform="translate(78.63,324.17) scale(0.78,1)" font-size="5.6" text-anchor="middle" fill="#000" fill-opacity="0.6">81</text>
<text transform="translate(87.66,324.17) scale(0.78,1)" font-size="5.6" text-anchor="middle" fill="#000" fill-opacity="0.6">82</text>
<text transform="translate(96.69,324.17) scale(0.78,1)" font-size="5.6" text-anchor="middle" fill="#fff" fill-opacity="0.68">84</text>
<text transform="translate(42.51,332.99) scale(0.78,1)" font-size="5.6" text-anchor="middle" fill="#000" fill-opacity="0.6">74</text>
<text transform="translate(51.54,332.99) scale(0.78,1)" font-size="5.6" text-anchor="middle" fill="#000" fill-opacity="0.6">73</text>
<text transform="translate(60.57,332.99) scale(0.78,1)" font-size="5.6" text-anchor="middle" fill="#000" fill-opacity="0.6">73</text>
<text transform="translate(69.60,332.99) scale(0.78,1)" font-size="5.6" text-anchor="middle" fill="#000" fill-opacity="0.6">74</text>
<text transform="translate(78.63,332.99) scale(0.78,1)" font-size="5.6" text-anchor="middle" fill="#000" fill-opacity="0.6">75</text>
<text transform="translate(87.66,332.99) scale(0.78,1)" font-size="5.6" text-anchor="middle" fill="#000" fill-opacity="0.6">76</text>
<text transform="translate(96.69,332.99) scale(0.78,1)" font-size="5.6" text-anchor="middle" fill="#000" fill-opacity="0.6">81</text>
<text transform="translate(42.51,341.81) scale(0.78,1)" font-size="5.6" text-anchor="middle" fill="#000" fill-opacity="0.6">66</text>
<text transform="translate(51.54,341.81) scale(0.78,1)" font-size="5.6" text-anchor="middle" fill="#000" fill-opacity="0.6">60</text>
<text transform="translate(60.57,341.81) scale(0.78,1)" font-size="5.6" text-anchor="middle" fill="#000" fill-opacity="0.6">59</text>
<text transform="translate(69.60,341.81) scale(0.78,1)" font-size="5.6" text-anchor="middle" fill="#000" fill-opacity="0.6">61</text>
<text transform="translate(78.63,341.81) scale(0.78,1)" font-size="5.6" text-anchor="middle" fill="#000" fill-opacity="0.6">64</text>
<text transform="translate(87.66,341.81) scale(0.78,1)" font-size="5.6" text-anchor="middle" fill="#000" fill-opacity="0.6">68</text>
<text transform="translate(96.69,341.81) scale(0.78,1)" font-size="5.6" text-anchor="middle" fill="#000" fill-opacity="0.6">75</text>
<text transform="translate(42.51,350.63) scale(0.78,1)" font-size="5.6" text-anchor="middle" fill="#000" fill-opacity="0.6">52</text>
<text transform="translate(51.54,350.63) scale(0.78,1)" font-size="5.6" text-anchor="middle" fill="#000" fill-opacity="0.6">39</text>
<text transform="translate(60.57,350.63) scale(0.78,1)" font-size="5.6" text-anchor="middle" fill="#000" fill-opacity="0.6">36</text>
<text transform="translate(69.60,350.63) scale(0.78,1)" font-size="5.6" text-anchor="middle" fill="#000" fill-opacity="0.6">36</text>
<text transform="translate(78.63,350.63) scale(0.78,1)" font-size="5.6" text-anchor="middle" fill="#000" fill-opacity="0.6">43</text>
<text transform="translate(87.66,350.63) scale(0.78,1)" font-size="5.6" text-anchor="middle" fill="#000" fill-opacity="0.6">53</text>
<text transform="translate(96.69,350.63) scale(0.78,1)" font-size="5.6" text-anchor="middle" fill="#000" fill-opacity="0.6">60</text>
<text transform="translate(42.51,359.45) scale(0.78,1)" font-size="5.6" text-anchor="middle" fill="#000" fill-opacity="0.6">36</text>
<text transform="translate(51.54,359.45) scale(0.78,1)" font-size="5.6" text-anchor="middle" fill="#fff" fill-opacity="0.7">18</text>
<text transform="translate(60.57,359.45) scale(0.78,1)" font-size="5.6" text-anchor="middle" fill="#fff" fill-opacity="0.7">17</text>
<text transform="translate(69.60,359.45) scale(0.78,1)" font-size="5.6" text-anchor="middle" fill="#fff" fill-opacity="0.7">13</text>
<text transform="translate(78.63,359.45) scale(0.78,1)" font-size="5.6" text-anchor="middle" fill="#fff" fill-opacity="0.7">15</text>
<text transform="translate(87.66,359.45) scale(0.78,1)" font-size="5.6" text-anchor="middle" fill="#000" fill-opacity="0.6">34</text>
<text transform="translate(96.69,359.45) scale(0.78,1)" font-size="5.6" text-anchor="middle" fill="#000" fill-opacity="0.6">42</text>
<text transform="translate(42.51,368.27) scale(0.78,1)" font-size="5.6" text-anchor="middle" fill="#fff" fill-opacity="0.7">26</text>
<text transform="translate(51.54,368.27) scale(0.78,1)" font-size="5.6" text-anchor="middle" fill="#fff" fill-opacity="0.7">7</text>
<text transform="translate(60.57,368.27) scale(0.78,1)" font-size="5.6" text-anchor="middle" fill="#fff" fill-opacity="0.7">1</text>
<text transform="translate(69.60,368.27) scale(0.78,1)" font-size="5.6" text-anchor="middle" fill="#fff" fill-opacity="0.7">0</text>
<text transform="translate(78.63,368.27) scale(0.78,1)" font-size="5.6" text-anchor="middle" fill="#fff" fill-opacity="0.7">7</text>
<text transform="translate(87.66,368.27) scale(0.78,1)" font-size="5.6" text-anchor="middle" fill="#fff" fill-opacity="0.7">19</text>
<text transform="translate(96.69,368.27) scale(0.78,1)" font-size="5.6" text-anchor="middle" fill="#fff" fill-opacity="0.7">27</text>
<text transform="translate(42.51,377.09) scale(0.78,1)" font-size="5.6" text-anchor="middle" fill="#fff" fill-opacity="0.7">0</text>
<text transform="translate(51.54,377.09) scale(0.78,1)" font-size="5.6" text-anchor="middle" fill="#fff" fill-opacity="0.7">2</text>
<text transform="translate(60.57,377.09) scale(0.78,1)" font-size="5.6" text-anchor="middle" fill="#fff" fill-opacity="0.7">1</text>
<text transform="translate(69.60,377.09) scale(0.78,1)" font-size="5.6" text-anchor="middle" fill="#fff" fill-opacity="0.7">1</text>
<text transform="translate(78.63,377.09) scale(0.78,1)" font-size="5.6" text-anchor="middle" fill="#fff" fill-opacity="0.7">2</text>
<text transform="translate(87.66,377.09) scale(0.78,1)" font-size="5.6" text-anchor="middle" fill="#fff" fill-opacity="0.7">5</text>
<text transform="translate(96.69,377.09) scale(0.78,1)" font-size="5.6" text-anchor="middle" fill="#fff" fill-opacity="0.7">10</text>
<line x1="42.51" y1="379.20" x2="42.51" y2="381.00" stroke="#333" stroke-width="0.5"/>
<text class="t" color="#111" transform="translate(42.51,381.80) rotate(-90)" x="0" y="1.75" font-size="4.9" text-anchor="end" fill="#111">0</text>
<line x1="51.54" y1="379.20" x2="51.54" y2="381.00" stroke="#333" stroke-width="0.5"/>
<text class="t" color="#111" transform="translate(51.54,381.80) rotate(-90)" x="0" y="1.75" font-size="4.9" text-anchor="end" fill="#111">0.1</text>
<line x1="60.57" y1="379.20" x2="60.57" y2="381.00" stroke="#333" stroke-width="0.5"/>
<text class="t" color="#111" transform="translate(60.57,381.80) rotate(-90)" x="0" y="1.75" font-size="4.9" text-anchor="end" fill="#111">0.25</text>
<line x1="69.60" y1="379.20" x2="69.60" y2="381.00" stroke="#333" stroke-width="0.5"/>
<text class="t" color="#111" transform="translate(69.60,381.80) rotate(-90)" x="0" y="1.75" font-size="4.9" text-anchor="end" fill="#111">0.5</text>
<line x1="78.63" y1="379.20" x2="78.63" y2="381.00" stroke="#333" stroke-width="0.5"/>
<text class="t" color="#111" transform="translate(78.63,381.80) rotate(-90)" x="0" y="1.75" font-size="4.9" text-anchor="end" fill="#111">1</text>
<line x1="87.66" y1="379.20" x2="87.66" y2="381.00" stroke="#333" stroke-width="0.5"/>
<text class="t" color="#111" transform="translate(87.66,381.80) rotate(-90)" x="0" y="1.75" font-size="4.9" text-anchor="end" fill="#111">2</text>
<line x1="96.69" y1="379.20" x2="96.69" y2="381.00" stroke="#333" stroke-width="0.5"/>
<text class="t" color="#111" transform="translate(96.69,381.80) rotate(-90)" x="0" y="1.75" font-size="4.9" text-anchor="end" fill="#111">3</text>
<line x1="36.20" y1="295.41" x2="38.00" y2="295.41" stroke="#333" stroke-width="0.5"/>
<text class="t" x="35.00" y="297.84" font-size="5.1" text-anchor="end" fill="#111" color="#111">10</text>
<line x1="36.20" y1="304.23" x2="38.00" y2="304.23" stroke="#333" stroke-width="0.5"/>
<text class="t" x="35.00" y="306.66" font-size="5.1" text-anchor="end" fill="#111" color="#111">3</text>
<line x1="36.20" y1="313.05" x2="38.00" y2="313.05" stroke="#333" stroke-width="0.5"/>
<text class="t" x="35.00" y="315.48" font-size="5.1" text-anchor="end" fill="#111" color="#111">1</text>
<line x1="36.20" y1="321.87" x2="38.00" y2="321.87" stroke="#333" stroke-width="0.5"/>
<text class="t" x="35.00" y="324.30" font-size="5.1" text-anchor="end" fill="#111" color="#111">0.3</text>
<line x1="36.20" y1="330.69" x2="38.00" y2="330.69" stroke="#333" stroke-width="0.5"/>
<text class="t" x="35.00" y="333.12" font-size="5.1" text-anchor="end" fill="#111" color="#111">0.1</text>
<line x1="36.20" y1="339.51" x2="38.00" y2="339.51" stroke="#333" stroke-width="0.5"/>
<text class="t" x="35.00" y="341.94" font-size="5.1" text-anchor="end" fill="#111" color="#111">0.03</text>
<line x1="36.20" y1="348.33" x2="38.00" y2="348.33" stroke="#333" stroke-width="0.5"/>
<text class="t" x="35.00" y="350.76" font-size="5.1" text-anchor="end" fill="#111" color="#111">0.01</text>
<line x1="36.20" y1="357.15" x2="38.00" y2="357.15" stroke="#333" stroke-width="0.5"/>
<text class="t" x="35.00" y="359.58" font-size="5.1" text-anchor="end" fill="#111" color="#111">0.003</text>
<line x1="36.20" y1="365.97" x2="38.00" y2="365.97" stroke="#333" stroke-width="0.5"/>
<text class="t" x="35.00" y="368.40" font-size="5.1" text-anchor="end" fill="#111" color="#111">0.001</text>
<line x1="36.20" y1="374.79" x2="38.00" y2="374.79" stroke="#333" stroke-width="0.5"/>
<text class="t" x="35.00" y="377.22" font-size="5.1" text-anchor="end" fill="#111" color="#111">0</text>
<rect x="105.00" y="291.00" width="9.70" height="9.52" fill="#2c2f8e"/>
<rect x="114.00" y="291.00" width="9.70" height="9.52" fill="#303797"/>
<rect x="123.00" y="291.00" width="9.70" height="9.52" fill="#303797"/>
<rect x="132.00" y="291.00" width="9.70" height="9.52" fill="#303797"/>
<rect x="141.00" y="291.00" width="9.70" height="9.52" fill="#323b9c"/>
<rect x="150.00" y="291.00" width="9.70" height="9.52" fill="#343fa1"/>
<rect x="159.00" y="291.00" width="9.00" height="9.52" fill="#343fa1"/>
<rect x="105.00" y="299.82" width="9.70" height="9.52" fill="#2c2f8e"/>
<rect x="114.00" y="299.82" width="9.70" height="9.52" fill="#2c2f8e"/>
<rect x="123.00" y="299.82" width="9.70" height="9.52" fill="#2c2f8e"/>
<rect x="132.00" y="299.82" width="9.70" height="9.52" fill="#2c2f8e"/>
<rect x="141.00" y="299.82" width="9.70" height="9.52" fill="#2c2f8e"/>
<rect x="150.00" y="299.82" width="9.70" height="9.52" fill="#2e3393"/>
<rect x="159.00" y="299.82" width="9.00" height="9.52" fill="#2e3393"/>
<rect x="105.00" y="308.64" width="9.70" height="9.52" fill="#2c2f8e"/>
<rect x="114.00" y="308.64" width="9.70" height="9.52" fill="#2c2f8e"/>
<rect x="123.00" y="308.64" width="9.70" height="9.52" fill="#2c2f8e"/>
<rect x="132.00" y="308.64" width="9.70" height="9.52" fill="#2c2f8e"/>
<rect x="141.00" y="308.64" width="9.70" height="9.52" fill="#2c2f8e"/>
<rect x="150.00" y="308.64" width="9.70" height="9.52" fill="#2c2f8e"/>
<rect x="159.00" y="308.64" width="9.00" height="9.52" fill="#2c2f8e"/>
<rect x="105.00" y="317.46" width="9.70" height="9.52" fill="#2c2f8e"/>
<rect x="114.00" y="317.46" width="9.70" height="9.52" fill="#2c2f8e"/>
<rect x="123.00" y="317.46" width="9.70" height="9.52" fill="#2c2f8e"/>
<rect x="132.00" y="317.46" width="9.70" height="9.52" fill="#2c2f8e"/>
<rect x="141.00" y="317.46" width="9.70" height="9.52" fill="#2c2f8e"/>
<rect x="150.00" y="317.46" width="9.70" height="9.52" fill="#2e3393"/>
<rect x="159.00" y="317.46" width="9.00" height="9.52" fill="#303797"/>
<rect x="105.00" y="326.28" width="9.70" height="9.52" fill="#2c2f8e"/>
<rect x="114.00" y="326.28" width="9.70" height="9.52" fill="#2c2f8e"/>
<rect x="123.00" y="326.28" width="9.70" height="9.52" fill="#2c2f8e"/>
<rect x="132.00" y="326.28" width="9.70" height="9.52" fill="#2c2f8e"/>
<rect x="141.00" y="326.28" width="9.70" height="9.52" fill="#2c2f8e"/>
<rect x="150.00" y="326.28" width="9.70" height="9.52" fill="#323b9c"/>
<rect x="159.00" y="326.28" width="9.00" height="9.52" fill="#3847a9"/>
<rect x="105.00" y="335.10" width="9.70" height="9.52" fill="#2c2f8e"/>
<rect x="114.00" y="335.10" width="9.70" height="9.52" fill="#2c2f8e"/>
<rect x="123.00" y="335.10" width="9.70" height="9.52" fill="#2c2f8e"/>
<rect x="132.00" y="335.10" width="9.70" height="9.52" fill="#2c2f8e"/>
<rect x="141.00" y="335.10" width="9.70" height="9.52" fill="#2c2f8e"/>
<rect x="150.00" y="335.10" width="9.70" height="9.52" fill="#303797"/>
<rect x="159.00" y="335.10" width="9.00" height="9.52" fill="#3f62bf"/>
<rect x="105.00" y="343.92" width="9.70" height="9.52" fill="#2c2f8e"/>
<rect x="114.00" y="343.92" width="9.70" height="9.52" fill="#2c2f8e"/>
<rect x="123.00" y="343.92" width="9.70" height="9.52" fill="#2c2f8e"/>
<rect x="132.00" y="343.92" width="9.70" height="9.52" fill="#2c2f8e"/>
<rect x="141.00" y="343.92" width="9.70" height="9.52" fill="#2c2f8e"/>
<rect x="150.00" y="343.92" width="9.70" height="9.52" fill="#2c2f8e"/>
<rect x="159.00" y="343.92" width="9.00" height="9.52" fill="#3f62bf"/>
<rect x="105.00" y="352.74" width="9.70" height="9.52" fill="#2c2f8e"/>
<rect x="114.00" y="352.74" width="9.70" height="9.52" fill="#2c2f8e"/>
<rect x="123.00" y="352.74" width="9.70" height="9.52" fill="#2c2f8e"/>
<rect x="132.00" y="352.74" width="9.70" height="9.52" fill="#2c2f8e"/>
<rect x="141.00" y="352.74" width="9.70" height="9.52" fill="#2c2f8e"/>
<rect x="150.00" y="352.74" width="9.70" height="9.52" fill="#3847a9"/>
<rect x="159.00" y="352.74" width="9.00" height="9.52" fill="#2e3393"/>
<rect x="105.00" y="361.56" width="9.70" height="9.52" fill="#2c2f8e"/>
<rect x="114.00" y="361.56" width="9.70" height="9.52" fill="#2c2f8e"/>
<rect x="123.00" y="361.56" width="9.70" height="9.52" fill="#2c2f8e"/>
<rect x="132.00" y="361.56" width="9.70" height="9.52" fill="#2c2f8e"/>
<rect x="141.00" y="361.56" width="9.70" height="9.52" fill="#2c2f8e"/>
<rect x="150.00" y="361.56" width="9.70" height="9.52" fill="#2c2f8e"/>
<rect x="159.00" y="361.56" width="9.00" height="9.52" fill="#2c2f8e"/>
<rect x="105.00" y="370.38" width="9.70" height="8.82" fill="#2c2f8e"/>
<rect x="114.00" y="370.38" width="9.70" height="8.82" fill="#2c2f8e"/>
<rect x="123.00" y="370.38" width="9.70" height="8.82" fill="#2c2f8e"/>
<rect x="132.00" y="370.38" width="9.70" height="8.82" fill="#2c2f8e"/>
<rect x="141.00" y="370.38" width="9.70" height="8.82" fill="#2c2f8e"/>
<rect x="150.00" y="370.38" width="9.70" height="8.82" fill="#2c2f8e"/>
<rect x="159.00" y="370.38" width="9.00" height="8.82" fill="#2c2f8e"/>
<text transform="translate(109.50,297.71) scale(0.78,1)" font-size="5.6" text-anchor="middle" fill="#fff" fill-opacity="0.7">0</text>
<text transform="translate(118.50,297.71) scale(0.78,1)" font-size="5.6" text-anchor="middle" fill="#fff" fill-opacity="0.7">2</text>
<text transform="translate(127.50,297.71) scale(0.78,1)" font-size="5.6" text-anchor="middle" fill="#fff" fill-opacity="0.7">2</text>
<text transform="translate(136.50,297.71) scale(0.78,1)" font-size="5.6" text-anchor="middle" fill="#fff" fill-opacity="0.7">2</text>
<text transform="translate(145.50,297.71) scale(0.78,1)" font-size="5.6" text-anchor="middle" fill="#fff" fill-opacity="0.7">3</text>
<text transform="translate(154.50,297.71) scale(0.78,1)" font-size="5.6" text-anchor="middle" fill="#fff" fill-opacity="0.7">4</text>
<text transform="translate(163.50,297.71) scale(0.78,1)" font-size="5.6" text-anchor="middle" fill="#fff" fill-opacity="0.7">4</text>
<text transform="translate(109.50,306.53) scale(0.78,1)" font-size="5.6" text-anchor="middle" fill="#fff" fill-opacity="0.7">0</text>
<text transform="translate(118.50,306.53) scale(0.78,1)" font-size="5.6" text-anchor="middle" fill="#fff" fill-opacity="0.7">0</text>
<text transform="translate(127.50,306.53) scale(0.78,1)" font-size="5.6" text-anchor="middle" fill="#fff" fill-opacity="0.7">0</text>
<text transform="translate(136.50,306.53) scale(0.78,1)" font-size="5.6" text-anchor="middle" fill="#fff" fill-opacity="0.7">0</text>
<text transform="translate(145.50,306.53) scale(0.78,1)" font-size="5.6" text-anchor="middle" fill="#fff" fill-opacity="0.7">0</text>
<text transform="translate(154.50,306.53) scale(0.78,1)" font-size="5.6" text-anchor="middle" fill="#fff" fill-opacity="0.7">1</text>
<text transform="translate(163.50,306.53) scale(0.78,1)" font-size="5.6" text-anchor="middle" fill="#fff" fill-opacity="0.7">1</text>
<text transform="translate(109.50,315.35) scale(0.78,1)" font-size="5.6" text-anchor="middle" fill="#fff" fill-opacity="0.7">0</text>
<text transform="translate(118.50,315.35) scale(0.78,1)" font-size="5.6" text-anchor="middle" fill="#fff" fill-opacity="0.7">–1</text>
<text transform="translate(127.50,315.35) scale(0.78,1)" font-size="5.6" text-anchor="middle" fill="#fff" fill-opacity="0.7">–1</text>
<text transform="translate(136.50,315.35) scale(0.78,1)" font-size="5.6" text-anchor="middle" fill="#fff" fill-opacity="0.7">–2</text>
<text transform="translate(145.50,315.35) scale(0.78,1)" font-size="5.6" text-anchor="middle" fill="#fff" fill-opacity="0.7">–1</text>
<text transform="translate(154.50,315.35) scale(0.78,1)" font-size="5.6" text-anchor="middle" fill="#fff" fill-opacity="0.7">0</text>
<text transform="translate(163.50,315.35) scale(0.78,1)" font-size="5.6" text-anchor="middle" fill="#fff" fill-opacity="0.7">0</text>
<text transform="translate(109.50,324.17) scale(0.78,1)" font-size="5.6" text-anchor="middle" fill="#fff" fill-opacity="0.7">0</text>
<text transform="translate(118.50,324.17) scale(0.78,1)" font-size="5.6" text-anchor="middle" fill="#fff" fill-opacity="0.7">–1</text>
<text transform="translate(127.50,324.17) scale(0.78,1)" font-size="5.6" text-anchor="middle" fill="#fff" fill-opacity="0.7">–1</text>
<text transform="translate(136.50,324.17) scale(0.78,1)" font-size="5.6" text-anchor="middle" fill="#fff" fill-opacity="0.7">–1</text>
<text transform="translate(145.50,324.17) scale(0.78,1)" font-size="5.6" text-anchor="middle" fill="#fff" fill-opacity="0.7">0</text>
<text transform="translate(154.50,324.17) scale(0.78,1)" font-size="5.6" text-anchor="middle" fill="#fff" fill-opacity="0.7">1</text>
<text transform="translate(163.50,324.17) scale(0.78,1)" font-size="5.6" text-anchor="middle" fill="#fff" fill-opacity="0.7">2</text>
<text transform="translate(109.50,332.99) scale(0.78,1)" font-size="5.6" text-anchor="middle" fill="#fff" fill-opacity="0.7">0</text>
<text transform="translate(118.50,332.99) scale(0.78,1)" font-size="5.6" text-anchor="middle" fill="#fff" fill-opacity="0.7">–2</text>
<text transform="translate(127.50,332.99) scale(0.78,1)" font-size="5.6" text-anchor="middle" fill="#fff" fill-opacity="0.7">–2</text>
<text transform="translate(136.50,332.99) scale(0.78,1)" font-size="5.6" text-anchor="middle" fill="#fff" fill-opacity="0.7">–1</text>
<text transform="translate(145.50,332.99) scale(0.78,1)" font-size="5.6" text-anchor="middle" fill="#fff" fill-opacity="0.7">0</text>
<text transform="translate(154.50,332.99) scale(0.78,1)" font-size="5.6" text-anchor="middle" fill="#fff" fill-opacity="0.7">3</text>
<text transform="translate(163.50,332.99) scale(0.78,1)" font-size="5.6" text-anchor="middle" fill="#fff" fill-opacity="0.7">5</text>
<text transform="translate(109.50,341.81) scale(0.78,1)" font-size="5.6" text-anchor="middle" fill="#fff" fill-opacity="0.7">0</text>
<text transform="translate(118.50,341.81) scale(0.78,1)" font-size="5.6" text-anchor="middle" fill="#fff" fill-opacity="0.7">–6</text>
<text transform="translate(127.50,341.81) scale(0.78,1)" font-size="5.6" text-anchor="middle" fill="#fff" fill-opacity="0.7">–7</text>
<text transform="translate(136.50,341.81) scale(0.78,1)" font-size="5.6" text-anchor="middle" fill="#fff" fill-opacity="0.7">–5</text>
<text transform="translate(145.50,341.81) scale(0.78,1)" font-size="5.6" text-anchor="middle" fill="#fff" fill-opacity="0.7">–2</text>
<text transform="translate(154.50,341.81) scale(0.78,1)" font-size="5.6" text-anchor="middle" fill="#fff" fill-opacity="0.7">2</text>
<text transform="translate(163.50,341.81) scale(0.78,1)" font-size="5.6" text-anchor="middle" fill="#fff" fill-opacity="0.7">8</text>
<text transform="translate(109.50,350.63) scale(0.78,1)" font-size="5.6" text-anchor="middle" fill="#fff" fill-opacity="0.7">0</text>
<text transform="translate(118.50,350.63) scale(0.78,1)" font-size="5.6" text-anchor="middle" fill="#fff" fill-opacity="0.7">–14</text>
<text transform="translate(127.50,350.63) scale(0.78,1)" font-size="5.6" text-anchor="middle" fill="#fff" fill-opacity="0.7">–16</text>
<text transform="translate(136.50,350.63) scale(0.78,1)" font-size="5.6" text-anchor="middle" fill="#fff" fill-opacity="0.7">–16</text>
<text transform="translate(145.50,350.63) scale(0.78,1)" font-size="5.6" text-anchor="middle" fill="#fff" fill-opacity="0.7">–10</text>
<text transform="translate(154.50,350.63) scale(0.78,1)" font-size="5.6" text-anchor="middle" fill="#fff" fill-opacity="0.7">–1</text>
<text transform="translate(163.50,350.63) scale(0.78,1)" font-size="5.6" text-anchor="middle" fill="#fff" fill-opacity="0.7">8</text>
<text transform="translate(109.50,359.45) scale(0.78,1)" font-size="5.6" text-anchor="middle" fill="#fff" fill-opacity="0.7">0</text>
<text transform="translate(118.50,359.45) scale(0.78,1)" font-size="5.6" text-anchor="middle" fill="#fff" fill-opacity="0.7">–13</text>
<text transform="translate(127.50,359.45) scale(0.78,1)" font-size="5.6" text-anchor="middle" fill="#fff" fill-opacity="0.7">–25</text>
<text transform="translate(136.50,359.45) scale(0.78,1)" font-size="5.6" text-anchor="middle" fill="#fff" fill-opacity="0.7">–26</text>
<text transform="translate(145.50,359.45) scale(0.78,1)" font-size="5.6" text-anchor="middle" fill="#fff" fill-opacity="0.7">–17</text>
<text transform="translate(154.50,359.45) scale(0.78,1)" font-size="5.6" text-anchor="middle" fill="#fff" fill-opacity="0.7">5</text>
<text transform="translate(163.50,359.45) scale(0.78,1)" font-size="5.6" text-anchor="middle" fill="#fff" fill-opacity="0.7">1</text>
<text transform="translate(109.50,368.27) scale(0.78,1)" font-size="5.6" text-anchor="middle" fill="#fff" fill-opacity="0.7">0</text>
<text transform="translate(118.50,368.27) scale(0.78,1)" font-size="5.6" text-anchor="middle" fill="#fff" fill-opacity="0.7">–19</text>
<text transform="translate(127.50,368.27) scale(0.78,1)" font-size="5.6" text-anchor="middle" fill="#fff" fill-opacity="0.7">–23</text>
<text transform="translate(136.50,368.27) scale(0.78,1)" font-size="5.6" text-anchor="middle" fill="#fff" fill-opacity="0.7">–24</text>
<text transform="translate(145.50,368.27) scale(0.78,1)" font-size="5.6" text-anchor="middle" fill="#fff" fill-opacity="0.7">–19</text>
<text transform="translate(154.50,368.27) scale(0.78,1)" font-size="5.6" text-anchor="middle" fill="#fff" fill-opacity="0.7">–8</text>
<text transform="translate(163.50,368.27) scale(0.78,1)" font-size="5.6" text-anchor="middle" fill="#fff" fill-opacity="0.7">–4</text>
<text transform="translate(109.50,377.09) scale(0.78,1)" font-size="5.6" text-anchor="middle" fill="#fff" fill-opacity="0.7">0</text>
<text transform="translate(118.50,377.09) scale(0.78,1)" font-size="5.6" text-anchor="middle" fill="#fff" fill-opacity="0.7">0</text>
<text transform="translate(127.50,377.09) scale(0.78,1)" font-size="5.6" text-anchor="middle" fill="#fff" fill-opacity="0.7">0</text>
<text transform="translate(136.50,377.09) scale(0.78,1)" font-size="5.6" text-anchor="middle" fill="#fff" fill-opacity="0.7">0</text>
<text transform="translate(145.50,377.09) scale(0.78,1)" font-size="5.6" text-anchor="middle" fill="#fff" fill-opacity="0.7">0</text>
<text transform="translate(154.50,377.09) scale(0.78,1)" font-size="5.6" text-anchor="middle" fill="#fff" fill-opacity="0.7">0</text>
<text transform="translate(163.50,377.09) scale(0.78,1)" font-size="5.6" text-anchor="middle" fill="#fff" fill-opacity="0.7">0</text>
<line x1="109.50" y1="379.20" x2="109.50" y2="381.00" stroke="#333" stroke-width="0.5"/>
<text class="t" color="#111" transform="translate(109.50,381.80) rotate(-90)" x="0" y="1.75" font-size="4.9" text-anchor="end" fill="#111">0</text>
<line x1="118.50" y1="379.20" x2="118.50" y2="381.00" stroke="#333" stroke-width="0.5"/>
<text class="t" color="#111" transform="translate(118.50,381.80) rotate(-90)" x="0" y="1.75" font-size="4.9" text-anchor="end" fill="#111">0.1</text>
<line x1="127.50" y1="379.20" x2="127.50" y2="381.00" stroke="#333" stroke-width="0.5"/>
<text class="t" color="#111" transform="translate(127.50,381.80) rotate(-90)" x="0" y="1.75" font-size="4.9" text-anchor="end" fill="#111">0.25</text>
<line x1="136.50" y1="379.20" x2="136.50" y2="381.00" stroke="#333" stroke-width="0.5"/>
<text class="t" color="#111" transform="translate(136.50,381.80) rotate(-90)" x="0" y="1.75" font-size="4.9" text-anchor="end" fill="#111">0.5</text>
<line x1="145.50" y1="379.20" x2="145.50" y2="381.00" stroke="#333" stroke-width="0.5"/>
<text class="t" color="#111" transform="translate(145.50,381.80) rotate(-90)" x="0" y="1.75" font-size="4.9" text-anchor="end" fill="#111">1</text>
<line x1="154.50" y1="379.20" x2="154.50" y2="381.00" stroke="#333" stroke-width="0.5"/>
<text class="t" color="#111" transform="translate(154.50,381.80) rotate(-90)" x="0" y="1.75" font-size="4.9" text-anchor="end" fill="#111">2</text>
<line x1="163.50" y1="379.20" x2="163.50" y2="381.00" stroke="#333" stroke-width="0.5"/>
<text class="t" color="#111" transform="translate(163.50,381.80) rotate(-90)" x="0" y="1.75" font-size="4.9" text-anchor="end" fill="#111">3</text>
<rect x="173.50" y="291.00" width="9.70" height="9.52" fill="#2c2f8e"/>
<rect x="182.50" y="291.00" width="9.70" height="9.52" fill="#2c2f8e"/>
<rect x="191.50" y="291.00" width="9.70" height="9.52" fill="#2c2f8e"/>
<rect x="200.50" y="291.00" width="9.70" height="9.52" fill="#2e3292"/>
<rect x="209.50" y="291.00" width="9.70" height="9.52" fill="#343ea0"/>
<rect x="218.50" y="291.00" width="9.70" height="9.52" fill="#406cc5"/>
<rect x="227.50" y="291.00" width="9.00" height="9.52" fill="#58c3e1"/>
<rect x="173.50" y="299.82" width="9.70" height="9.52" fill="#2c2f8e"/>
<rect x="182.50" y="299.82" width="9.70" height="9.52" fill="#2c2f8e"/>
<rect x="191.50" y="299.82" width="9.70" height="9.52" fill="#2c2f8e"/>
<rect x="200.50" y="299.82" width="9.70" height="9.52" fill="#2d3090"/>
<rect x="209.50" y="299.82" width="9.70" height="9.52" fill="#313899"/>
<rect x="218.50" y="299.82" width="9.70" height="9.52" fill="#3e56b8"/>
<rect x="227.50" y="299.82" width="9.00" height="9.52" fill="#4178cb"/>
<rect x="173.50" y="308.64" width="9.70" height="9.52" fill="#2c2f8e"/>
<rect x="182.50" y="308.64" width="9.70" height="9.52" fill="#2c2f8e"/>
<rect x="191.50" y="308.64" width="9.70" height="9.52" fill="#2c2f8e"/>
<rect x="200.50" y="308.64" width="9.70" height="9.52" fill="#2c2f8e"/>
<rect x="209.50" y="308.64" width="9.70" height="9.52" fill="#2f3595"/>
<rect x="218.50" y="308.64" width="9.70" height="9.52" fill="#3a4daf"/>
<rect x="227.50" y="308.64" width="9.00" height="9.52" fill="#4180cf"/>
<rect x="173.50" y="317.46" width="9.70" height="9.52" fill="#2c2f8e"/>
<rect x="182.50" y="317.46" width="9.70" height="9.52" fill="#2c2f8e"/>
<rect x="191.50" y="317.46" width="9.70" height="9.52" fill="#2c2f8e"/>
<rect x="200.50" y="317.46" width="9.70" height="9.52" fill="#2c2f8e"/>
<rect x="209.50" y="317.46" width="9.70" height="9.52" fill="#2e3493"/>
<rect x="218.50" y="317.46" width="9.70" height="9.52" fill="#3644a6"/>
<rect x="227.50" y="317.46" width="9.00" height="9.52" fill="#3f5fbd"/>
<rect x="173.50" y="326.28" width="9.70" height="9.52" fill="#2c2f8e"/>
<rect x="182.50" y="326.28" width="9.70" height="9.52" fill="#2c2f8e"/>
<rect x="191.50" y="326.28" width="9.70" height="9.52" fill="#2c2f8e"/>
<rect x="200.50" y="326.28" width="9.70" height="9.52" fill="#2c2f8e"/>
<rect x="209.50" y="326.28" width="9.70" height="9.52" fill="#2e3292"/>
<rect x="218.50" y="326.28" width="9.70" height="9.52" fill="#3541a3"/>
<rect x="227.50" y="326.28" width="9.00" height="9.52" fill="#3f5fbd"/>
<rect x="173.50" y="335.10" width="9.70" height="9.52" fill="#2c2f8e"/>
<rect x="182.50" y="335.10" width="9.70" height="9.52" fill="#2c2f8e"/>
<rect x="191.50" y="335.10" width="9.70" height="9.52" fill="#2c2f8e"/>
<rect x="200.50" y="335.10" width="9.70" height="9.52" fill="#2c2f8e"/>
<rect x="209.50" y="335.10" width="9.70" height="9.52" fill="#2e3292"/>
<rect x="218.50" y="335.10" width="9.70" height="9.52" fill="#343ea0"/>
<rect x="227.50" y="335.10" width="9.00" height="9.52" fill="#3e5abb"/>
<rect x="173.50" y="343.92" width="9.70" height="9.52" fill="#2c2f8e"/>
<rect x="182.50" y="343.92" width="9.70" height="9.52" fill="#2c2f8e"/>
<rect x="191.50" y="343.92" width="9.70" height="9.52" fill="#2c2f8e"/>
<rect x="200.50" y="343.92" width="9.70" height="9.52" fill="#2c2f8e"/>
<rect x="209.50" y="343.92" width="9.70" height="9.52" fill="#2e3292"/>
<rect x="218.50" y="343.92" width="9.70" height="9.52" fill="#343ea0"/>
<rect x="227.50" y="343.92" width="9.00" height="9.52" fill="#3e56b8"/>
<rect x="173.50" y="352.74" width="9.70" height="9.52" fill="#2c2f8e"/>
<rect x="182.50" y="352.74" width="9.70" height="9.52" fill="#2c2f8e"/>
<rect x="191.50" y="352.74" width="9.70" height="9.52" fill="#2c2f8e"/>
<rect x="200.50" y="352.74" width="9.70" height="9.52" fill="#2c2f8e"/>
<rect x="209.50" y="352.74" width="9.70" height="9.52" fill="#2e3292"/>
<rect x="218.50" y="352.74" width="9.70" height="9.52" fill="#343ea0"/>
<rect x="227.50" y="352.74" width="9.00" height="9.52" fill="#3e5abb"/>
<rect x="173.50" y="361.56" width="9.70" height="9.52" fill="#2c2f8e"/>
<rect x="182.50" y="361.56" width="9.70" height="9.52" fill="#2c2f8e"/>
<rect x="191.50" y="361.56" width="9.70" height="9.52" fill="#2c2f8e"/>
<rect x="200.50" y="361.56" width="9.70" height="9.52" fill="#2c2f8e"/>
<rect x="209.50" y="361.56" width="9.70" height="9.52" fill="#2e3493"/>
<rect x="218.50" y="361.56" width="9.70" height="9.52" fill="#3644a6"/>
<rect x="227.50" y="361.56" width="9.00" height="9.52" fill="#3f5fbd"/>
<rect x="173.50" y="370.38" width="9.70" height="8.82" fill="#2c2f8e"/>
<rect x="182.50" y="370.38" width="9.70" height="8.82" fill="#2d3090"/>
<rect x="191.50" y="370.38" width="9.70" height="8.82" fill="#2c2f8e"/>
<rect x="200.50" y="370.38" width="9.70" height="8.82" fill="#2c2f8e"/>
<rect x="209.50" y="370.38" width="9.70" height="8.82" fill="#2f3595"/>
<rect x="218.50" y="370.38" width="9.70" height="8.82" fill="#394aac"/>
<rect x="227.50" y="370.38" width="9.00" height="8.82" fill="#3f63c0"/>
<text transform="translate(178.00,297.71) scale(0.78,1)" font-size="5.6" text-anchor="middle" fill="#fff" fill-opacity="0.7">0</text>
<text transform="translate(187.00,297.71) scale(0.78,1)" font-size="5.6" text-anchor="middle" fill="#fff" fill-opacity="0.7">0</text>
<text transform="translate(196.00,297.71) scale(0.78,1)" font-size="5.6" text-anchor="middle" fill="#fff" fill-opacity="0.7">0</text>
<text transform="translate(205.00,297.71) scale(0.78,1)" font-size="5.6" text-anchor="middle" fill="#fff" fill-opacity="0.7">2</text>
<text transform="translate(214.00,297.71) scale(0.78,1)" font-size="5.6" text-anchor="middle" fill="#fff" fill-opacity="0.7">10</text>
<text transform="translate(223.00,297.71) scale(0.78,1)" font-size="5.6" text-anchor="middle" fill="#fff" fill-opacity="0.7">23</text>
<text transform="translate(232.00,297.71) scale(0.78,1)" font-size="5.6" text-anchor="middle" fill="#000" fill-opacity="0.6">35</text>
<text transform="translate(178.00,306.53) scale(0.78,1)" font-size="5.6" text-anchor="middle" fill="#fff" fill-opacity="0.7">0</text>
<text transform="translate(187.00,306.53) scale(0.78,1)" font-size="5.6" text-anchor="middle" fill="#fff" fill-opacity="0.7">0</text>
<text transform="translate(196.00,306.53) scale(0.78,1)" font-size="5.6" text-anchor="middle" fill="#fff" fill-opacity="0.7">0</text>
<text transform="translate(205.00,306.53) scale(0.78,1)" font-size="5.6" text-anchor="middle" fill="#fff" fill-opacity="0.7">1</text>
<text transform="translate(214.00,306.53) scale(0.78,1)" font-size="5.6" text-anchor="middle" fill="#fff" fill-opacity="0.7">6</text>
<text transform="translate(223.00,306.53) scale(0.78,1)" font-size="5.6" text-anchor="middle" fill="#fff" fill-opacity="0.7">18</text>
<text transform="translate(232.00,306.53) scale(0.78,1)" font-size="5.6" text-anchor="middle" fill="#fff" fill-opacity="0.7">25</text>
<text transform="translate(178.00,315.35) scale(0.78,1)" font-size="5.6" text-anchor="middle" fill="#fff" fill-opacity="0.7">0</text>
<text transform="translate(187.00,315.35) scale(0.78,1)" font-size="5.6" text-anchor="middle" fill="#fff" fill-opacity="0.7">0</text>
<text transform="translate(196.00,315.35) scale(0.78,1)" font-size="5.6" text-anchor="middle" fill="#fff" fill-opacity="0.7">0</text>
<text transform="translate(205.00,315.35) scale(0.78,1)" font-size="5.6" text-anchor="middle" fill="#fff" fill-opacity="0.7">0</text>
<text transform="translate(214.00,315.35) scale(0.78,1)" font-size="5.6" text-anchor="middle" fill="#fff" fill-opacity="0.7">4</text>
<text transform="translate(223.00,315.35) scale(0.78,1)" font-size="5.6" text-anchor="middle" fill="#fff" fill-opacity="0.7">15</text>
<text transform="translate(232.00,315.35) scale(0.78,1)" font-size="5.6" text-anchor="middle" fill="#fff" fill-opacity="0.7">26</text>
<text transform="translate(178.00,324.17) scale(0.78,1)" font-size="5.6" text-anchor="middle" fill="#fff" fill-opacity="0.7">0</text>
<text transform="translate(187.00,324.17) scale(0.78,1)" font-size="5.6" text-anchor="middle" fill="#fff" fill-opacity="0.7">0</text>
<text transform="translate(196.00,324.17) scale(0.78,1)" font-size="5.6" text-anchor="middle" fill="#fff" fill-opacity="0.7">0</text>
<text transform="translate(205.00,324.17) scale(0.78,1)" font-size="5.6" text-anchor="middle" fill="#fff" fill-opacity="0.7">0</text>
<text transform="translate(214.00,324.17) scale(0.78,1)" font-size="5.6" text-anchor="middle" fill="#fff" fill-opacity="0.7">3</text>
<text transform="translate(223.00,324.17) scale(0.78,1)" font-size="5.6" text-anchor="middle" fill="#fff" fill-opacity="0.7">12</text>
<text transform="translate(232.00,324.17) scale(0.78,1)" font-size="5.6" text-anchor="middle" fill="#fff" fill-opacity="0.7">20</text>
<text transform="translate(178.00,332.99) scale(0.78,1)" font-size="5.6" text-anchor="middle" fill="#fff" fill-opacity="0.7">0</text>
<text transform="translate(187.00,332.99) scale(0.78,1)" font-size="5.6" text-anchor="middle" fill="#fff" fill-opacity="0.7">0</text>
<text transform="translate(196.00,332.99) scale(0.78,1)" font-size="5.6" text-anchor="middle" fill="#fff" fill-opacity="0.7">0</text>
<text transform="translate(205.00,332.99) scale(0.78,1)" font-size="5.6" text-anchor="middle" fill="#fff" fill-opacity="0.7">0</text>
<text transform="translate(214.00,332.99) scale(0.78,1)" font-size="5.6" text-anchor="middle" fill="#fff" fill-opacity="0.7">2</text>
<text transform="translate(223.00,332.99) scale(0.78,1)" font-size="5.6" text-anchor="middle" fill="#fff" fill-opacity="0.7">11</text>
<text transform="translate(232.00,332.99) scale(0.78,1)" font-size="5.6" text-anchor="middle" fill="#fff" fill-opacity="0.7">20</text>
<text transform="translate(178.00,341.81) scale(0.78,1)" font-size="5.6" text-anchor="middle" fill="#fff" fill-opacity="0.7">0</text>
<text transform="translate(187.00,341.81) scale(0.78,1)" font-size="5.6" text-anchor="middle" fill="#fff" fill-opacity="0.7">0</text>
<text transform="translate(196.00,341.81) scale(0.78,1)" font-size="5.6" text-anchor="middle" fill="#fff" fill-opacity="0.7">0</text>
<text transform="translate(205.00,341.81) scale(0.78,1)" font-size="5.6" text-anchor="middle" fill="#fff" fill-opacity="0.7">0</text>
<text transform="translate(214.00,341.81) scale(0.78,1)" font-size="5.6" text-anchor="middle" fill="#fff" fill-opacity="0.7">2</text>
<text transform="translate(223.00,341.81) scale(0.78,1)" font-size="5.6" text-anchor="middle" fill="#fff" fill-opacity="0.7">10</text>
<text transform="translate(232.00,341.81) scale(0.78,1)" font-size="5.6" text-anchor="middle" fill="#fff" fill-opacity="0.7">19</text>
<text transform="translate(178.00,350.63) scale(0.78,1)" font-size="5.6" text-anchor="middle" fill="#fff" fill-opacity="0.7">0</text>
<text transform="translate(187.00,350.63) scale(0.78,1)" font-size="5.6" text-anchor="middle" fill="#fff" fill-opacity="0.7">0</text>
<text transform="translate(196.00,350.63) scale(0.78,1)" font-size="5.6" text-anchor="middle" fill="#fff" fill-opacity="0.7">0</text>
<text transform="translate(205.00,350.63) scale(0.78,1)" font-size="5.6" text-anchor="middle" fill="#fff" fill-opacity="0.7">0</text>
<text transform="translate(214.00,350.63) scale(0.78,1)" font-size="5.6" text-anchor="middle" fill="#fff" fill-opacity="0.7">2</text>
<text transform="translate(223.00,350.63) scale(0.78,1)" font-size="5.6" text-anchor="middle" fill="#fff" fill-opacity="0.7">10</text>
<text transform="translate(232.00,350.63) scale(0.78,1)" font-size="5.6" text-anchor="middle" fill="#fff" fill-opacity="0.7">18</text>
<text transform="translate(178.00,359.45) scale(0.78,1)" font-size="5.6" text-anchor="middle" fill="#fff" fill-opacity="0.7">0</text>
<text transform="translate(187.00,359.45) scale(0.78,1)" font-size="5.6" text-anchor="middle" fill="#fff" fill-opacity="0.7">0</text>
<text transform="translate(196.00,359.45) scale(0.78,1)" font-size="5.6" text-anchor="middle" fill="#fff" fill-opacity="0.7">0</text>
<text transform="translate(205.00,359.45) scale(0.78,1)" font-size="5.6" text-anchor="middle" fill="#fff" fill-opacity="0.7">0</text>
<text transform="translate(214.00,359.45) scale(0.78,1)" font-size="5.6" text-anchor="middle" fill="#fff" fill-opacity="0.7">2</text>
<text transform="translate(223.00,359.45) scale(0.78,1)" font-size="5.6" text-anchor="middle" fill="#fff" fill-opacity="0.7">10</text>
<text transform="translate(232.00,359.45) scale(0.78,1)" font-size="5.6" text-anchor="middle" fill="#fff" fill-opacity="0.7">19</text>
<text transform="translate(178.00,368.27) scale(0.78,1)" font-size="5.6" text-anchor="middle" fill="#fff" fill-opacity="0.7">0</text>
<text transform="translate(187.00,368.27) scale(0.78,1)" font-size="5.6" text-anchor="middle" fill="#fff" fill-opacity="0.7">0</text>
<text transform="translate(196.00,368.27) scale(0.78,1)" font-size="5.6" text-anchor="middle" fill="#fff" fill-opacity="0.7">0</text>
<text transform="translate(205.00,368.27) scale(0.78,1)" font-size="5.6" text-anchor="middle" fill="#fff" fill-opacity="0.7">0</text>
<text transform="translate(214.00,368.27) scale(0.78,1)" font-size="5.6" text-anchor="middle" fill="#fff" fill-opacity="0.7">3</text>
<text transform="translate(223.00,368.27) scale(0.78,1)" font-size="5.6" text-anchor="middle" fill="#fff" fill-opacity="0.7">12</text>
<text transform="translate(232.00,368.27) scale(0.78,1)" font-size="5.6" text-anchor="middle" fill="#fff" fill-opacity="0.7">20</text>
<text transform="translate(178.00,377.09) scale(0.78,1)" font-size="5.6" text-anchor="middle" fill="#fff" fill-opacity="0.7">0</text>
<text transform="translate(187.00,377.09) scale(0.78,1)" font-size="5.6" text-anchor="middle" fill="#fff" fill-opacity="0.7">1</text>
<text transform="translate(196.00,377.09) scale(0.78,1)" font-size="5.6" text-anchor="middle" fill="#fff" fill-opacity="0.7">0</text>
<text transform="translate(205.00,377.09) scale(0.78,1)" font-size="5.6" text-anchor="middle" fill="#fff" fill-opacity="0.7">0</text>
<text transform="translate(214.00,377.09) scale(0.78,1)" font-size="5.6" text-anchor="middle" fill="#fff" fill-opacity="0.7">4</text>
<text transform="translate(223.00,377.09) scale(0.78,1)" font-size="5.6" text-anchor="middle" fill="#fff" fill-opacity="0.7">14</text>
<text transform="translate(232.00,377.09) scale(0.78,1)" font-size="5.6" text-anchor="middle" fill="#fff" fill-opacity="0.7">21</text>
<line x1="178.00" y1="379.20" x2="178.00" y2="381.00" stroke="#333" stroke-width="0.5"/>
<text class="t" color="#111" transform="translate(178.00,381.80) rotate(-90)" x="0" y="1.75" font-size="4.9" text-anchor="end" fill="#111">0</text>
<line x1="187.00" y1="379.20" x2="187.00" y2="381.00" stroke="#333" stroke-width="0.5"/>
<text class="t" color="#111" transform="translate(187.00,381.80) rotate(-90)" x="0" y="1.75" font-size="4.9" text-anchor="end" fill="#111">0.1</text>
<line x1="196.00" y1="379.20" x2="196.00" y2="381.00" stroke="#333" stroke-width="0.5"/>
<text class="t" color="#111" transform="translate(196.00,381.80) rotate(-90)" x="0" y="1.75" font-size="4.9" text-anchor="end" fill="#111">0.25</text>
<line x1="205.00" y1="379.20" x2="205.00" y2="381.00" stroke="#333" stroke-width="0.5"/>
<text class="t" color="#111" transform="translate(205.00,381.80) rotate(-90)" x="0" y="1.75" font-size="4.9" text-anchor="end" fill="#111">0.5</text>
<line x1="214.00" y1="379.20" x2="214.00" y2="381.00" stroke="#333" stroke-width="0.5"/>
<text class="t" color="#111" transform="translate(214.00,381.80) rotate(-90)" x="0" y="1.75" font-size="4.9" text-anchor="end" fill="#111">1</text>
<line x1="223.00" y1="379.20" x2="223.00" y2="381.00" stroke="#333" stroke-width="0.5"/>
<text class="t" color="#111" transform="translate(223.00,381.80) rotate(-90)" x="0" y="1.75" font-size="4.9" text-anchor="end" fill="#111">2</text>
<line x1="232.00" y1="379.20" x2="232.00" y2="381.00" stroke="#333" stroke-width="0.5"/>
<text class="t" color="#111" transform="translate(232.00,381.80) rotate(-90)" x="0" y="1.75" font-size="4.9" text-anchor="end" fill="#111">3</text>
<rect x="241.00" y="291.00" width="9.70" height="9.52" fill="#2c2f8e"/>
<rect x="250.00" y="291.00" width="9.70" height="9.52" fill="#2c2f8e"/>
<rect x="259.00" y="291.00" width="9.70" height="9.52" fill="#2c2f8e"/>
<rect x="268.00" y="291.00" width="9.70" height="9.52" fill="#31399a"/>
<rect x="277.00" y="291.00" width="9.70" height="9.52" fill="#3f5ebd"/>
<rect x="286.00" y="291.00" width="9.70" height="9.52" fill="#47a4dd"/>
<rect x="295.00" y="291.00" width="9.00" height="9.52" fill="#6ac8ca"/>
<rect x="241.00" y="299.82" width="9.70" height="9.52" fill="#2c2f8e"/>
<rect x="250.00" y="299.82" width="9.70" height="9.52" fill="#2c2f8e"/>
<rect x="259.00" y="299.82" width="9.70" height="9.52" fill="#2c2f8e"/>
<rect x="268.00" y="299.82" width="9.70" height="9.52" fill="#2c2f8e"/>
<rect x="277.00" y="299.82" width="9.70" height="9.52" fill="#31399a"/>
<rect x="286.00" y="299.82" width="9.70" height="9.52" fill="#3848aa"/>
<rect x="295.00" y="299.82" width="9.00" height="9.52" fill="#406cc6"/>
<rect x="241.00" y="308.64" width="9.70" height="9.52" fill="#2c2f8e"/>
<rect x="250.00" y="308.64" width="9.70" height="9.52" fill="#2c2f8e"/>
<rect x="259.00" y="308.64" width="9.70" height="9.52" fill="#2c2f8e"/>
<rect x="268.00" y="308.64" width="9.70" height="9.52" fill="#2c2f8e"/>
<rect x="277.00" y="308.64" width="9.70" height="9.52" fill="#2c2f8e"/>
<rect x="286.00" y="308.64" width="9.70" height="9.52" fill="#2f3494"/>
<rect x="295.00" y="308.64" width="9.00" height="9.52" fill="#343ea0"/>
<rect x="241.00" y="317.46" width="9.70" height="9.52" fill="#2c2f8e"/>
<rect x="250.00" y="317.46" width="9.70" height="9.52" fill="#2c2f8e"/>
<rect x="259.00" y="317.46" width="9.70" height="9.52" fill="#2c2f8e"/>
<rect x="268.00" y="317.46" width="9.70" height="9.52" fill="#2c2f8e"/>
<rect x="277.00" y="317.46" width="9.70" height="9.52" fill="#2c2f8e"/>
<rect x="286.00" y="317.46" width="9.70" height="9.52" fill="#2c2f8e"/>
<rect x="295.00" y="317.46" width="9.00" height="9.52" fill="#2c2f8e"/>
<rect x="241.00" y="326.28" width="9.70" height="9.52" fill="#2c2f8e"/>
<rect x="250.00" y="326.28" width="9.70" height="9.52" fill="#2c2f8e"/>
<rect x="259.00" y="326.28" width="9.70" height="9.52" fill="#2c2f8e"/>
<rect x="268.00" y="326.28" width="9.70" height="9.52" fill="#2c2f8e"/>
<rect x="277.00" y="326.28" width="9.70" height="9.52" fill="#2c2f8e"/>
<rect x="286.00" y="326.28" width="9.70" height="9.52" fill="#2c2f8e"/>
<rect x="295.00" y="326.28" width="9.00" height="9.52" fill="#2c2f8e"/>
<rect x="241.00" y="335.10" width="9.70" height="9.52" fill="#2c2f8e"/>
<rect x="250.00" y="335.10" width="9.70" height="9.52" fill="#2c2f8e"/>
<rect x="259.00" y="335.10" width="9.70" height="9.52" fill="#2c2f8e"/>
<rect x="268.00" y="335.10" width="9.70" height="9.52" fill="#2c2f8e"/>
<rect x="277.00" y="335.10" width="9.70" height="9.52" fill="#2c2f8e"/>
<rect x="286.00" y="335.10" width="9.70" height="9.52" fill="#2c2f8e"/>
<rect x="295.00" y="335.10" width="9.00" height="9.52" fill="#2c2f8e"/>
<rect x="241.00" y="343.92" width="9.70" height="9.52" fill="#2c2f8e"/>
<rect x="250.00" y="343.92" width="9.70" height="9.52" fill="#2c2f8e"/>
<rect x="259.00" y="343.92" width="9.70" height="9.52" fill="#2c2f8e"/>
<rect x="268.00" y="343.92" width="9.70" height="9.52" fill="#2c2f8e"/>
<rect x="277.00" y="343.92" width="9.70" height="9.52" fill="#2c2f8e"/>
<rect x="286.00" y="343.92" width="9.70" height="9.52" fill="#2c2f8e"/>
<rect x="295.00" y="343.92" width="9.00" height="9.52" fill="#2c2f8e"/>
<rect x="241.00" y="352.74" width="9.70" height="9.52" fill="#2c2f8e"/>
<rect x="250.00" y="352.74" width="9.70" height="9.52" fill="#2c2f8e"/>
<rect x="259.00" y="352.74" width="9.70" height="9.52" fill="#2c2f8e"/>
<rect x="268.00" y="352.74" width="9.70" height="9.52" fill="#2c2f8e"/>
<rect x="277.00" y="352.74" width="9.70" height="9.52" fill="#2c2f8e"/>
<rect x="286.00" y="352.74" width="9.70" height="9.52" fill="#2c2f8e"/>
<rect x="295.00" y="352.74" width="9.00" height="9.52" fill="#2c2f8e"/>
<rect x="241.00" y="361.56" width="9.70" height="9.52" fill="#2c2f8e"/>
<rect x="250.00" y="361.56" width="9.70" height="9.52" fill="#2c2f8e"/>
<rect x="259.00" y="361.56" width="9.70" height="9.52" fill="#2c2f8e"/>
<rect x="268.00" y="361.56" width="9.70" height="9.52" fill="#2c2f8e"/>
<rect x="277.00" y="361.56" width="9.70" height="9.52" fill="#2c2f8e"/>
<rect x="286.00" y="361.56" width="9.70" height="9.52" fill="#2c2f8e"/>
<rect x="295.00" y="361.56" width="9.00" height="9.52" fill="#2c2f8e"/>
<rect x="241.00" y="370.38" width="9.70" height="8.82" fill="#2c2f8e"/>
<rect x="250.00" y="370.38" width="9.70" height="8.82" fill="#2c2f8e"/>
<rect x="259.00" y="370.38" width="9.70" height="8.82" fill="#2c2f8e"/>
<rect x="268.00" y="370.38" width="9.70" height="8.82" fill="#2c2f8e"/>
<rect x="277.00" y="370.38" width="9.70" height="8.82" fill="#2c2f8e"/>
<rect x="286.00" y="370.38" width="9.70" height="8.82" fill="#2c2f8e"/>
<rect x="295.00" y="370.38" width="9.00" height="8.82" fill="#2c2f8e"/>
<text transform="translate(245.50,297.71) scale(0.78,1)" font-size="5.6" text-anchor="middle" fill="#fff" fill-opacity="0.7">0</text>
<text transform="translate(254.50,297.71) scale(0.78,1)" font-size="5.6" text-anchor="middle" fill="#fff" fill-opacity="0.7">–1</text>
<text transform="translate(263.50,297.71) scale(0.78,1)" font-size="5.6" text-anchor="middle" fill="#fff" fill-opacity="0.7">0</text>
<text transform="translate(272.50,297.71) scale(0.78,1)" font-size="5.6" text-anchor="middle" fill="#fff" fill-opacity="0.7">2</text>
<text transform="translate(281.50,297.71) scale(0.78,1)" font-size="5.6" text-anchor="middle" fill="#fff" fill-opacity="0.7">6</text>
<text transform="translate(290.50,297.71) scale(0.78,1)" font-size="5.6" text-anchor="middle" fill="#000" fill-opacity="0.6">9</text>
<text transform="translate(299.50,297.71) scale(0.78,1)" font-size="5.6" text-anchor="middle" fill="#000" fill-opacity="0.6">12</text>
<text transform="translate(245.50,306.53) scale(0.78,1)" font-size="5.6" text-anchor="middle" fill="#fff" fill-opacity="0.7">0</text>
<text transform="translate(254.50,306.53) scale(0.78,1)" font-size="5.6" text-anchor="middle" fill="#fff" fill-opacity="0.7">–1</text>
<text transform="translate(263.50,306.53) scale(0.78,1)" font-size="5.6" text-anchor="middle" fill="#fff" fill-opacity="0.7">0</text>
<text transform="translate(272.50,306.53) scale(0.78,1)" font-size="5.6" text-anchor="middle" fill="#fff" fill-opacity="0.7">0</text>
<text transform="translate(281.50,306.53) scale(0.78,1)" font-size="5.6" text-anchor="middle" fill="#fff" fill-opacity="0.7">2</text>
<text transform="translate(290.50,306.53) scale(0.78,1)" font-size="5.6" text-anchor="middle" fill="#fff" fill-opacity="0.7">4</text>
<text transform="translate(299.50,306.53) scale(0.78,1)" font-size="5.6" text-anchor="middle" fill="#fff" fill-opacity="0.7">7</text>
<text transform="translate(245.50,315.35) scale(0.78,1)" font-size="5.6" text-anchor="middle" fill="#fff" fill-opacity="0.7">0</text>
<text transform="translate(254.50,315.35) scale(0.78,1)" font-size="5.6" text-anchor="middle" fill="#fff" fill-opacity="0.7">–1</text>
<text transform="translate(263.50,315.35) scale(0.78,1)" font-size="5.6" text-anchor="middle" fill="#fff" fill-opacity="0.7">0</text>
<text transform="translate(272.50,315.35) scale(0.78,1)" font-size="5.6" text-anchor="middle" fill="#fff" fill-opacity="0.7">0</text>
<text transform="translate(281.50,315.35) scale(0.78,1)" font-size="5.6" text-anchor="middle" fill="#fff" fill-opacity="0.7">–1</text>
<text transform="translate(290.50,315.35) scale(0.78,1)" font-size="5.6" text-anchor="middle" fill="#fff" fill-opacity="0.7">1</text>
<text transform="translate(299.50,315.35) scale(0.78,1)" font-size="5.6" text-anchor="middle" fill="#fff" fill-opacity="0.7">3</text>
<text transform="translate(245.50,324.17) scale(0.78,1)" font-size="5.6" text-anchor="middle" fill="#fff" fill-opacity="0.7">0</text>
<text transform="translate(254.50,324.17) scale(0.78,1)" font-size="5.6" text-anchor="middle" fill="#fff" fill-opacity="0.7">–1</text>
<text transform="translate(263.50,324.17) scale(0.78,1)" font-size="5.6" text-anchor="middle" fill="#fff" fill-opacity="0.7">0</text>
<text transform="translate(272.50,324.17) scale(0.78,1)" font-size="5.6" text-anchor="middle" fill="#fff" fill-opacity="0.7">0</text>
<text transform="translate(281.50,324.17) scale(0.78,1)" font-size="5.6" text-anchor="middle" fill="#fff" fill-opacity="0.7">–2</text>
<text transform="translate(290.50,324.17) scale(0.78,1)" font-size="5.6" text-anchor="middle" fill="#fff" fill-opacity="0.7">–2</text>
<text transform="translate(299.50,324.17) scale(0.78,1)" font-size="5.6" text-anchor="middle" fill="#fff" fill-opacity="0.7">0</text>
<text transform="translate(245.50,332.99) scale(0.78,1)" font-size="5.6" text-anchor="middle" fill="#fff" fill-opacity="0.7">0</text>
<text transform="translate(254.50,332.99) scale(0.78,1)" font-size="5.6" text-anchor="middle" fill="#fff" fill-opacity="0.7">–1</text>
<text transform="translate(263.50,332.99) scale(0.78,1)" font-size="5.6" text-anchor="middle" fill="#fff" fill-opacity="0.7">0</text>
<text transform="translate(272.50,332.99) scale(0.78,1)" font-size="5.6" text-anchor="middle" fill="#fff" fill-opacity="0.7">0</text>
<text transform="translate(281.50,332.99) scale(0.78,1)" font-size="5.6" text-anchor="middle" fill="#fff" fill-opacity="0.7">–3</text>
<text transform="translate(290.50,332.99) scale(0.78,1)" font-size="5.6" text-anchor="middle" fill="#fff" fill-opacity="0.7">–3</text>
<text transform="translate(299.50,332.99) scale(0.78,1)" font-size="5.6" text-anchor="middle" fill="#fff" fill-opacity="0.7">–2</text>
<text transform="translate(245.50,341.81) scale(0.78,1)" font-size="5.6" text-anchor="middle" fill="#fff" fill-opacity="0.7">0</text>
<text transform="translate(254.50,341.81) scale(0.78,1)" font-size="5.6" text-anchor="middle" fill="#fff" fill-opacity="0.7">–1</text>
<text transform="translate(263.50,341.81) scale(0.78,1)" font-size="5.6" text-anchor="middle" fill="#fff" fill-opacity="0.7">0</text>
<text transform="translate(272.50,341.81) scale(0.78,1)" font-size="5.6" text-anchor="middle" fill="#fff" fill-opacity="0.7">0</text>
<text transform="translate(281.50,341.81) scale(0.78,1)" font-size="5.6" text-anchor="middle" fill="#fff" fill-opacity="0.7">–3</text>
<text transform="translate(290.50,341.81) scale(0.78,1)" font-size="5.6" text-anchor="middle" fill="#fff" fill-opacity="0.7">–4</text>
<text transform="translate(299.50,341.81) scale(0.78,1)" font-size="5.6" text-anchor="middle" fill="#fff" fill-opacity="0.7">–4</text>
<text transform="translate(245.50,350.63) scale(0.78,1)" font-size="5.6" text-anchor="middle" fill="#fff" fill-opacity="0.7">0</text>
<text transform="translate(254.50,350.63) scale(0.78,1)" font-size="5.6" text-anchor="middle" fill="#fff" fill-opacity="0.7">–1</text>
<text transform="translate(263.50,350.63) scale(0.78,1)" font-size="5.6" text-anchor="middle" fill="#fff" fill-opacity="0.7">0</text>
<text transform="translate(272.50,350.63) scale(0.78,1)" font-size="5.6" text-anchor="middle" fill="#fff" fill-opacity="0.7">0</text>
<text transform="translate(281.50,350.63) scale(0.78,1)" font-size="5.6" text-anchor="middle" fill="#fff" fill-opacity="0.7">–3</text>
<text transform="translate(290.50,350.63) scale(0.78,1)" font-size="5.6" text-anchor="middle" fill="#fff" fill-opacity="0.7">–4</text>
<text transform="translate(299.50,350.63) scale(0.78,1)" font-size="5.6" text-anchor="middle" fill="#fff" fill-opacity="0.7">–4</text>
<text transform="translate(245.50,359.45) scale(0.78,1)" font-size="5.6" text-anchor="middle" fill="#fff" fill-opacity="0.7">0</text>
<text transform="translate(254.50,359.45) scale(0.78,1)" font-size="5.6" text-anchor="middle" fill="#fff" fill-opacity="0.7">–1</text>
<text transform="translate(263.50,359.45) scale(0.78,1)" font-size="5.6" text-anchor="middle" fill="#fff" fill-opacity="0.7">0</text>
<text transform="translate(272.50,359.45) scale(0.78,1)" font-size="5.6" text-anchor="middle" fill="#fff" fill-opacity="0.7">0</text>
<text transform="translate(281.50,359.45) scale(0.78,1)" font-size="5.6" text-anchor="middle" fill="#fff" fill-opacity="0.7">–2</text>
<text transform="translate(290.50,359.45) scale(0.78,1)" font-size="5.6" text-anchor="middle" fill="#fff" fill-opacity="0.7">–4</text>
<text transform="translate(299.50,359.45) scale(0.78,1)" font-size="5.6" text-anchor="middle" fill="#fff" fill-opacity="0.7">–3</text>
<text transform="translate(245.50,368.27) scale(0.78,1)" font-size="5.6" text-anchor="middle" fill="#fff" fill-opacity="0.7">0</text>
<text transform="translate(254.50,368.27) scale(0.78,1)" font-size="5.6" text-anchor="middle" fill="#fff" fill-opacity="0.7">–1</text>
<text transform="translate(263.50,368.27) scale(0.78,1)" font-size="5.6" text-anchor="middle" fill="#fff" fill-opacity="0.7">0</text>
<text transform="translate(272.50,368.27) scale(0.78,1)" font-size="5.6" text-anchor="middle" fill="#fff" fill-opacity="0.7">0</text>
<text transform="translate(281.50,368.27) scale(0.78,1)" font-size="5.6" text-anchor="middle" fill="#fff" fill-opacity="0.7">–2</text>
<text transform="translate(290.50,368.27) scale(0.78,1)" font-size="5.6" text-anchor="middle" fill="#fff" fill-opacity="0.7">–2</text>
<text transform="translate(299.50,368.27) scale(0.78,1)" font-size="5.6" text-anchor="middle" fill="#fff" fill-opacity="0.7">–2</text>
<text transform="translate(245.50,377.09) scale(0.78,1)" font-size="5.6" text-anchor="middle" fill="#fff" fill-opacity="0.7">0</text>
<text transform="translate(254.50,377.09) scale(0.78,1)" font-size="5.6" text-anchor="middle" fill="#fff" fill-opacity="0.7">0</text>
<text transform="translate(263.50,377.09) scale(0.78,1)" font-size="5.6" text-anchor="middle" fill="#fff" fill-opacity="0.7">0</text>
<text transform="translate(272.50,377.09) scale(0.78,1)" font-size="5.6" text-anchor="middle" fill="#fff" fill-opacity="0.7">0</text>
<text transform="translate(281.50,377.09) scale(0.78,1)" font-size="5.6" text-anchor="middle" fill="#fff" fill-opacity="0.7">0</text>
<text transform="translate(290.50,377.09) scale(0.78,1)" font-size="5.6" text-anchor="middle" fill="#fff" fill-opacity="0.7">0</text>
<text transform="translate(299.50,377.09) scale(0.78,1)" font-size="5.6" text-anchor="middle" fill="#fff" fill-opacity="0.7">0</text>
<line x1="245.50" y1="379.20" x2="245.50" y2="381.00" stroke="#333" stroke-width="0.5"/>
<text class="t" color="#111" transform="translate(245.50,381.80) rotate(-90)" x="0" y="1.75" font-size="4.9" text-anchor="end" fill="#111">0</text>
<line x1="254.50" y1="379.20" x2="254.50" y2="381.00" stroke="#333" stroke-width="0.5"/>
<text class="t" color="#111" transform="translate(254.50,381.80) rotate(-90)" x="0" y="1.75" font-size="4.9" text-anchor="end" fill="#111">0.1</text>
<line x1="263.50" y1="379.20" x2="263.50" y2="381.00" stroke="#333" stroke-width="0.5"/>
<text class="t" color="#111" transform="translate(263.50,381.80) rotate(-90)" x="0" y="1.75" font-size="4.9" text-anchor="end" fill="#111">0.25</text>
<line x1="272.50" y1="379.20" x2="272.50" y2="381.00" stroke="#333" stroke-width="0.5"/>
<text class="t" color="#111" transform="translate(272.50,381.80) rotate(-90)" x="0" y="1.75" font-size="4.9" text-anchor="end" fill="#111">0.5</text>
<line x1="281.50" y1="379.20" x2="281.50" y2="381.00" stroke="#333" stroke-width="0.5"/>
<text class="t" color="#111" transform="translate(281.50,381.80) rotate(-90)" x="0" y="1.75" font-size="4.9" text-anchor="end" fill="#111">1</text>
<line x1="290.50" y1="379.20" x2="290.50" y2="381.00" stroke="#333" stroke-width="0.5"/>
<text class="t" color="#111" transform="translate(290.50,381.80) rotate(-90)" x="0" y="1.75" font-size="4.9" text-anchor="end" fill="#111">2</text>
<line x1="299.50" y1="379.20" x2="299.50" y2="381.00" stroke="#333" stroke-width="0.5"/>
<text class="t" color="#111" transform="translate(299.50,381.80) rotate(-90)" x="0" y="1.75" font-size="4.9" text-anchor="end" fill="#111">3</text>
<text class="t" x="99.30" y="21.68" font-size="5.8" text-anchor="middle" fill="#111" color="#111">PC9 parental</text>
<line x1="82.37" y1="22.20" x2="116.23" y2="22.20" stroke="#111" stroke-width="0.6"/>
<text class="t" x="234.40" y="21.66" font-size="5.75" text-anchor="middle" fill="#111" color="#111">PC9 mesenchymal</text>
<line x1="210.27" y1="22.20" x2="258.53" y2="22.20" stroke="#111" stroke-width="0.6"/>
<text class="t" x="101.40" y="150.99" font-size="5.85" text-anchor="middle" fill="#111" color="#111">HCC4006 parental</text>
<line x1="77.17" y1="151.50" x2="125.63" y2="151.50" stroke="#111" stroke-width="0.6"/>
<text class="t" x="235.70" y="150.64" font-size="5.7" text-anchor="middle" fill="#111" color="#111">HCC4006 ERL-R</text>
<line x1="213.84" y1="151.20" x2="257.56" y2="151.20" stroke="#111" stroke-width="0.6"/>
<text class="t" x="102.30" y="280.28" font-size="5.82" text-anchor="middle" fill="#111" color="#111">HCC827 parental</text>
<line x1="79.82" y1="280.80" x2="124.78" y2="280.80" stroke="#111" stroke-width="0.6"/>
<text class="t" x="236.80" y="279.93" font-size="5.68" text-anchor="middle" fill="#111" color="#111">HCC827 ERL-R</text>
<line x1="216.60" y1="280.50" x2="257.00" y2="280.50" stroke="#111" stroke-width="0.6"/>
<text class="t" x="66.80" y="30.34" font-size="5.7" text-anchor="middle" fill="#111" color="#111">Percentage inhibition</text>
<text class="t" x="132.50" y="30.34" font-size="5.7" text-anchor="middle" fill="#111" color="#111">Delta Bliss</text>
<text class="t" x="201.80" y="30.34" font-size="5.7" text-anchor="middle" fill="#111" color="#111">Percentage inhibition</text>
<text class="t" x="266.70" y="30.34" font-size="5.7" text-anchor="middle" fill="#111" color="#111">Delta Bliss</text>
<text class="t" x="68.70" y="159.54" font-size="5.7" text-anchor="middle" fill="#111" color="#111">Percentage inhibition</text>
<text class="t" x="133.70" y="159.54" font-size="5.7" text-anchor="middle" fill="#111" color="#111">Delta Bliss</text>
<text class="t" x="203.80" y="159.44" font-size="5.7" text-anchor="middle" fill="#111" color="#111">Percentage inhibition</text>
<text class="t" x="268.70" y="159.44" font-size="5.7" text-anchor="middle" fill="#111" color="#111">Delta Bliss</text>
<text class="t" x="70.00" y="288.94" font-size="5.7" text-anchor="middle" fill="#111" color="#111">Percentage inhibition</text>
<text class="t" x="134.80" y="288.94" font-size="5.7" text-anchor="middle" fill="#111" color="#111">Delta Bliss</text>
<text class="t" x="204.70" y="289.04" font-size="5.7" text-anchor="middle" fill="#111" color="#111">Percentage inhibition</text>
<text class="t" x="269.50" y="289.04" font-size="5.7" text-anchor="middle" fill="#111" color="#111">Delta Bliss</text>
<text class="t" x="72.20" y="140.94" font-size="5.7" text-anchor="middle" fill="#111" color="#111">R428 (μmol/L)</text>
<text class="t" x="138.40" y="140.94" font-size="5.7" text-anchor="middle" fill="#111" color="#111">R428 (μmol/L)</text>
<text class="t" x="207.00" y="140.94" font-size="5.7" text-anchor="middle" fill="#111" color="#111">R428 (μmol/L)</text>
<text class="t" x="271.90" y="140.94" font-size="5.7" text-anchor="middle" fill="#111" color="#111">R428 (μmol/L)</text>
<text class="t" x="74.00" y="269.64" font-size="5.7" text-anchor="middle" fill="#111" color="#111">R428 (μmol/L)</text>
<text class="t" x="139.70" y="269.64" font-size="5.7" text-anchor="middle" fill="#111" color="#111">R428 (μmol/L)</text>
<text class="t" x="208.70" y="269.64" font-size="5.7" text-anchor="middle" fill="#111" color="#111">R428 (μmol/L)</text>
<text class="t" x="274.60" y="269.64" font-size="5.7" text-anchor="middle" fill="#111" color="#111">R428 (μmol/L)</text>
<text class="t" x="74.00" y="401.84" font-size="5.7" text-anchor="middle" fill="#111" color="#111">R428 (μmol/L)</text>
<text class="t" x="139.70" y="401.84" font-size="5.7" text-anchor="middle" fill="#111" color="#111">R428 (μmol/L)</text>
<text class="t" x="208.70" y="401.84" font-size="5.7" text-anchor="middle" fill="#111" color="#111">R428 (μmol/L)</text>
<text class="t" x="274.30" y="401.84" font-size="5.7" text-anchor="middle" fill="#111" color="#111">R428 (μmol/L)</text>
<text class="t" color="#111" transform="translate(15.9,79.4) rotate(-90)" x="0" y="2.02" font-size="5.6" text-anchor="middle" fill="#111">Erlotinib (μmol/L)</text>
<text class="t" color="#111" transform="translate(16.1,199.5) rotate(-90)" x="0" y="2.02" font-size="5.6" text-anchor="middle" fill="#111">Erlotinib (μmol/L)</text>
<text class="t" color="#111" transform="translate(18.1,330.8) rotate(-90)" x="0" y="2.02" font-size="5.6" text-anchor="middle" fill="#111">Erlotinib (μmol/L)</text>
<text class="t" x="16.30" y="22.60" font-size="12.4" text-anchor="start" fill="#000" color="#000" font-weight="bold">A</text>
<text class="t" x="304.80" y="23.30" font-size="12.4" text-anchor="start" fill="#000" color="#000" font-weight="bold">B</text>
<text class="t" x="305.30" y="98.10" font-size="12.4" text-anchor="start" fill="#000" color="#000" font-weight="bold">C</text>
<text class="t" x="304.30" y="189.00" font-size="12.4" text-anchor="start" fill="#000" color="#000" font-weight="bold">D</text>
<text class="t" x="310.80" y="295.80" font-size="12.4" text-anchor="start" fill="#000" color="#000" font-weight="bold">E</text>
<text class="t" x="26.90" y="418.80" font-size="12.4" text-anchor="start" fill="#000" color="#000" font-weight="bold">F</text>
<text class="t" x="134.60" y="422.00" font-size="12.4" text-anchor="start" fill="#000" color="#000" font-weight="bold">G</text>
<text class="t" x="290.20" y="421.90" font-size="12.4" text-anchor="start" fill="#000" color="#000" font-weight="bold">H</text>
<defs><filter id="bl3" x="-50%" y="-50%" width="200%" height="200%"><feGaussianBlur stdDeviation="0.3"/></filter><filter id="bl4" x="-50%" y="-50%" width="200%" height="200%"><feGaussianBlur stdDeviation="0.4"/></filter><filter id="bl5" x="-50%" y="-50%" width="200%" height="200%"><feGaussianBlur stdDeviation="0.5"/></filter><filter id="bl6" x="-50%" y="-50%" width="200%" height="200%"><feGaussianBlur stdDeviation="0.6"/></filter><filter id="bl8" x="-50%" y="-50%" width="200%" height="200%"><feGaussianBlur stdDeviation="0.8"/></filter><filter id="bl10" x="-50%" y="-50%" width="200%" height="200%"><feGaussianBlur stdDeviation="1.0"/></filter></defs>
<text class="t" x="372.30" y="26.33" font-size="6.5" text-anchor="middle" fill="#111" color="#111">HCC4006</text>
<line x1="358.03" y1="27.00" x2="386.57" y2="27.00" stroke="#111" stroke-width="0.7"/>
<text class="t" x="426.00" y="26.67" font-size="6.9" text-anchor="middle" fill="#111" color="#111">HCC827</text>
<line x1="412.77" y1="27.40" x2="439.23" y2="27.40" stroke="#111" stroke-width="0.7"/>
<text class="t" color="#111" transform="translate(366.60,49.6) rotate(-90)" x="0" y="2.26" font-size="6.3" fill="#111">PAR</text>
<text class="t" color="#6674b4" transform="translate(378.60,49.6) rotate(-90)" x="0" y="2.26" font-size="6.3" fill="#6674b4">ERL-R</text>
<text class="t" color="#111" transform="translate(418.80,49.6) rotate(-90)" x="0" y="2.26" font-size="6.3" fill="#111">PAR</text>
<text class="t" color="#6674b4" transform="translate(430.80,49.6) rotate(-90)" x="0" y="2.26" font-size="6.3" fill="#6674b4">ERL-R</text>
<rect x="359.70" y="51.40" width="26.40" height="15.00" fill="#fbfbfb" stroke="#6a6a6a" stroke-width="1.1"/>
<rect x="359.70" y="67.10" width="26.40" height="13.30" fill="#fbfbfb" stroke="#6a6a6a" stroke-width="1.1"/>
<rect x="412.70" y="51.50" width="25.80" height="14.80" fill="#fbfbfb" stroke="#6a6a6a" stroke-width="1.1"/>
<rect x="412.70" y="67.70" width="25.80" height="12.40" fill="#fbfbfb" stroke="#6a6a6a" stroke-width="1.1"/>
<ellipse cx="367.00" cy="58.40" rx="4.60" ry="0.90" fill="#111" fill-opacity="0.95" filter="url(#bl5)"/>
<rect x="374.20" y="55.90" width="10.40" height="7.40" rx="2.20" fill="#111" fill-opacity="1" filter="url(#bl4)"/>
<rect x="361.10" y="72.40" width="12.60" height="4.60" rx="2.20" fill="#111" fill-opacity="1" filter="url(#bl5)"/>
<rect x="373.50" y="72.40" width="12.20" height="4.60" rx="2.20" fill="#111" fill-opacity="1" filter="url(#bl5)"/>
<rect x="363.60" y="72.40" width="20.00" height="3.20" rx="1.40" fill="#111" fill-opacity="1" filter="url(#bl4)"/>
<rect x="427.40" y="57.70" width="10.00" height="3.60" rx="1.80" fill="#111" fill-opacity="1" filter="url(#bl4)"/>
<path d="M414.5,73.9 C418,72.4 424,72.2 437.6,72.0 L437.6,76.0 C424,75.8 418,75.3 414.5,74.3 Z" fill="#111" filter="url(#bl5)"/>
<text class="t" x="388.20" y="60.82" font-size="6.2" text-anchor="start" fill="#111" color="#111">AXL</text>
<text class="t" x="388.20" y="75.82" font-size="6.2" text-anchor="start" fill="#111" color="#111">β-Actin</text>
<text class="t" x="441.60" y="61.12" font-size="6.2" text-anchor="start" fill="#111" color="#111">AXL</text>
<text class="t" x="441.60" y="75.72" font-size="6.2" text-anchor="start" fill="#111" color="#111">β-Actin</text>
<rect x="331.90" y="93.80" width="138.40" height="79.50" fill="none" stroke="#555" stroke-width="1.2"/>
<line x1="331.30" y1="102.80" x2="470.90" y2="102.80" stroke="#111" stroke-width="1.2"/>
<line x1="331.30" y1="113.30" x2="470.90" y2="113.30" stroke="#111" stroke-width="1.1"/>
<line x1="406.20" y1="102.80" x2="406.20" y2="173.90" stroke="#444" stroke-width="1.1"/>
<text class="t" x="401.60" y="100.64" font-size="7.8" text-anchor="middle" fill="#111" color="#111" font-weight="bold">Combination with R428 and erlotinib</text>
<text class="t" x="368.80" y="110.84" font-size="7.8" text-anchor="middle" fill="#111" color="#111" font-weight="bold">Cell line</text>
<text class="t" x="438.50" y="110.84" font-size="7.8" text-anchor="middle" fill="#111" color="#111" font-weight="bold">Sum Bliss score</text>
<text class="t" x="369.40" y="121.19" font-size="7.8" text-anchor="middle" fill="#111" color="#111">PC9 mesenchymal</text>
<text class="t" x="438.50" y="121.19" font-size="7.8" text-anchor="middle" fill="#111" color="#111">117</text>
<text class="t" x="369.40" y="131.04" font-size="7.8" text-anchor="middle" fill="#111" color="#111">PC9 parental</text>
<text class="t" x="438.50" y="131.04" font-size="7.8" text-anchor="middle" fill="#111" color="#111">88</text>
<text class="t" x="369.40" y="140.89" font-size="7.8" text-anchor="middle" fill="#111" color="#111">HCC4006</text>
<text class="t" x="438.50" y="140.89" font-size="7.8" text-anchor="middle" fill="#111" color="#111">43</text>
<text class="t" x="369.40" y="150.74" font-size="7.8" text-anchor="middle" fill="#111" color="#111">HCC4006 ERL-R</text>
<text class="t" x="438.50" y="150.74" font-size="7.8" text-anchor="middle" fill="#111" color="#111">–8</text>
<text class="t" x="369.40" y="160.59" font-size="7.8" text-anchor="middle" fill="#111" color="#111">HCC827 ERL-R</text>
<text class="t" x="438.50" y="160.59" font-size="7.8" text-anchor="middle" fill="#111" color="#111">–13</text>
<text class="t" x="369.40" y="170.44" font-size="7.8" text-anchor="middle" fill="#111" color="#111">HCC827 parental</text>
<text class="t" x="438.50" y="170.44" font-size="7.8" text-anchor="middle" fill="#111" color="#111">–233</text>
<line x1="332.80" y1="188.50" x2="332.80" y2="264.60" stroke="#666" stroke-width="0.85"/>
<line x1="332.50" y1="264.30" x2="402.60" y2="264.30" stroke="#666" stroke-width="0.85"/>
<line x1="330.80" y1="264.30" x2="332.80" y2="264.30" stroke="#555" stroke-width="0.6"/>
<text class="t" x="330.40" y="266.09" font-size="5.0" text-anchor="end" fill="#222" color="#222">0</text>
<line x1="330.80" y1="251.75" x2="332.80" y2="251.75" stroke="#555" stroke-width="0.6"/>
<text class="t" x="330.40" y="253.54" font-size="5.0" text-anchor="end" fill="#222" color="#222">20</text>
<line x1="330.80" y1="239.20" x2="332.80" y2="239.20" stroke="#555" stroke-width="0.6"/>
<text class="t" x="330.40" y="240.99" font-size="5.0" text-anchor="end" fill="#222" color="#222">40</text>
<line x1="330.80" y1="226.65" x2="332.80" y2="226.65" stroke="#555" stroke-width="0.6"/>
<text class="t" x="330.40" y="228.44" font-size="5.0" text-anchor="end" fill="#222" color="#222">60</text>
<line x1="330.80" y1="214.10" x2="332.80" y2="214.10" stroke="#555" stroke-width="0.6"/>
<text class="t" x="330.40" y="215.89" font-size="5.0" text-anchor="end" fill="#222" color="#222">80</text>
<line x1="330.80" y1="201.55" x2="332.80" y2="201.55" stroke="#555" stroke-width="0.6"/>
<text class="t" x="330.40" y="203.34" font-size="5.0" text-anchor="end" fill="#222" color="#222">100</text>
<line x1="330.80" y1="189.00" x2="332.80" y2="189.00" stroke="#555" stroke-width="0.6"/>
<text class="t" x="330.40" y="190.79" font-size="5.0" text-anchor="end" fill="#222" color="#222">120</text>
<line x1="340.40" y1="264.30" x2="340.40" y2="265.90" stroke="#555" stroke-width="0.6"/>
<text class="t" x="340.40" y="271.99" font-size="5.0" text-anchor="middle" fill="#222" color="#222">0.001</text>
<line x1="355.70" y1="264.30" x2="355.70" y2="265.90" stroke="#555" stroke-width="0.6"/>
<text class="t" x="355.70" y="271.99" font-size="5.0" text-anchor="middle" fill="#222" color="#222">0.01</text>
<line x1="371.00" y1="264.30" x2="371.00" y2="265.90" stroke="#555" stroke-width="0.6"/>
<text class="t" x="371.00" y="271.99" font-size="5.0" text-anchor="middle" fill="#222" color="#222">0.1</text>
<line x1="386.30" y1="264.30" x2="386.30" y2="265.90" stroke="#555" stroke-width="0.6"/>
<text class="t" x="386.30" y="271.99" font-size="5.0" text-anchor="middle" fill="#222" color="#222">1</text>
<line x1="401.60" y1="264.30" x2="401.60" y2="265.90" stroke="#555" stroke-width="0.6"/>
<text class="t" x="401.60" y="271.99" font-size="5.0" text-anchor="middle" fill="#222" color="#222">10</text>
<text class="t" x="371.90" y="188.08" font-size="7.2" text-anchor="middle" fill="#111" color="#111">PC9</text>
<line x1="364.90" y1="189.60" x2="378.90" y2="189.60" stroke="#111" stroke-width="0.7"/>
<text class="t" color="#111" transform="translate(315.40,227.60) rotate(-90)" x="0" y="2.52" font-size="7.0" text-anchor="middle" fill="#111">% Cell viability</text>
<text class="t" x="374.00" y="279.48" font-size="6.1" text-anchor="middle" fill="#222" color="#222">Erlotinib (μmol/L)</text>
<polyline points="340.40,202.19 340.78,202.19 341.16,202.19 341.55,202.19 341.93,202.19 342.31,202.19 342.69,202.19 343.08,202.19 343.46,202.19 343.84,202.20 344.22,202.20 344.61,202.20 344.99,202.20 345.37,202.20 345.75,202.21 346.14,202.21 346.52,202.21 346.90,202.22 347.28,202.22 347.67,202.23 348.05,202.23 348.43,202.24 348.81,202.24 349.20,202.25 349.58,202.26 349.96,202.27 350.34,202.27 350.73,202.28 351.11,202.29 351.49,202.31 351.88,202.32 352.26,202.33 352.64,202.35 353.02,202.37 353.40,202.39 353.79,202.41 354.17,202.43 354.55,202.46 354.94,202.49 355.32,202.52 355.70,202.56 356.08,202.59 356.46,202.64 356.85,202.68 357.23,202.74 357.61,202.79 358.00,202.85 358.38,202.92 358.76,203.00 359.14,203.08 359.52,203.17 359.91,203.27 360.29,203.38 360.67,203.50 361.05,203.64 361.44,203.78 361.82,203.94 362.20,204.12 362.58,204.31 362.97,204.52 363.35,204.75 363.73,205.00 364.12,205.28 364.50,205.58 364.88,205.90 365.26,206.26 365.64,206.65 366.03,207.07 366.41,207.52 366.79,208.02 367.17,208.55 367.56,209.12 367.94,209.74 368.32,210.41 368.70,211.12 369.09,211.89 369.47,212.70 369.85,213.57 370.23,214.49 370.62,215.46 371.00,216.48 371.38,217.56 371.76,218.68 372.15,219.85 372.53,221.07 372.91,222.32 373.29,223.62 373.68,224.94 374.06,226.29 374.44,227.67 374.82,229.05 375.21,230.45 375.59,231.85 375.97,233.24 376.35,234.62 376.74,235.98 377.12,237.31 377.50,238.62 377.88,239.89 378.27,241.13 378.65,242.32 379.03,243.46 379.41,244.55 379.80,245.60 380.18,246.59 380.56,247.53 380.94,248.42 381.33,249.25 381.71,250.03 382.09,250.77 382.47,251.45 382.86,252.09 383.24,252.68 383.62,253.23 384.00,253.74 384.39,254.21 384.77,254.65 385.15,255.05 385.53,255.41 385.92,255.75 386.30,256.06 386.68,256.35 387.06,256.61 387.45,256.85 387.83,257.06 388.21,257.26 388.59,257.45 388.98,257.61 389.36,257.76 389.74,257.90 390.12,258.03 390.51,258.14 390.89,258.25 391.27,258.34 391.65,258.43 392.04,258.51 392.42,258.58 392.80,258.64 393.19,258.70 393.57,258.75 393.95,258.80 394.33,258.85 394.71,258.89 395.10,258.92 395.48,258.96 395.86,258.99 396.25,259.01 396.63,259.04 397.01,259.06 397.39,259.08 397.77,259.10 398.16,259.12 398.54,259.13 398.92,259.15 399.30,259.16 399.69,259.17 400.07,259.18 400.45,259.19 400.83,259.20 401.22,259.21 401.60,259.21" fill="none" stroke="#2f4a9a" stroke-width="1.4" stroke-linejoin="round"/>
<polyline points="340.40,203.44 340.78,203.45 341.16,203.45 341.55,203.45 341.93,203.45 342.31,203.45 342.69,203.45 343.08,203.46 343.46,203.46 343.84,203.46 344.22,203.46 344.61,203.47 344.99,203.47 345.37,203.47 345.75,203.48 346.14,203.48 346.52,203.48 346.90,203.49 347.28,203.49 347.67,203.50 348.05,203.51 348.43,203.51 348.81,203.52 349.20,203.53 349.58,203.54 349.96,203.55 350.34,203.56 350.73,203.57 351.11,203.59 351.49,203.60 351.88,203.62 352.26,203.64 352.64,203.66 353.02,203.68 353.40,203.70 353.79,203.73 354.17,203.76 354.55,203.79 354.94,203.82 355.32,203.86 355.70,203.90 356.08,203.94 356.46,203.99 356.85,204.05 357.23,204.10 357.61,204.17 358.00,204.24 358.38,204.32 358.76,204.40 359.14,204.49 359.52,204.59 359.91,204.70 360.29,204.82 360.67,204.95 361.05,205.09 361.44,205.25 361.82,205.42 362.20,205.60 362.58,205.80 362.97,206.02 363.35,206.26 363.73,206.52 364.12,206.80 364.50,207.11 364.88,207.44 365.26,207.80 365.64,208.19 366.03,208.61 366.41,209.06 366.79,209.55 367.17,210.07 367.56,210.64 367.94,211.24 368.32,211.89 368.70,212.59 369.09,213.33 369.47,214.11 369.85,214.95 370.23,215.83 370.62,216.77 371.00,217.75 371.38,218.78 371.76,219.87 372.15,220.99 372.53,222.17 372.91,223.38 373.29,224.64 373.68,225.93 374.06,227.25 374.44,228.59 374.82,229.96 375.21,231.35 375.59,232.75 375.97,234.15 376.35,235.55 376.74,236.94 377.12,238.32 377.50,239.68 377.88,241.02 378.27,242.33 378.65,243.60 379.03,244.84 379.41,246.04 379.80,247.20 380.18,248.31 380.56,249.37 380.94,250.38 381.33,251.34 381.71,252.26 382.09,253.12 382.47,253.94 382.86,254.71 383.24,255.43 383.62,256.10 384.00,256.74 384.39,257.33 384.77,257.87 385.15,258.38 385.53,258.86 385.92,259.30 386.30,259.70 386.68,260.08 387.06,260.43 387.45,260.75 387.83,261.05 388.21,261.32 388.59,261.57 388.98,261.80 389.36,262.01 389.74,262.21 390.12,262.38 390.51,262.55 390.89,262.70 391.27,262.84 391.65,262.96 392.04,263.08 392.42,263.18 392.80,263.28 393.19,263.37 393.57,263.45 393.95,263.52 394.33,263.59 394.71,263.65 395.10,263.71 395.48,263.76 395.86,263.81 396.25,263.85 396.63,263.89 397.01,263.93 397.39,263.96 397.77,263.99 398.16,264.02 398.54,264.04 398.92,264.06 399.30,264.08 399.69,264.10 400.07,264.12 400.45,264.14 400.83,264.15 401.22,264.16 401.60,264.18" fill="none" stroke="#6ab04a" stroke-width="1.4" stroke-linejoin="round"/>
<polyline points="340.40,207.83 340.78,207.83 341.16,207.83 341.55,207.83 341.93,207.83 342.31,207.83 342.69,207.83 343.08,207.83 343.46,207.83 343.84,207.83 344.22,207.83 344.61,207.83 344.99,207.83 345.37,207.83 345.75,207.83 346.14,207.83 346.52,207.83 346.90,207.83 347.28,207.83 347.67,207.83 348.05,207.83 348.43,207.83 348.81,207.83 349.20,207.83 349.58,207.83 349.96,207.83 350.34,207.83 350.73,207.83 351.11,207.83 351.49,207.84 351.88,207.84 352.26,207.84 352.64,207.85 353.02,207.85 353.40,207.86 353.79,207.87 354.17,207.87 354.55,207.88 354.94,207.90 355.32,207.91 355.70,207.93 356.08,207.96 356.46,207.99 356.85,208.03 357.23,208.07 357.61,208.12 358.00,208.19 358.38,208.27 358.76,208.37 359.14,208.49 359.52,208.64 359.91,208.81 360.29,209.03 360.67,209.29 361.05,209.60 361.44,209.98 361.82,210.44 362.20,210.99 362.58,211.64 362.97,212.41 363.35,213.32 363.73,214.39 364.12,215.63 364.50,217.05 364.88,218.67 365.26,220.48 365.64,222.48 366.03,224.65 366.41,226.97 366.79,229.41 367.17,231.91 367.56,234.44 367.94,236.94 368.32,239.35 368.70,241.65 369.09,243.79 369.47,245.75 369.85,247.52 370.23,249.10 370.62,250.48 371.00,251.69 371.38,252.72 371.76,253.60 372.15,254.35 372.53,254.98 372.91,255.51 373.29,255.95 373.68,256.31 374.06,256.62 374.44,256.87 374.82,257.08 375.21,257.25 375.59,257.39 375.97,257.50 376.35,257.60 376.74,257.67 377.12,257.74 377.50,257.79 377.88,257.83 378.27,257.87 378.65,257.90 379.03,257.92 379.41,257.94 379.80,257.95 380.18,257.97 380.56,257.98 380.94,257.99 381.33,257.99 381.71,258.00 382.09,258.00 382.47,258.01 382.86,258.01 383.24,258.01 383.62,258.02 384.00,258.02 384.39,258.02 384.77,258.02 385.15,258.02 385.53,258.02 385.92,258.02 386.30,258.02 386.68,258.02 387.06,258.02 387.45,258.02 387.83,258.02 388.21,258.02 388.59,258.02 388.98,258.02 389.36,258.02 389.74,258.02 390.12,258.02 390.51,258.02 390.89,258.02 391.27,258.02 391.65,258.02 392.04,258.02 392.42,258.02 392.80,258.02 393.19,258.02 393.57,258.02 393.95,258.02 394.33,258.02 394.71,258.02 395.10,258.02 395.48,258.02 395.86,258.02 396.25,258.02 396.63,258.02 397.01,258.02 397.39,258.02 397.77,258.02 398.16,258.02 398.54,258.02 398.92,258.02 399.30,258.02 399.69,258.02 400.07,258.02 400.45,258.02 400.83,258.02 401.22,258.02 401.60,258.02" fill="none" stroke="#111111" stroke-width="1.4" stroke-linejoin="round"/>
<polyline points="340.40,205.94 340.78,205.94 341.16,205.94 341.55,205.94 341.93,205.94 342.31,205.94 342.69,205.94 343.08,205.94 343.46,205.94 343.84,205.94 344.22,205.94 344.61,205.94 344.99,205.94 345.37,205.94 345.75,205.94 346.14,205.94 346.52,205.94 346.90,205.94 347.28,205.94 347.67,205.94 348.05,205.94 348.43,205.94 348.81,205.94 349.20,205.94 349.58,205.94 349.96,205.94 350.34,205.94 350.73,205.94 351.11,205.94 351.49,205.94 351.88,205.94 352.26,205.94 352.64,205.94 353.02,205.94 353.40,205.94 353.79,205.94 354.17,205.94 354.55,205.94 354.94,205.94 355.32,205.94 355.70,205.94 356.08,205.94 356.46,205.94 356.85,205.94 357.23,205.94 357.61,205.94 358.00,205.94 358.38,205.94 358.76,205.94 359.14,205.94 359.52,205.94 359.91,205.94 360.29,205.94 360.67,205.95 361.05,205.95 361.44,205.95 361.82,205.95 362.20,205.96 362.58,205.97 362.97,205.98 363.35,206.00 363.73,206.03 364.12,206.08 364.50,206.14 364.88,206.24 365.26,206.39 365.64,206.61 366.03,206.94 366.41,207.42 366.79,208.12 367.17,209.14 367.56,210.59 367.94,212.60 368.32,215.32 368.70,218.83 369.09,223.14 369.47,228.09 369.85,233.36 370.23,238.55 370.62,243.27 371.00,247.27 371.38,250.46 371.76,252.88 372.15,254.65 372.53,255.91 372.91,256.79 373.29,257.39 373.68,257.80 374.06,258.08 374.44,258.27 374.82,258.40 375.21,258.48 375.59,258.54 375.97,258.58 376.35,258.60 376.74,258.62 377.12,258.63 377.50,258.64 377.88,258.64 378.27,258.65 378.65,258.65 379.03,258.65 379.41,258.65 379.80,258.65 380.18,258.65 380.56,258.65 380.94,258.65 381.33,258.65 381.71,258.65 382.09,258.65 382.47,258.65 382.86,258.65 383.24,258.65 383.62,258.65 384.00,258.65 384.39,258.65 384.77,258.65 385.15,258.65 385.53,258.65 385.92,258.65 386.30,258.65 386.68,258.65 387.06,258.65 387.45,258.65 387.83,258.65 388.21,258.65 388.59,258.65 388.98,258.65 389.36,258.65 389.74,258.65 390.12,258.65 390.51,258.65 390.89,258.65 391.27,258.65 391.65,258.65 392.04,258.65 392.42,258.65 392.80,258.65 393.19,258.65 393.57,258.65 393.95,258.65 394.33,258.65 394.71,258.65 395.10,258.65 395.48,258.65 395.86,258.65 396.25,258.65 396.63,258.65 397.01,258.65 397.39,258.65 397.77,258.65 398.16,258.65 398.54,258.65 398.92,258.65 399.30,258.65 399.69,258.65 400.07,258.65 400.45,258.65 400.83,258.65 401.22,258.65 401.60,258.65" fill="none" stroke="#e02028" stroke-width="1.4" stroke-linejoin="round"/>
<path d="M340.40,201.59 L342.32,198.23 L338.48,198.23Z" fill="#6ab04a"/>
<path d="M347.70,204.72 L349.62,201.37 L345.78,201.37Z" fill="#6ab04a"/>
<path d="M355.70,205.98 L357.62,202.62 L353.78,202.62Z" fill="#6ab04a"/>
<path d="M363.00,207.86 L364.92,204.50 L361.08,204.50Z" fill="#6ab04a"/>
<path d="M371.00,226.69 L372.92,223.33 L369.08,223.33Z" fill="#6ab04a"/>
<path d="M378.30,239.86 L380.22,236.50 L376.38,236.50Z" fill="#6ab04a"/>
<path d="M386.30,258.06 L388.22,254.70 L384.38,254.70Z" fill="#6ab04a"/>
<path d="M393.60,264.97 L395.52,261.61 L391.68,261.61Z" fill="#6ab04a"/>
<path d="M401.60,264.97 L403.52,261.61 L399.68,261.61Z" fill="#6ab04a"/>
<path d="M340.40,200.26 L342.32,203.62 L338.48,203.62Z" fill="#2f4a9a"/>
<path d="M347.70,200.89 L349.62,204.25 L345.78,204.25Z" fill="#2f4a9a"/>
<path d="M355.70,201.51 L357.62,204.87 L353.78,204.87Z" fill="#2f4a9a"/>
<path d="M363.00,200.89 L364.92,204.25 L361.08,204.25Z" fill="#2f4a9a"/>
<path d="M386.30,253.60 L388.22,256.96 L384.38,256.96Z" fill="#2f4a9a"/>
<path d="M393.60,254.85 L395.52,258.21 L391.68,258.21Z" fill="#2f4a9a"/>
<path d="M401.60,256.11 L403.52,259.47 L399.68,259.47Z" fill="#2f4a9a"/>
<circle cx="340.40" cy="208.45" r="1.60" fill="#111111"/>
<circle cx="347.70" cy="209.71" r="1.60" fill="#111111"/>
<circle cx="355.70" cy="213.47" r="1.60" fill="#111111"/>
<circle cx="363.00" cy="217.24" r="1.60" fill="#111111"/>
<circle cx="371.00" cy="256.77" r="1.60" fill="#111111"/>
<circle cx="378.30" cy="256.77" r="1.60" fill="#111111"/>
<circle cx="386.30" cy="256.77" r="1.60" fill="#111111"/>
<circle cx="393.60" cy="258.03" r="1.60" fill="#111111"/>
<circle cx="401.60" cy="258.65" r="1.60" fill="#111111"/>
<rect x="338.80" y="204.34" width="3.20" height="3.20" fill="#e02028"/>
<rect x="346.10" y="205.60" width="3.20" height="3.20" fill="#e02028"/>
<rect x="354.10" y="206.85" width="3.20" height="3.20" fill="#e02028"/>
<rect x="361.40" y="208.11" width="3.20" height="3.20" fill="#e02028"/>
<rect x="369.40" y="253.92" width="3.20" height="3.20" fill="#e02028"/>
<rect x="376.70" y="255.80" width="3.20" height="3.20" fill="#e02028"/>
<rect x="384.70" y="255.17" width="3.20" height="3.20" fill="#e02028"/>
<rect x="392.00" y="258.94" width="3.20" height="3.20" fill="#e02028"/>
<rect x="400.00" y="257.68" width="3.20" height="3.20" fill="#e02028"/>
<line x1="333.60" y1="245.80" x2="341.20" y2="245.80" stroke="#111111" stroke-width="1.1"/>
<circle cx="337.40" cy="245.80" r="1.25" fill="#111111"/>
<text class="t" x="343.90" y="247.45" font-size="4.6" text-anchor="start" fill="#222" color="#222">PAR</text>
<line x1="333.60" y1="250.80" x2="341.20" y2="250.80" stroke="#e02028" stroke-width="1.1"/>
<rect x="336.15" y="249.55" width="2.50" height="2.50" fill="#e02028"/>
<text class="t" x="343.90" y="252.45" font-size="4.6" text-anchor="start" fill="#222" color="#222">PAR + R428</text>
<line x1="333.60" y1="255.90" x2="341.20" y2="255.90" stroke="#2f4a9a" stroke-width="1.1"/>
<path d="M337.40,254.40 L338.90,257.02 L335.90,257.02Z" fill="#2f4a9a"/>
<text class="t" x="343.90" y="257.55" font-size="4.6" text-anchor="start" fill="#222" color="#222">MES</text>
<line x1="333.60" y1="260.90" x2="341.20" y2="260.90" stroke="#6ab04a" stroke-width="1.1"/>
<path d="M337.40,262.40 L338.90,259.77 L335.90,259.77Z" fill="#6ab04a"/>
<text class="t" x="343.90" y="262.55" font-size="4.6" text-anchor="start" fill="#222" color="#222">MES+ R428</text>
<line x1="424.10" y1="188.70" x2="424.10" y2="264.70" stroke="#666" stroke-width="0.85"/>
<line x1="423.80" y1="264.40" x2="500.00" y2="264.40" stroke="#666" stroke-width="0.85"/>
<line x1="422.10" y1="264.40" x2="424.10" y2="264.40" stroke="#555" stroke-width="0.6"/>
<text class="t" x="421.70" y="266.19" font-size="5.0" text-anchor="end" fill="#222" color="#222">0</text>
<line x1="422.10" y1="251.87" x2="424.10" y2="251.87" stroke="#555" stroke-width="0.6"/>
<text class="t" x="421.70" y="253.66" font-size="5.0" text-anchor="end" fill="#222" color="#222">20</text>
<line x1="422.10" y1="239.33" x2="424.10" y2="239.33" stroke="#555" stroke-width="0.6"/>
<text class="t" x="421.70" y="241.12" font-size="5.0" text-anchor="end" fill="#222" color="#222">40</text>
<line x1="422.10" y1="226.80" x2="424.10" y2="226.80" stroke="#555" stroke-width="0.6"/>
<text class="t" x="421.70" y="228.59" font-size="5.0" text-anchor="end" fill="#222" color="#222">60</text>
<line x1="422.10" y1="214.27" x2="424.10" y2="214.27" stroke="#555" stroke-width="0.6"/>
<text class="t" x="421.70" y="216.06" font-size="5.0" text-anchor="end" fill="#222" color="#222">80</text>
<line x1="422.10" y1="201.73" x2="424.10" y2="201.73" stroke="#555" stroke-width="0.6"/>
<text class="t" x="421.70" y="203.52" font-size="5.0" text-anchor="end" fill="#222" color="#222">100</text>
<line x1="422.10" y1="189.20" x2="424.10" y2="189.20" stroke="#555" stroke-width="0.6"/>
<text class="t" x="421.70" y="190.99" font-size="5.0" text-anchor="end" fill="#222" color="#222">120</text>
<line x1="430.70" y1="264.40" x2="430.70" y2="266.00" stroke="#555" stroke-width="0.6"/>
<text class="t" x="430.70" y="272.09" font-size="5.0" text-anchor="middle" fill="#222" color="#222">0.001</text>
<line x1="444.40" y1="264.40" x2="444.40" y2="266.00" stroke="#555" stroke-width="0.6"/>
<text class="t" x="444.40" y="272.09" font-size="5.0" text-anchor="middle" fill="#222" color="#222">0.01</text>
<line x1="458.10" y1="264.40" x2="458.10" y2="266.00" stroke="#555" stroke-width="0.6"/>
<text class="t" x="458.10" y="272.09" font-size="5.0" text-anchor="middle" fill="#222" color="#222">0.1</text>
<line x1="471.80" y1="264.40" x2="471.80" y2="266.00" stroke="#555" stroke-width="0.6"/>
<text class="t" x="471.80" y="272.09" font-size="5.0" text-anchor="middle" fill="#222" color="#222">1</text>
<line x1="485.50" y1="264.40" x2="485.50" y2="266.00" stroke="#555" stroke-width="0.6"/>
<text class="t" x="485.50" y="272.09" font-size="5.0" text-anchor="middle" fill="#222" color="#222">10</text>
<line x1="499.20" y1="264.40" x2="499.20" y2="266.00" stroke="#555" stroke-width="0.6"/>
<text class="t" x="499.20" y="272.09" font-size="5.0" text-anchor="middle" fill="#222" color="#222">100</text>
<text class="t" x="459.40" y="189.09" font-size="7.5" text-anchor="middle" fill="#111" color="#111">HCC827</text>
<line x1="445.02" y1="190.20" x2="473.78" y2="190.20" stroke="#111" stroke-width="0.7"/>
<text class="t" x="465.00" y="279.48" font-size="6.1" text-anchor="middle" fill="#222" color="#222">Erlotinib (μmol/L)</text>
<polyline points="430.70,207.37 431.04,207.37 431.38,207.37 431.73,207.37 432.07,207.37 432.41,207.37 432.75,207.37 433.10,207.37 433.44,207.37 433.78,207.38 434.12,207.38 434.47,207.38 434.81,207.38 435.15,207.38 435.50,207.38 435.84,207.38 436.18,207.38 436.52,207.38 436.87,207.38 437.21,207.38 437.55,207.38 437.89,207.38 438.24,207.38 438.58,207.38 438.92,207.38 439.26,207.38 439.60,207.38 439.95,207.38 440.29,207.38 440.63,207.38 440.97,207.38 441.32,207.38 441.66,207.38 442.00,207.38 442.34,207.38 442.69,207.39 443.03,207.39 443.37,207.39 443.71,207.39 444.06,207.39 444.40,207.39 444.74,207.39 445.08,207.39 445.43,207.39 445.77,207.40 446.11,207.40 446.45,207.40 446.80,207.40 447.14,207.40 447.48,207.41 447.82,207.41 448.17,207.41 448.51,207.42 448.85,207.42 449.19,207.42 449.54,207.43 449.88,207.43 450.22,207.43 450.56,207.44 450.91,207.44 451.25,207.45 451.59,207.46 451.94,207.46 452.28,207.47 452.62,207.48 452.96,207.48 453.31,207.49 453.65,207.50 453.99,207.51 454.33,207.52 454.68,207.53 455.02,207.55 455.36,207.56 455.70,207.57 456.04,207.59 456.39,207.61 456.73,207.62 457.07,207.64 457.41,207.66 457.76,207.69 458.10,207.71 458.44,207.73 458.78,207.76 459.13,207.79 459.47,207.82 459.81,207.86 460.15,207.89 460.50,207.93 460.84,207.98 461.18,208.02 461.52,208.07 461.87,208.12 462.21,208.18 462.55,208.24 462.89,208.30 463.24,208.37 463.58,208.44 463.92,208.52 464.26,208.60 464.61,208.69 464.95,208.79 465.29,208.89 465.63,209.00 465.98,209.11 466.32,209.23 466.66,209.36 467.00,209.50 467.35,209.65 467.69,209.80 468.03,209.97 468.38,210.14 468.72,210.32 469.06,210.51 469.40,210.71 469.75,210.93 470.09,211.15 470.43,211.38 470.77,211.63 471.12,211.88 471.46,212.14 471.80,212.42 472.14,212.70 472.49,213.00 472.83,213.30 473.17,213.61 473.51,213.93 473.85,214.26 474.20,214.60 474.54,214.94 474.88,215.29 475.22,215.64 475.57,216.00 475.91,216.36 476.25,216.72 476.59,217.09 476.94,217.45 477.28,217.81 477.62,218.17 477.96,218.53 478.31,218.88 478.65,219.23 478.99,219.57 479.33,219.91 479.68,220.24 480.02,220.56 480.36,220.87 480.70,221.18 481.05,221.47 481.39,221.76 481.73,222.03 482.07,222.29 482.42,222.55 482.76,222.79 483.10,223.02 483.44,223.25 483.79,223.46 484.13,223.66 484.47,223.85 484.81,224.03 485.16,224.21 485.50,224.37" fill="none" stroke="#6ab04a" stroke-width="1.4" stroke-linejoin="round"/>
<polyline points="430.70,207.95 431.04,208.13 431.38,208.33 431.73,208.55 432.07,208.78 432.41,209.04 432.75,209.31 433.10,209.61 433.44,209.93 433.78,210.27 434.12,210.64 434.47,211.03 434.81,211.45 435.15,211.89 435.50,212.36 435.84,212.85 436.18,213.36 436.52,213.89 436.87,214.44 437.21,215.01 437.55,215.59 437.89,216.19 438.24,216.80 438.58,217.41 438.92,218.03 439.26,218.64 439.60,219.26 439.95,219.86 440.29,220.46 440.63,221.04 440.97,221.61 441.32,222.16 441.66,222.70 442.00,223.21 442.34,223.70 442.69,224.16 443.03,224.60 443.37,225.02 443.71,225.41 444.06,225.78 444.40,226.12 444.74,226.44 445.08,226.74 445.43,227.02 445.77,227.27 446.11,227.51 446.45,227.72 446.80,227.92 447.14,228.10 447.48,228.27 447.82,228.43 448.17,228.57 448.51,228.69 448.85,228.81 449.19,228.92 449.54,229.01 449.88,229.10 450.22,229.18 450.56,229.25 450.91,229.32 451.25,229.38 451.59,229.43 451.94,229.48 452.28,229.52 452.62,229.56 452.96,229.60 453.31,229.63 453.65,229.66 453.99,229.69 454.33,229.71 454.68,229.73 455.02,229.75 455.36,229.77 455.70,229.79 456.04,229.80 456.39,229.81 456.73,229.82 457.07,229.84 457.41,229.85 457.76,229.85 458.10,229.86 458.44,229.87 458.78,229.88 459.13,229.88 459.47,229.89 459.81,229.89 460.15,229.89 460.50,229.90 460.84,229.90 461.18,229.91 461.52,229.91 461.87,229.91 462.21,229.91 462.55,229.91 462.89,229.92 463.24,229.92 463.58,229.92 463.92,229.92 464.26,229.92 464.61,229.92 464.95,229.92 465.29,229.93 465.63,229.93 465.98,229.93 466.32,229.93 466.66,229.93 467.00,229.93 467.35,229.93 467.69,229.93 468.03,229.93 468.38,229.93 468.72,229.93 469.06,229.93 469.40,229.93 469.75,229.93 470.09,229.93 470.43,229.93 470.77,229.93 471.12,229.93 471.46,229.93 471.80,229.93 472.14,229.93 472.49,229.93 472.83,229.93 473.17,229.93 473.51,229.93 473.85,229.93 474.20,229.93 474.54,229.93 474.88,229.93 475.22,229.93 475.57,229.93 475.91,229.93 476.25,229.93 476.59,229.93 476.94,229.93 477.28,229.93 477.62,229.93 477.96,229.93 478.31,229.93 478.65,229.93 478.99,229.93 479.33,229.93 479.68,229.93 480.02,229.93 480.36,229.93 480.70,229.93 481.05,229.93 481.39,229.93 481.73,229.93 482.07,229.93 482.42,229.93 482.76,229.93 483.10,229.93 483.44,229.93 483.79,229.93 484.13,229.93 484.47,229.93 484.81,229.93 485.16,229.93 485.50,229.93" fill="none" stroke="#2f4a9a" stroke-width="1.4" stroke-linejoin="round"/>
<polyline points="430.70,201.84 431.04,201.85 431.38,201.86 431.73,201.88 432.07,201.90 432.41,201.92 432.75,201.95 433.10,201.98 433.44,202.01 433.78,202.05 434.12,202.09 434.47,202.14 434.81,202.20 435.15,202.26 435.50,202.33 435.84,202.41 436.18,202.50 436.52,202.60 436.87,202.71 437.21,202.84 437.55,202.99 437.89,203.15 438.24,203.34 438.58,203.55 438.92,203.78 439.26,204.05 439.60,204.35 439.95,204.68 440.29,205.05 440.63,205.47 440.97,205.94 441.32,206.46 441.66,207.03 442.00,207.67 442.34,208.37 442.69,209.15 443.03,210.00 443.37,210.92 443.71,211.93 444.06,213.03 444.40,214.20 444.74,215.46 445.08,216.80 445.43,218.22 445.77,219.71 446.11,221.27 446.45,222.88 446.80,224.55 447.14,226.24 447.48,227.96 447.82,229.68 448.17,231.40 448.51,233.10 448.85,234.77 449.19,236.40 449.54,237.97 449.88,239.47 450.22,240.91 450.56,242.26 450.91,243.54 451.25,244.73 451.59,245.84 451.94,246.87 452.28,247.81 452.62,248.68 452.96,249.46 453.31,250.18 453.65,250.83 453.99,251.42 454.33,251.95 454.68,252.43 455.02,252.85 455.36,253.23 455.70,253.58 456.04,253.88 456.39,254.15 456.73,254.39 457.07,254.61 457.41,254.80 457.76,254.97 458.10,255.12 458.44,255.25 458.78,255.37 459.13,255.47 459.47,255.56 459.81,255.64 460.15,255.72 460.50,255.78 460.84,255.84 461.18,255.88 461.52,255.93 461.87,255.97 462.21,256.00 462.55,256.03 462.89,256.06 463.24,256.08 463.58,256.10 463.92,256.12 464.26,256.13 464.61,256.15 464.95,256.16 465.29,256.17 465.63,256.18 465.98,256.19 466.32,256.20 466.66,256.20 467.00,256.21 467.35,256.22 467.69,256.22 468.03,256.22 468.38,256.23 468.72,256.23 469.06,256.23 469.40,256.24 469.75,256.24 470.09,256.24 470.43,256.24 470.77,256.24 471.12,256.24 471.46,256.25 471.80,256.25 472.14,256.25 472.49,256.25 472.83,256.25 473.17,256.25 473.51,256.25 473.85,256.25 474.20,256.25 474.54,256.25 474.88,256.25 475.22,256.25 475.57,256.25 475.91,256.25 476.25,256.25 476.59,256.25 476.94,256.25 477.28,256.25 477.62,256.25 477.96,256.25 478.31,256.25 478.65,256.25 478.99,256.25 479.33,256.25 479.68,256.25 480.02,256.25 480.36,256.25 480.70,256.25 481.05,256.25 481.39,256.25 481.73,256.25 482.07,256.25 482.42,256.25 482.76,256.25 483.10,256.25 483.44,256.25 483.79,256.25 484.13,256.25 484.47,256.25 484.81,256.25 485.16,256.25 485.50,256.25" fill="none" stroke="#111111" stroke-width="1.4" stroke-linejoin="round"/>
<polyline points="430.70,205.84 431.04,206.06 431.38,206.30 431.73,206.56 432.07,206.84 432.41,207.15 432.75,207.49 433.10,207.86 433.44,208.26 433.78,208.69 434.12,209.16 434.47,209.66 434.81,210.21 435.15,210.79 435.50,211.42 435.84,212.10 436.18,212.82 436.52,213.59 436.87,214.41 437.21,215.27 437.55,216.19 437.89,217.15 438.24,218.16 438.58,219.22 438.92,220.32 439.26,221.47 439.60,222.64 439.95,223.86 440.29,225.10 440.63,226.37 440.97,227.65 441.32,228.94 441.66,230.25 442.00,231.55 442.34,232.84 442.69,234.13 443.03,235.39 443.37,236.64 443.71,237.85 444.06,239.03 444.40,240.17 444.74,241.27 445.08,242.33 445.43,243.34 445.77,244.31 446.11,245.22 446.45,246.09 446.80,246.91 447.14,247.67 447.48,248.40 447.82,249.07 448.17,249.70 448.51,250.29 448.85,250.83 449.19,251.34 449.54,251.80 449.88,252.24 450.22,252.63 450.56,253.00 450.91,253.34 451.25,253.65 451.59,253.93 451.94,254.19 452.28,254.43 452.62,254.65 452.96,254.85 453.31,255.03 453.65,255.20 453.99,255.35 454.33,255.49 454.68,255.62 455.02,255.73 455.36,255.84 455.70,255.93 456.04,256.02 456.39,256.10 456.73,256.17 457.07,256.24 457.41,256.30 457.76,256.35 458.10,256.40 458.44,256.44 458.78,256.48 459.13,256.52 459.47,256.55 459.81,256.58 460.15,256.61 460.50,256.64 460.84,256.66 461.18,256.68 461.52,256.70 461.87,256.71 462.21,256.73 462.55,256.74 462.89,256.76 463.24,256.77 463.58,256.78 463.92,256.79 464.26,256.80 464.61,256.80 464.95,256.81 465.29,256.82 465.63,256.82 465.98,256.83 466.32,256.83 466.66,256.84 467.00,256.84 467.35,256.85 467.69,256.85 468.03,256.85 468.38,256.85 468.72,256.86 469.06,256.86 469.40,256.86 469.75,256.86 470.09,256.86 470.43,256.87 470.77,256.87 471.12,256.87 471.46,256.87 471.80,256.87 472.14,256.87 472.49,256.87 472.83,256.87 473.17,256.87 473.51,256.87 473.85,256.87 474.20,256.88 474.54,256.88 474.88,256.88 475.22,256.88 475.57,256.88 475.91,256.88 476.25,256.88 476.59,256.88 476.94,256.88 477.28,256.88 477.62,256.88 477.96,256.88 478.31,256.88 478.65,256.88 478.99,256.88 479.33,256.88 479.68,256.88 480.02,256.88 480.36,256.88 480.70,256.88 481.05,256.88 481.39,256.88 481.73,256.88 482.07,256.88 482.42,256.88 482.76,256.88 483.10,256.88 483.44,256.88 483.79,256.88 484.13,256.88 484.47,256.88 484.81,256.88 485.16,256.88 485.50,256.88" fill="none" stroke="#e02028" stroke-width="1.4" stroke-linejoin="round"/>
<line x1="430.70" y1="197.97" x2="430.70" y2="192.96" stroke="#6ab04a" stroke-width="0.5"/>
<line x1="429.70" y1="192.96" x2="431.70" y2="192.96" stroke="#6ab04a" stroke-width="0.5"/>
<line x1="429.70" y1="197.97" x2="431.70" y2="197.97" stroke="#6ab04a" stroke-width="0.5"/>
<path d="M430.70,197.39 L432.62,194.03 L428.78,194.03Z" fill="#6ab04a"/>
<path d="M437.24,209.92 L439.16,206.56 L435.32,206.56Z" fill="#6ab04a"/>
<path d="M444.40,210.55 L446.32,207.19 L442.48,207.19Z" fill="#6ab04a"/>
<line x1="450.94" y1="215.52" x2="450.94" y2="211.76" stroke="#6ab04a" stroke-width="0.5"/>
<line x1="449.94" y1="211.76" x2="451.94" y2="211.76" stroke="#6ab04a" stroke-width="0.5"/>
<line x1="449.94" y1="215.52" x2="451.94" y2="215.52" stroke="#6ab04a" stroke-width="0.5"/>
<path d="M450.94,215.56 L452.86,212.20 L449.02,212.20Z" fill="#6ab04a"/>
<path d="M458.10,216.19 L460.02,212.83 L456.18,212.83Z" fill="#6ab04a"/>
<path d="M464.64,214.31 L466.56,210.95 L462.72,210.95Z" fill="#6ab04a"/>
<path d="M471.80,213.68 L473.72,210.32 L469.88,210.32Z" fill="#6ab04a"/>
<path d="M478.34,224.33 L480.26,220.97 L476.42,220.97Z" fill="#6ab04a"/>
<line x1="485.50" y1="226.80" x2="485.50" y2="224.29" stroke="#6ab04a" stroke-width="0.5"/>
<line x1="484.50" y1="224.29" x2="486.50" y2="224.29" stroke="#6ab04a" stroke-width="0.5"/>
<line x1="484.50" y1="226.80" x2="486.50" y2="226.80" stroke="#6ab04a" stroke-width="0.5"/>
<path d="M485.50,227.47 L487.42,224.11 L483.58,224.11Z" fill="#6ab04a"/>
<path d="M430.70,209.84 L432.62,213.20 L428.78,213.20Z" fill="#2f4a9a"/>
<path d="M437.24,216.11 L439.16,219.47 L435.32,219.47Z" fill="#2f4a9a"/>
<path d="M444.40,223.63 L446.32,226.99 L442.48,226.99Z" fill="#2f4a9a"/>
<path d="M450.94,228.01 L452.86,231.37 L449.02,231.37Z" fill="#2f4a9a"/>
<path d="M458.10,228.01 L460.02,231.37 L456.18,231.37Z" fill="#2f4a9a"/>
<path d="M464.64,228.01 L466.56,231.37 L462.72,231.37Z" fill="#2f4a9a"/>
<line x1="471.80" y1="226.80" x2="471.80" y2="224.29" stroke="#2f4a9a" stroke-width="0.5"/>
<line x1="470.80" y1="224.29" x2="472.80" y2="224.29" stroke="#2f4a9a" stroke-width="0.5"/>
<line x1="470.80" y1="226.80" x2="472.80" y2="226.80" stroke="#2f4a9a" stroke-width="0.5"/>
<path d="M471.80,223.63 L473.72,226.99 L469.88,226.99Z" fill="#2f4a9a"/>
<path d="M478.34,234.28 L480.26,237.64 L476.42,237.64Z" fill="#2f4a9a"/>
<path d="M485.50,238.67 L487.42,242.03 L483.58,242.03Z" fill="#2f4a9a"/>
<circle cx="430.70" cy="202.36" r="1.60" fill="#111111"/>
<circle cx="437.24" cy="204.87" r="1.60" fill="#111111"/>
<circle cx="444.40" cy="211.13" r="1.60" fill="#111111"/>
<circle cx="450.94" cy="255.63" r="1.60" fill="#111111"/>
<circle cx="458.10" cy="255.63" r="1.60" fill="#111111"/>
<circle cx="464.64" cy="256.25" r="1.60" fill="#111111"/>
<circle cx="471.80" cy="256.25" r="1.60" fill="#111111"/>
<circle cx="478.34" cy="258.13" r="1.60" fill="#111111"/>
<circle cx="485.50" cy="258.13" r="1.60" fill="#111111"/>
<rect x="429.10" y="204.52" width="3.20" height="3.20" fill="#e02028"/>
<line x1="437.24" y1="232.44" x2="437.24" y2="227.43" stroke="#e02028" stroke-width="0.5"/>
<line x1="436.24" y1="227.43" x2="438.24" y2="227.43" stroke="#e02028" stroke-width="0.5"/>
<line x1="436.24" y1="232.44" x2="438.24" y2="232.44" stroke="#e02028" stroke-width="0.5"/>
<rect x="435.64" y="228.33" width="3.20" height="3.20" fill="#e02028"/>
<line x1="444.40" y1="242.47" x2="444.40" y2="238.71" stroke="#e02028" stroke-width="0.5"/>
<line x1="443.40" y1="238.71" x2="445.40" y2="238.71" stroke="#e02028" stroke-width="0.5"/>
<line x1="443.40" y1="242.47" x2="445.40" y2="242.47" stroke="#e02028" stroke-width="0.5"/>
<rect x="442.80" y="238.99" width="3.20" height="3.20" fill="#e02028"/>
<rect x="449.34" y="254.03" width="3.20" height="3.20" fill="#e02028"/>
<rect x="456.50" y="254.03" width="3.20" height="3.20" fill="#e02028"/>
<rect x="463.04" y="254.03" width="3.20" height="3.20" fill="#e02028"/>
<rect x="470.20" y="254.65" width="3.20" height="3.20" fill="#e02028"/>
<rect x="476.74" y="257.79" width="3.20" height="3.20" fill="#e02028"/>
<rect x="483.90" y="259.04" width="3.20" height="3.20" fill="#e02028"/>
<line x1="335.80" y1="302.10" x2="335.80" y2="378.10" stroke="#666" stroke-width="0.85"/>
<line x1="335.50" y1="377.80" x2="412.00" y2="377.80" stroke="#666" stroke-width="0.85"/>
<line x1="333.80" y1="377.80" x2="335.80" y2="377.80" stroke="#555" stroke-width="0.6"/>
<text class="t" x="333.40" y="379.59" font-size="5.0" text-anchor="end" fill="#222" color="#222">0</text>
<line x1="333.80" y1="368.40" x2="335.80" y2="368.40" stroke="#555" stroke-width="0.6"/>
<text class="t" x="333.40" y="370.19" font-size="5.0" text-anchor="end" fill="#222" color="#222">20</text>
<line x1="333.80" y1="359.00" x2="335.80" y2="359.00" stroke="#555" stroke-width="0.6"/>
<text class="t" x="333.40" y="360.79" font-size="5.0" text-anchor="end" fill="#222" color="#222">40</text>
<line x1="333.80" y1="349.60" x2="335.80" y2="349.60" stroke="#555" stroke-width="0.6"/>
<text class="t" x="333.40" y="351.39" font-size="5.0" text-anchor="end" fill="#222" color="#222">60</text>
<line x1="333.80" y1="340.20" x2="335.80" y2="340.20" stroke="#555" stroke-width="0.6"/>
<text class="t" x="333.40" y="341.99" font-size="5.0" text-anchor="end" fill="#222" color="#222">80</text>
<line x1="333.80" y1="330.80" x2="335.80" y2="330.80" stroke="#555" stroke-width="0.6"/>
<text class="t" x="333.40" y="332.59" font-size="5.0" text-anchor="end" fill="#222" color="#222">100</text>
<line x1="333.80" y1="321.40" x2="335.80" y2="321.40" stroke="#555" stroke-width="0.6"/>
<text class="t" x="333.40" y="323.19" font-size="5.0" text-anchor="end" fill="#222" color="#222">120</text>
<line x1="333.80" y1="312.00" x2="335.80" y2="312.00" stroke="#555" stroke-width="0.6"/>
<text class="t" x="333.40" y="313.79" font-size="5.0" text-anchor="end" fill="#222" color="#222">140</text>
<line x1="333.80" y1="302.60" x2="335.80" y2="302.60" stroke="#555" stroke-width="0.6"/>
<text class="t" x="333.40" y="304.39" font-size="5.0" text-anchor="end" fill="#222" color="#222">160</text>
<line x1="342.60" y1="377.80" x2="342.60" y2="379.40" stroke="#555" stroke-width="0.6"/>
<text class="t" x="342.60" y="385.49" font-size="5.0" text-anchor="middle" fill="#222" color="#222">0.001</text>
<line x1="356.40" y1="377.80" x2="356.40" y2="379.40" stroke="#555" stroke-width="0.6"/>
<text class="t" x="356.40" y="385.49" font-size="5.0" text-anchor="middle" fill="#222" color="#222">0.01</text>
<line x1="370.20" y1="377.80" x2="370.20" y2="379.40" stroke="#555" stroke-width="0.6"/>
<text class="t" x="370.20" y="385.49" font-size="5.0" text-anchor="middle" fill="#222" color="#222">0.1</text>
<line x1="384.00" y1="377.80" x2="384.00" y2="379.40" stroke="#555" stroke-width="0.6"/>
<text class="t" x="384.00" y="385.49" font-size="5.0" text-anchor="middle" fill="#222" color="#222">1</text>
<line x1="397.80" y1="377.80" x2="397.80" y2="379.40" stroke="#555" stroke-width="0.6"/>
<text class="t" x="397.80" y="385.49" font-size="5.0" text-anchor="middle" fill="#222" color="#222">10</text>
<line x1="411.60" y1="377.80" x2="411.60" y2="379.40" stroke="#555" stroke-width="0.6"/>
<text class="t" x="411.60" y="385.49" font-size="5.0" text-anchor="middle" fill="#222" color="#222">100</text>
<text class="t" x="371.70" y="298.22" font-size="7.6" text-anchor="middle" fill="#111" color="#111">HCC4006</text>
<line x1="355.01" y1="299.90" x2="388.39" y2="299.90" stroke="#111" stroke-width="0.7"/>
<text class="t" color="#111" transform="translate(315.40,342.60) rotate(-90)" x="0" y="2.27" font-size="6.3" text-anchor="middle" fill="#111">% Cell viability</text>
<text class="t" x="374.00" y="393.58" font-size="6.1" text-anchor="middle" fill="#222" color="#222">Erlotinib (μmol/L)</text>
<path d="M342.60,316.23 L389.93,316.23 L389.93,334.56 L397.80,334.56" fill="none" stroke="#6ab04a" stroke-width="1.4"/>
<path d="M342.60,322.34 L389.93,322.34 L389.93,335.03 L397.80,335.03" fill="none" stroke="#2f4a9a" stroke-width="1.4"/>
<path d="M342.60,327.51 L369.23,327.51 L369.23,359.47 L397.80,359.47" fill="none" stroke="#111111" stroke-width="1.4"/>
<polyline points="342.60,326.10 342.94,326.10 343.29,326.10 343.64,326.10 343.98,326.10 344.33,326.10 344.67,326.10 345.02,326.10 345.36,326.10 345.71,326.10 346.05,326.10 346.40,326.10 346.74,326.10 347.09,326.10 347.43,326.10 347.78,326.10 348.12,326.10 348.47,326.10 348.81,326.10 349.16,326.10 349.50,326.10 349.85,326.10 350.19,326.10 350.54,326.10 350.88,326.10 351.23,326.11 351.57,326.11 351.92,326.11 352.26,326.11 352.61,326.11 352.95,326.11 353.30,326.11 353.64,326.11 353.99,326.12 354.33,326.12 354.68,326.12 355.02,326.13 355.37,326.13 355.71,326.14 356.06,326.14 356.40,326.15 356.75,326.16 357.09,326.17 357.44,326.18 357.78,326.19 358.12,326.20 358.47,326.22 358.81,326.24 359.16,326.26 359.50,326.29 359.85,326.32 360.20,326.35 360.54,326.39 360.89,326.44 361.23,326.49 361.58,326.55 361.92,326.63 362.27,326.71 362.61,326.81 362.96,326.92 363.30,327.04 363.65,327.19 363.99,327.36 364.34,327.56 364.68,327.78 365.03,328.04 365.37,328.33 365.72,328.67 366.06,329.05 366.41,329.48 366.75,329.96 367.10,330.51 367.44,331.12 367.79,331.80 368.13,332.55 368.48,333.37 368.82,334.28 369.17,335.25 369.51,336.30 369.86,337.42 370.20,338.60 370.55,339.83 370.89,341.11 371.24,342.41 371.58,343.73 371.93,345.04 372.27,346.34 372.62,347.62 372.96,348.85 373.31,350.03 373.65,351.15 374.00,352.20 374.34,353.17 374.69,354.08 375.03,354.90 375.38,355.65 375.72,356.33 376.06,356.94 376.41,357.49 376.75,357.97 377.10,358.40 377.45,358.78 377.79,359.12 378.14,359.41 378.48,359.67 378.83,359.89 379.17,360.09 379.52,360.26 379.86,360.41 380.21,360.53 380.55,360.64 380.90,360.74 381.24,360.82 381.59,360.90 381.93,360.96 382.28,361.01 382.62,361.06 382.97,361.10 383.31,361.13 383.66,361.16 384.00,361.19 384.35,361.21 384.69,361.23 385.04,361.25 385.38,361.26 385.73,361.27 386.07,361.28 386.42,361.29 386.76,361.30 387.11,361.31 387.45,361.31 387.80,361.32 388.14,361.32 388.49,361.33 388.83,361.33 389.18,361.33 389.52,361.34 389.87,361.34 390.21,361.34 390.56,361.34 390.90,361.34 391.25,361.34 391.59,361.34 391.94,361.34 392.28,361.35 392.62,361.35 392.97,361.35 393.32,361.35 393.66,361.35 394.00,361.35 394.35,361.35 394.70,361.35 395.04,361.35 395.39,361.35 395.73,361.35 396.08,361.35 396.42,361.35 396.77,361.35 397.11,361.35 397.46,361.35 397.80,361.35" fill="none" stroke="#e02028" stroke-width="1.4" stroke-linejoin="round"/>
<line x1="342.60" y1="314.82" x2="342.60" y2="311.06" stroke="#6ab04a" stroke-width="0.5"/>
<line x1="341.60" y1="311.06" x2="343.60" y2="311.06" stroke="#6ab04a" stroke-width="0.5"/>
<line x1="341.60" y1="314.82" x2="343.60" y2="314.82" stroke="#6ab04a" stroke-width="0.5"/>
<path d="M342.60,310.86 L344.36,312.94 L342.60,315.02 L340.84,312.94Z" fill="#6ab04a"/>
<path d="M349.18,316.50 L350.94,318.58 L349.18,320.66 L347.42,318.58Z" fill="#6ab04a"/>
<line x1="356.40" y1="310.59" x2="356.40" y2="305.89" stroke="#6ab04a" stroke-width="0.5"/>
<line x1="355.40" y1="305.89" x2="357.40" y2="305.89" stroke="#6ab04a" stroke-width="0.5"/>
<line x1="355.40" y1="310.59" x2="357.40" y2="310.59" stroke="#6ab04a" stroke-width="0.5"/>
<path d="M356.40,306.16 L358.16,308.24 L356.40,310.32 L354.64,308.24Z" fill="#6ab04a"/>
<line x1="362.98" y1="321.40" x2="362.98" y2="317.64" stroke="#6ab04a" stroke-width="0.5"/>
<line x1="361.98" y1="317.64" x2="363.98" y2="317.64" stroke="#6ab04a" stroke-width="0.5"/>
<line x1="361.98" y1="321.40" x2="363.98" y2="321.40" stroke="#6ab04a" stroke-width="0.5"/>
<path d="M362.98,317.44 L364.74,319.52 L362.98,321.60 L361.22,319.52Z" fill="#6ab04a"/>
<line x1="370.20" y1="318.11" x2="370.20" y2="314.35" stroke="#6ab04a" stroke-width="0.5"/>
<line x1="369.20" y1="314.35" x2="371.20" y2="314.35" stroke="#6ab04a" stroke-width="0.5"/>
<line x1="369.20" y1="318.11" x2="371.20" y2="318.11" stroke="#6ab04a" stroke-width="0.5"/>
<path d="M370.20,314.15 L371.96,316.23 L370.20,318.31 L368.44,316.23Z" fill="#6ab04a"/>
<path d="M376.78,318.38 L378.54,320.46 L376.78,322.54 L375.02,320.46Z" fill="#6ab04a"/>
<line x1="384.00" y1="313.88" x2="384.00" y2="310.12" stroke="#6ab04a" stroke-width="0.5"/>
<line x1="383.00" y1="310.12" x2="385.00" y2="310.12" stroke="#6ab04a" stroke-width="0.5"/>
<line x1="383.00" y1="313.88" x2="385.00" y2="313.88" stroke="#6ab04a" stroke-width="0.5"/>
<path d="M384.00,309.92 L385.76,312.00 L384.00,314.08 L382.24,312.00Z" fill="#6ab04a"/>
<line x1="390.58" y1="334.56" x2="390.58" y2="330.80" stroke="#6ab04a" stroke-width="0.5"/>
<line x1="389.58" y1="330.80" x2="391.58" y2="330.80" stroke="#6ab04a" stroke-width="0.5"/>
<line x1="389.58" y1="334.56" x2="391.58" y2="334.56" stroke="#6ab04a" stroke-width="0.5"/>
<path d="M390.58,330.60 L392.34,332.68 L390.58,334.76 L388.82,332.68Z" fill="#6ab04a"/>
<line x1="397.80" y1="337.38" x2="397.80" y2="333.62" stroke="#6ab04a" stroke-width="0.5"/>
<line x1="396.80" y1="333.62" x2="398.80" y2="333.62" stroke="#6ab04a" stroke-width="0.5"/>
<line x1="396.80" y1="337.38" x2="398.80" y2="337.38" stroke="#6ab04a" stroke-width="0.5"/>
<path d="M397.80,333.42 L399.56,335.50 L397.80,337.58 L396.04,335.50Z" fill="#6ab04a"/>
<path d="M342.60,321.83 L344.52,325.19 L340.68,325.19Z" fill="#2f4a9a"/>
<path d="M349.18,322.77 L351.10,326.13 L347.26,326.13Z" fill="#2f4a9a"/>
<path d="M356.40,323.24 L358.32,326.60 L354.48,326.60Z" fill="#2f4a9a"/>
<path d="M362.98,320.89 L364.90,324.25 L361.06,324.25Z" fill="#2f4a9a"/>
<path d="M370.20,317.60 L372.12,320.96 L368.28,320.96Z" fill="#2f4a9a"/>
<line x1="376.78" y1="323.28" x2="376.78" y2="318.58" stroke="#2f4a9a" stroke-width="0.5"/>
<line x1="375.78" y1="318.58" x2="377.78" y2="318.58" stroke="#2f4a9a" stroke-width="0.5"/>
<line x1="375.78" y1="323.28" x2="377.78" y2="323.28" stroke="#2f4a9a" stroke-width="0.5"/>
<path d="M376.78,319.01 L378.70,322.37 L374.86,322.37Z" fill="#2f4a9a"/>
<path d="M384.00,314.78 L385.92,318.14 L382.08,318.14Z" fill="#2f4a9a"/>
<circle cx="342.60" cy="327.04" r="1.60" fill="#111111"/>
<circle cx="349.18" cy="326.10" r="1.60" fill="#111111"/>
<circle cx="356.40" cy="327.04" r="1.60" fill="#111111"/>
<circle cx="362.98" cy="327.04" r="1.60" fill="#111111"/>
<circle cx="376.78" cy="358.06" r="1.60" fill="#111111"/>
<circle cx="384.00" cy="359.00" r="1.60" fill="#111111"/>
<circle cx="390.58" cy="359.00" r="1.60" fill="#111111"/>
<circle cx="397.80" cy="359.94" r="1.60" fill="#111111"/>
<rect x="341.00" y="328.26" width="3.20" height="3.20" fill="#e02028"/>
<rect x="347.58" y="324.50" width="3.20" height="3.20" fill="#e02028"/>
<rect x="354.80" y="324.50" width="3.20" height="3.20" fill="#e02028"/>
<rect x="361.38" y="324.50" width="3.20" height="3.20" fill="#e02028"/>
<rect x="368.60" y="340.95" width="3.20" height="3.20" fill="#e02028"/>
<rect x="375.18" y="355.05" width="3.20" height="3.20" fill="#e02028"/>
<rect x="382.40" y="357.87" width="3.20" height="3.20" fill="#e02028"/>
<rect x="388.98" y="358.34" width="3.20" height="3.20" fill="#e02028"/>
<rect x="396.20" y="365.86" width="3.20" height="3.20" fill="#e02028"/>
<line x1="337.00" y1="357.30" x2="344.80" y2="357.30" stroke="#111111" stroke-width="1.1"/>
<circle cx="340.90" cy="357.30" r="1.25" fill="#111111"/>
<text class="t" x="348.00" y="359.05" font-size="4.9" text-anchor="start" fill="#222" color="#222">PAR</text>
<line x1="337.00" y1="363.30" x2="344.80" y2="363.30" stroke="#e02028" stroke-width="1.1"/>
<rect x="339.65" y="362.05" width="2.50" height="2.50" fill="#e02028"/>
<text class="t" x="348.00" y="365.05" font-size="4.9" text-anchor="start" fill="#222" color="#222">PAR + R428</text>
<line x1="337.00" y1="369.10" x2="344.80" y2="369.10" stroke="#2f4a9a" stroke-width="1.1"/>
<path d="M340.90,367.60 L342.40,370.23 L339.40,370.23Z" fill="#2f4a9a"/>
<text class="t" x="348.00" y="370.85" font-size="4.9" text-anchor="start" fill="#222" color="#222">ERL-R</text>
<line x1="337.00" y1="374.30" x2="344.80" y2="374.30" stroke="#6ab04a" stroke-width="1.1"/>
<path d="M340.90,372.68 L342.27,374.30 L340.90,375.93 L339.52,374.30Z" fill="#6ab04a"/>
<text class="t" x="348.00" y="376.05" font-size="4.9" text-anchor="start" fill="#222" color="#222">ERL-R + R428</text>
<line x1="427.50" y1="301.60" x2="427.50" y2="378.10" stroke="#666" stroke-width="0.85"/>
<line x1="427.20" y1="377.80" x2="503.00" y2="377.80" stroke="#666" stroke-width="0.85"/>
<line x1="425.50" y1="377.80" x2="427.50" y2="377.80" stroke="#555" stroke-width="0.6"/>
<text class="t" x="425.10" y="379.59" font-size="5.0" text-anchor="end" fill="#222" color="#222">0</text>
<line x1="425.50" y1="366.99" x2="427.50" y2="366.99" stroke="#555" stroke-width="0.6"/>
<text class="t" x="425.10" y="368.78" font-size="5.0" text-anchor="end" fill="#222" color="#222">20</text>
<line x1="425.50" y1="356.17" x2="427.50" y2="356.17" stroke="#555" stroke-width="0.6"/>
<text class="t" x="425.10" y="357.96" font-size="5.0" text-anchor="end" fill="#222" color="#222">40</text>
<line x1="425.50" y1="345.36" x2="427.50" y2="345.36" stroke="#555" stroke-width="0.6"/>
<text class="t" x="425.10" y="347.15" font-size="5.0" text-anchor="end" fill="#222" color="#222">60</text>
<line x1="425.50" y1="334.54" x2="427.50" y2="334.54" stroke="#555" stroke-width="0.6"/>
<text class="t" x="425.10" y="336.33" font-size="5.0" text-anchor="end" fill="#222" color="#222">80</text>
<line x1="425.50" y1="323.73" x2="427.50" y2="323.73" stroke="#555" stroke-width="0.6"/>
<text class="t" x="425.10" y="325.52" font-size="5.0" text-anchor="end" fill="#222" color="#222">100</text>
<line x1="425.50" y1="312.91" x2="427.50" y2="312.91" stroke="#555" stroke-width="0.6"/>
<text class="t" x="425.10" y="314.70" font-size="5.0" text-anchor="end" fill="#222" color="#222">120</text>
<line x1="425.50" y1="302.10" x2="427.50" y2="302.10" stroke="#555" stroke-width="0.6"/>
<text class="t" x="425.10" y="303.89" font-size="5.0" text-anchor="end" fill="#222" color="#222">140</text>
<line x1="434.80" y1="377.80" x2="434.80" y2="379.40" stroke="#555" stroke-width="0.6"/>
<text class="t" x="434.80" y="385.49" font-size="5.0" text-anchor="middle" fill="#222" color="#222">0.001</text>
<line x1="448.20" y1="377.80" x2="448.20" y2="379.40" stroke="#555" stroke-width="0.6"/>
<text class="t" x="448.20" y="385.49" font-size="5.0" text-anchor="middle" fill="#222" color="#222">0.01</text>
<line x1="461.60" y1="377.80" x2="461.60" y2="379.40" stroke="#555" stroke-width="0.6"/>
<text class="t" x="461.60" y="385.49" font-size="5.0" text-anchor="middle" fill="#222" color="#222">0.1</text>
<line x1="475.00" y1="377.80" x2="475.00" y2="379.40" stroke="#555" stroke-width="0.6"/>
<text class="t" x="475.00" y="385.49" font-size="5.0" text-anchor="middle" fill="#222" color="#222">1</text>
<line x1="488.40" y1="377.80" x2="488.40" y2="379.40" stroke="#555" stroke-width="0.6"/>
<text class="t" x="488.40" y="385.49" font-size="5.0" text-anchor="middle" fill="#222" color="#222">10</text>
<line x1="501.80" y1="377.80" x2="501.80" y2="379.40" stroke="#555" stroke-width="0.6"/>
<text class="t" x="501.80" y="385.49" font-size="5.0" text-anchor="middle" fill="#222" color="#222">100</text>
<text class="t" x="462.30" y="298.22" font-size="7.6" text-anchor="middle" fill="#111" color="#111">HCC827</text>
<line x1="447.73" y1="299.90" x2="476.87" y2="299.90" stroke="#111" stroke-width="0.7"/>
<text class="t" x="465.00" y="393.78" font-size="6.1" text-anchor="middle" fill="#222" color="#222">Erlotinib (μmol/L)</text>
<polyline points="434.80,318.32 435.13,318.32 435.47,318.32 435.81,318.32 436.14,318.32 436.48,318.32 436.81,318.32 437.14,318.32 437.48,318.32 437.81,318.32 438.15,318.32 438.49,318.32 438.82,318.32 439.16,318.32 439.49,318.32 439.82,318.32 440.16,318.32 440.50,318.32 440.83,318.32 441.17,318.32 441.50,318.32 441.84,318.32 442.17,318.32 442.50,318.32 442.84,318.32 443.18,318.32 443.51,318.32 443.85,318.32 444.18,318.32 444.51,318.32 444.85,318.32 445.19,318.32 445.52,318.32 445.86,318.32 446.19,318.32 446.53,318.32 446.86,318.32 447.19,318.32 447.53,318.32 447.87,318.32 448.20,318.32 448.54,318.32 448.87,318.32 449.20,318.32 449.54,318.32 449.88,318.32 450.21,318.32 450.55,318.32 450.88,318.32 451.22,318.32 451.55,318.32 451.88,318.33 452.22,318.33 452.56,318.33 452.89,318.33 453.23,318.33 453.56,318.33 453.90,318.33 454.23,318.33 454.56,318.33 454.90,318.33 455.24,318.33 455.57,318.33 455.91,318.33 456.24,318.33 456.57,318.33 456.91,318.33 457.25,318.33 457.58,318.33 457.92,318.34 458.25,318.34 458.59,318.34 458.92,318.34 459.25,318.34 459.59,318.34 459.93,318.34 460.26,318.35 460.60,318.35 460.93,318.35 461.26,318.35 461.60,318.35 461.94,318.36 462.27,318.36 462.61,318.36 462.94,318.37 463.28,318.37 463.61,318.37 463.94,318.38 464.28,318.38 464.62,318.39 464.95,318.39 465.29,318.40 465.62,318.40 465.96,318.41 466.29,318.42 466.62,318.42 466.96,318.43 467.30,318.44 467.63,318.45 467.97,318.46 468.30,318.47 468.63,318.48 468.97,318.49 469.31,318.51 469.64,318.52 469.98,318.54 470.31,318.56 470.64,318.57 470.98,318.59 471.31,318.62 471.65,318.64 471.99,318.66 472.32,318.69 472.66,318.72 472.99,318.75 473.32,318.78 473.66,318.82 474.00,318.86 474.33,318.90 474.67,318.95 475.00,319.00 475.34,319.05 475.67,319.11 476.00,319.17 476.34,319.23 476.68,319.30 477.01,319.38 477.35,319.46 477.68,319.55 478.01,319.64 478.35,319.75 478.69,319.85 479.02,319.97 479.36,320.10 479.69,320.23 480.03,320.38 480.36,320.54 480.69,320.70 481.03,320.88 481.37,321.08 481.70,321.28 482.04,321.51 482.37,321.74 482.71,322.00 483.04,322.27 483.38,322.56 483.71,322.87 484.05,323.19 484.38,323.55 484.72,323.92 485.05,324.32 485.38,324.74 485.72,325.19 486.06,325.66 486.39,326.17 486.73,326.70 487.06,327.26 487.39,327.85 487.73,328.48 488.06,329.13 488.40,329.82" fill="none" stroke="#2f4a9a" stroke-width="1.4" stroke-linejoin="round"/>
<polyline points="434.80,318.32 435.13,318.32 435.47,318.32 435.81,318.32 436.14,318.32 436.48,318.32 436.81,318.32 437.14,318.32 437.48,318.32 437.81,318.32 438.15,318.32 438.49,318.32 438.82,318.32 439.16,318.32 439.49,318.32 439.82,318.32 440.16,318.32 440.50,318.32 440.83,318.32 441.17,318.32 441.50,318.32 441.84,318.32 442.17,318.32 442.50,318.32 442.84,318.32 443.18,318.32 443.51,318.32 443.85,318.32 444.18,318.32 444.51,318.33 444.85,318.33 445.19,318.33 445.52,318.33 445.86,318.33 446.19,318.33 446.53,318.33 446.86,318.33 447.19,318.33 447.53,318.33 447.87,318.33 448.20,318.33 448.54,318.33 448.87,318.33 449.20,318.33 449.54,318.33 449.88,318.33 450.21,318.33 450.55,318.33 450.88,318.33 451.22,318.34 451.55,318.34 451.88,318.34 452.22,318.34 452.56,318.34 452.89,318.34 453.23,318.34 453.56,318.34 453.90,318.35 454.23,318.35 454.56,318.35 454.90,318.35 455.24,318.35 455.57,318.35 455.91,318.36 456.24,318.36 456.57,318.36 456.91,318.36 457.25,318.37 457.58,318.37 457.92,318.37 458.25,318.38 458.59,318.38 458.92,318.39 459.25,318.39 459.59,318.40 459.93,318.40 460.26,318.41 460.60,318.41 460.93,318.42 461.26,318.43 461.60,318.43 461.94,318.44 462.27,318.45 462.61,318.46 462.94,318.47 463.28,318.48 463.61,318.49 463.94,318.50 464.28,318.51 464.62,318.53 464.95,318.54 465.29,318.55 465.62,318.57 465.96,318.59 466.29,318.61 466.62,318.63 466.96,318.65 467.30,318.67 467.63,318.69 467.97,318.72 468.30,318.75 468.63,318.78 468.97,318.81 469.31,318.84 469.64,318.88 469.98,318.92 470.31,318.96 470.64,319.00 470.98,319.05 471.31,319.10 471.65,319.15 471.99,319.21 472.32,319.27 472.66,319.34 472.99,319.40 473.32,319.48 473.66,319.56 474.00,319.64 474.33,319.73 474.67,319.83 475.00,319.93 475.34,320.04 475.67,320.15 476.00,320.28 476.34,320.41 476.68,320.55 477.01,320.70 477.35,320.86 477.68,321.03 478.01,321.20 478.35,321.40 478.69,321.60 479.02,321.81 479.36,322.04 479.69,322.28 480.03,322.54 480.36,322.81 480.69,323.10 481.03,323.40 481.37,323.72 481.70,324.06 482.04,324.42 482.37,324.80 482.71,325.20 483.04,325.62 483.38,326.06 483.71,326.53 484.05,327.02 484.38,327.53 484.72,328.07 485.05,328.63 485.38,329.21 485.72,329.83 486.06,330.46 486.39,331.13 486.73,331.82 487.06,332.53 487.39,333.28 487.73,334.04 488.06,334.83 488.40,335.65" fill="none" stroke="#6ab04a" stroke-width="1.4" stroke-linejoin="round"/>
<polyline points="434.80,321.94 435.13,321.98 435.47,322.03 435.81,322.08 436.14,322.13 436.48,322.19 436.81,322.26 437.14,322.34 437.48,322.42 437.81,322.51 438.15,322.61 438.49,322.72 438.82,322.85 439.16,322.98 439.49,323.13 439.82,323.30 440.16,323.48 440.50,323.68 440.83,323.89 441.17,324.13 441.50,324.40 441.84,324.69 442.17,325.00 442.50,325.35 442.84,325.72 443.18,326.13 443.51,326.58 443.85,327.06 444.18,327.58 444.51,328.15 444.85,328.75 445.19,329.41 445.52,330.10 445.86,330.85 446.19,331.64 446.53,332.49 446.86,333.38 447.19,334.31 447.53,335.29 447.87,336.32 448.20,337.38 448.54,338.48 448.87,339.61 449.20,340.76 449.54,341.94 449.88,343.13 450.21,344.33 450.55,345.54 450.88,346.74 451.22,347.93 451.55,349.10 451.88,350.25 452.22,351.38 452.56,352.47 452.89,353.53 453.23,354.54 453.56,355.51 453.90,356.44 454.23,357.32 454.56,358.15 454.90,358.94 455.24,359.67 455.57,360.36 455.91,361.01 456.24,361.60 456.57,362.16 456.91,362.67 457.25,363.15 457.58,363.59 457.92,363.99 458.25,364.36 458.59,364.70 458.92,365.01 459.25,365.29 459.59,365.55 459.93,365.78 460.26,366.00 460.60,366.19 460.93,366.37 461.26,366.53 461.60,366.68 461.94,366.81 462.27,366.93 462.61,367.04 462.94,367.14 463.28,367.23 463.61,367.31 463.94,367.38 464.28,367.45 464.62,367.51 464.95,367.57 465.29,367.61 465.62,367.66 465.96,367.70 466.29,367.73 466.62,367.77 466.96,367.80 467.30,367.82 467.63,367.85 467.97,367.87 468.30,367.89 468.63,367.91 468.97,367.92 469.31,367.94 469.64,367.95 469.98,367.96 470.31,367.97 470.64,367.98 470.98,367.99 471.31,368.00 471.65,368.00 471.99,368.01 472.32,368.02 472.66,368.02 472.99,368.02 473.32,368.03 473.66,368.03 474.00,368.04 474.33,368.04 474.67,368.04 475.00,368.04 475.34,368.05 475.67,368.05 476.00,368.05 476.34,368.05 476.68,368.05 477.01,368.05 477.35,368.06 477.68,368.06 478.01,368.06 478.35,368.06 478.69,368.06 479.02,368.06 479.36,368.06 479.69,368.06 480.03,368.06 480.36,368.06 480.69,368.06 481.03,368.06 481.37,368.06 481.70,368.06 482.04,368.06 482.37,368.06 482.71,368.07 483.04,368.07 483.38,368.07 483.71,368.07 484.05,368.07 484.38,368.07 484.72,368.07 485.05,368.07 485.38,368.07 485.72,368.07 486.06,368.07 486.39,368.07 486.73,368.07 487.06,368.07 487.39,368.07 487.73,368.07 488.06,368.07 488.40,368.07" fill="none" stroke="#111111" stroke-width="1.4" stroke-linejoin="round"/>
<polyline points="434.80,321.58 435.13,321.58 435.47,321.58 435.81,321.58 436.14,321.59 436.48,321.59 436.81,321.59 437.14,321.60 437.48,321.60 437.81,321.61 438.15,321.62 438.49,321.63 438.82,321.64 439.16,321.65 439.49,321.67 439.82,321.69 440.16,321.71 440.50,321.73 440.83,321.76 441.17,321.79 441.50,321.83 441.84,321.88 442.17,321.94 442.50,322.00 442.84,322.08 443.18,322.16 443.51,322.27 443.85,322.39 444.18,322.53 444.51,322.69 444.85,322.88 445.19,323.11 445.52,323.37 445.86,323.67 446.19,324.02 446.53,324.42 446.86,324.88 447.19,325.42 447.53,326.02 447.87,326.72 448.20,327.51 448.54,328.39 448.87,329.39 449.20,330.50 449.54,331.72 449.88,333.07 450.21,334.52 450.55,336.09 450.88,337.76 451.22,339.51 451.55,341.33 451.88,343.20 452.22,345.09 452.56,346.98 452.89,348.85 453.23,350.67 453.56,352.42 453.90,354.08 454.23,355.65 454.56,357.11 454.90,358.45 455.24,359.67 455.57,360.78 455.91,361.78 456.24,362.67 456.57,363.45 456.91,364.15 457.25,364.76 457.58,365.29 457.92,365.75 458.25,366.16 458.59,366.51 458.92,366.81 459.25,367.07 459.59,367.29 459.93,367.48 460.26,367.65 460.60,367.79 460.93,367.91 461.26,368.01 461.60,368.10 461.94,368.17 462.27,368.24 462.61,368.29 462.94,368.34 463.28,368.38 463.61,368.41 463.94,368.44 464.28,368.47 464.62,368.49 464.95,368.51 465.29,368.52 465.62,368.53 465.96,368.54 466.29,368.55 466.62,368.56 466.96,368.57 467.30,368.57 467.63,368.58 467.97,368.58 468.30,368.59 468.63,368.59 468.97,368.59 469.31,368.60 469.64,368.60 469.98,368.60 470.31,368.60 470.64,368.60 470.98,368.60 471.31,368.60 471.65,368.60 471.99,368.60 472.32,368.60 472.66,368.61 472.99,368.61 473.32,368.61 473.66,368.61 474.00,368.61 474.33,368.61 474.67,368.61 475.00,368.61 475.34,368.61 475.67,368.61 476.00,368.61 476.34,368.61 476.68,368.61 477.01,368.61 477.35,368.61 477.68,368.61 478.01,368.61 478.35,368.61 478.69,368.61 479.02,368.61 479.36,368.61 479.69,368.61 480.03,368.61 480.36,368.61 480.69,368.61 481.03,368.61 481.37,368.61 481.70,368.61 482.04,368.61 482.37,368.61 482.71,368.61 483.04,368.61 483.38,368.61 483.71,368.61 484.05,368.61 484.38,368.61 484.72,368.61 485.05,368.61 485.38,368.61 485.72,368.61 486.06,368.61 486.39,368.61 486.73,368.61 487.06,368.61 487.39,368.61 487.73,368.61 488.06,368.61 488.40,368.61" fill="none" stroke="#e02028" stroke-width="1.4" stroke-linejoin="round"/>
<path d="M434.80,313.54 L436.56,315.62 L434.80,317.70 L433.04,315.62Z" fill="#6ab04a"/>
<path d="M441.19,315.16 L442.95,317.24 L441.19,319.32 L439.43,317.24Z" fill="#6ab04a"/>
<path d="M448.20,306.51 L449.96,308.59 L448.20,310.67 L446.44,308.59Z" fill="#6ab04a"/>
<line x1="454.59" y1="328.05" x2="454.59" y2="321.57" stroke="#6ab04a" stroke-width="0.5"/>
<line x1="453.59" y1="321.57" x2="455.59" y2="321.57" stroke="#6ab04a" stroke-width="0.5"/>
<line x1="453.59" y1="328.05" x2="455.59" y2="328.05" stroke="#6ab04a" stroke-width="0.5"/>
<path d="M454.59,322.73 L456.35,324.81 L454.59,326.89 L452.83,324.81Z" fill="#6ab04a"/>
<line x1="461.60" y1="319.40" x2="461.60" y2="314.00" stroke="#6ab04a" stroke-width="0.5"/>
<line x1="460.60" y1="314.00" x2="462.60" y2="314.00" stroke="#6ab04a" stroke-width="0.5"/>
<line x1="460.60" y1="319.40" x2="462.60" y2="319.40" stroke="#6ab04a" stroke-width="0.5"/>
<path d="M461.60,314.62 L463.36,316.70 L461.60,318.78 L459.84,316.70Z" fill="#6ab04a"/>
<line x1="475.00" y1="325.89" x2="475.00" y2="321.57" stroke="#6ab04a" stroke-width="0.5"/>
<line x1="474.00" y1="321.57" x2="476.00" y2="321.57" stroke="#6ab04a" stroke-width="0.5"/>
<line x1="474.00" y1="325.89" x2="476.00" y2="325.89" stroke="#6ab04a" stroke-width="0.5"/>
<path d="M475.00,321.65 L476.76,323.73 L475.00,325.81 L473.24,323.73Z" fill="#6ab04a"/>
<line x1="488.40" y1="338.33" x2="488.40" y2="334.00" stroke="#6ab04a" stroke-width="0.5"/>
<line x1="487.40" y1="334.00" x2="489.40" y2="334.00" stroke="#6ab04a" stroke-width="0.5"/>
<line x1="487.40" y1="338.33" x2="489.40" y2="338.33" stroke="#6ab04a" stroke-width="0.5"/>
<path d="M488.40,334.09 L490.16,336.17 L488.40,338.25 L486.64,336.17Z" fill="#6ab04a"/>
<circle cx="434.80" cy="321.03" r="1.60" fill="#2f4a9a"/>
<line x1="441.19" y1="315.62" x2="441.19" y2="310.21" stroke="#2f4a9a" stroke-width="0.5"/>
<line x1="440.19" y1="310.21" x2="442.19" y2="310.21" stroke="#2f4a9a" stroke-width="0.5"/>
<line x1="440.19" y1="315.62" x2="442.19" y2="315.62" stroke="#2f4a9a" stroke-width="0.5"/>
<circle cx="441.19" cy="312.91" r="1.60" fill="#2f4a9a"/>
<circle cx="454.59" cy="321.57" r="1.60" fill="#2f4a9a"/>
<line x1="461.60" y1="325.89" x2="461.60" y2="321.57" stroke="#2f4a9a" stroke-width="0.5"/>
<line x1="460.60" y1="321.57" x2="462.60" y2="321.57" stroke="#2f4a9a" stroke-width="0.5"/>
<line x1="460.60" y1="325.89" x2="462.60" y2="325.89" stroke="#2f4a9a" stroke-width="0.5"/>
<circle cx="461.60" cy="323.73" r="1.60" fill="#2f4a9a"/>
<circle cx="467.99" cy="321.03" r="1.60" fill="#2f4a9a"/>
<circle cx="475.00" cy="318.32" r="1.60" fill="#2f4a9a"/>
<line x1="481.39" y1="314.00" x2="481.39" y2="308.59" stroke="#2f4a9a" stroke-width="0.5"/>
<line x1="480.39" y1="308.59" x2="482.39" y2="308.59" stroke="#2f4a9a" stroke-width="0.5"/>
<line x1="480.39" y1="314.00" x2="482.39" y2="314.00" stroke="#2f4a9a" stroke-width="0.5"/>
<circle cx="481.39" cy="311.29" r="1.60" fill="#2f4a9a"/>
<circle cx="488.40" cy="329.14" r="1.60" fill="#2f4a9a"/>
<circle cx="434.80" cy="322.11" r="1.60" fill="#111111"/>
<circle cx="441.19" cy="328.05" r="1.60" fill="#111111"/>
<circle cx="448.20" cy="336.17" r="1.60" fill="#111111"/>
<circle cx="454.59" cy="360.50" r="1.60" fill="#111111"/>
<circle cx="461.60" cy="365.90" r="1.60" fill="#111111"/>
<circle cx="467.99" cy="366.99" r="1.60" fill="#111111"/>
<circle cx="475.00" cy="366.99" r="1.60" fill="#111111"/>
<circle cx="481.39" cy="369.15" r="1.60" fill="#111111"/>
<circle cx="488.40" cy="369.69" r="1.60" fill="#111111"/>
<rect x="433.20" y="321.59" width="3.20" height="3.20" fill="#e02028"/>
<rect x="439.59" y="316.72" width="3.20" height="3.20" fill="#e02028"/>
<rect x="446.60" y="327.54" width="3.20" height="3.20" fill="#e02028"/>
<rect x="452.99" y="358.36" width="3.20" height="3.20" fill="#e02028"/>
<rect x="460.00" y="363.22" width="3.20" height="3.20" fill="#e02028"/>
<rect x="466.39" y="364.30" width="3.20" height="3.20" fill="#e02028"/>
<rect x="473.40" y="367.55" width="3.20" height="3.20" fill="#e02028"/>
<rect x="479.79" y="368.09" width="3.20" height="3.20" fill="#e02028"/>
<rect x="486.80" y="368.63" width="3.20" height="3.20" fill="#e02028"/>
<line x1="333.60" y1="412.50" x2="333.60" y2="495.30" stroke="#666" stroke-width="0.85"/>
<line x1="333.30" y1="495.00" x2="417.50" y2="495.00" stroke="#666" stroke-width="0.85"/>
<line x1="331.60" y1="495.00" x2="333.60" y2="495.00" stroke="#555" stroke-width="0.6"/>
<text class="t" x="331.20" y="496.79" font-size="5.0" text-anchor="end" fill="#222" color="#222">0</text>
<line x1="331.60" y1="481.33" x2="333.60" y2="481.33" stroke="#555" stroke-width="0.6"/>
<text class="t" x="331.20" y="483.12" font-size="5.0" text-anchor="end" fill="#222" color="#222">20</text>
<line x1="331.60" y1="467.67" x2="333.60" y2="467.67" stroke="#555" stroke-width="0.6"/>
<text class="t" x="331.20" y="469.46" font-size="5.0" text-anchor="end" fill="#222" color="#222">40</text>
<line x1="331.60" y1="454.00" x2="333.60" y2="454.00" stroke="#555" stroke-width="0.6"/>
<text class="t" x="331.20" y="455.79" font-size="5.0" text-anchor="end" fill="#222" color="#222">60</text>
<line x1="331.60" y1="440.33" x2="333.60" y2="440.33" stroke="#555" stroke-width="0.6"/>
<text class="t" x="331.20" y="442.12" font-size="5.0" text-anchor="end" fill="#222" color="#222">80</text>
<line x1="331.60" y1="426.67" x2="333.60" y2="426.67" stroke="#555" stroke-width="0.6"/>
<text class="t" x="331.20" y="428.46" font-size="5.0" text-anchor="end" fill="#222" color="#222">100</text>
<line x1="331.60" y1="413.00" x2="333.60" y2="413.00" stroke="#555" stroke-width="0.6"/>
<text class="t" x="331.20" y="414.79" font-size="5.0" text-anchor="end" fill="#222" color="#222">120</text>
<line x1="339.60" y1="495.00" x2="339.60" y2="496.60" stroke="#555" stroke-width="0.6"/>
<text class="t" x="339.60" y="502.69" font-size="5.0" text-anchor="middle" fill="#222" color="#222">0.001</text>
<line x1="358.70" y1="495.00" x2="358.70" y2="496.60" stroke="#555" stroke-width="0.6"/>
<text class="t" x="358.70" y="502.69" font-size="5.0" text-anchor="middle" fill="#222" color="#222">0.01</text>
<line x1="377.80" y1="495.00" x2="377.80" y2="496.60" stroke="#555" stroke-width="0.6"/>
<text class="t" x="377.80" y="502.69" font-size="5.0" text-anchor="middle" fill="#222" color="#222">0.1</text>
<line x1="396.90" y1="495.00" x2="396.90" y2="496.60" stroke="#555" stroke-width="0.6"/>
<text class="t" x="396.90" y="502.69" font-size="5.0" text-anchor="middle" fill="#222" color="#222">1</text>
<line x1="416.00" y1="495.00" x2="416.00" y2="496.60" stroke="#555" stroke-width="0.6"/>
<text class="t" x="416.00" y="502.69" font-size="5.0" text-anchor="middle" fill="#222" color="#222">10</text>
<text class="t" x="374.00" y="410.41" font-size="5.9" text-anchor="middle" fill="#111" color="#111">HCC4006 ERL-R</text>
<line x1="351.38" y1="410.90" x2="396.62" y2="410.90" stroke="#111" stroke-width="0.7"/>
<text class="t" color="#111" transform="translate(315.30,453.40) rotate(-90)" x="0" y="2.48" font-size="6.9" text-anchor="middle" fill="#111">% Cell viability</text>
<text class="t" x="373.80" y="509.78" font-size="6.1" text-anchor="middle" fill="#222" color="#222">Erlotinib (μmol/L)</text>
<polyline points="337.32,424.62 337.78,424.62 338.24,424.62 338.69,424.62 339.15,424.62 339.60,424.62 340.06,424.62 340.51,424.62 340.97,424.62 341.43,424.62 341.88,424.62 342.34,424.62 342.79,424.62 343.25,424.62 343.70,424.62 344.16,424.62 344.62,424.62 345.07,424.62 345.53,424.62 345.98,424.62 346.44,424.62 346.90,424.62 347.35,424.62 347.81,424.62 348.26,424.62 348.72,424.63 349.17,424.63 349.63,424.63 350.09,424.63 350.54,424.63 351.00,424.63 351.45,424.63 351.91,424.63 352.36,424.63 352.82,424.63 353.28,424.63 353.73,424.63 354.19,424.63 354.64,424.63 355.10,424.64 355.56,424.64 356.01,424.64 356.47,424.64 356.92,424.64 357.38,424.64 357.83,424.64 358.29,424.64 358.75,424.65 359.20,424.65 359.66,424.65 360.11,424.65 360.57,424.65 361.02,424.66 361.48,424.66 361.94,424.66 362.39,424.66 362.85,424.66 363.30,424.67 363.76,424.67 364.22,424.67 364.67,424.68 365.13,424.68 365.58,424.68 366.04,424.69 366.49,424.69 366.95,424.70 367.41,424.70 367.86,424.71 368.32,424.71 368.77,424.72 369.23,424.72 369.68,424.73 370.14,424.73 370.60,424.74 371.05,424.75 371.51,424.75 371.96,424.76 372.42,424.77 372.88,424.78 373.33,424.79 373.79,424.80 374.24,424.81 374.70,424.82 375.15,424.83 375.61,424.84 376.07,424.85 376.52,424.87 376.98,424.88 377.43,424.90 377.89,424.91 378.34,424.93 378.80,424.95 379.26,424.96 379.71,424.98 380.17,425.00 380.62,425.03 381.08,425.05 381.54,425.07 381.99,425.10 382.45,425.13 382.90,425.16 383.36,425.19 383.81,425.22 384.27,425.25 384.73,425.29 385.18,425.32 385.64,425.36 386.09,425.40 386.55,425.45 387.00,425.50 387.46,425.54 387.92,425.60 388.37,425.65 388.83,425.71 389.28,425.77 389.74,425.83 390.20,425.90 390.65,425.97 391.11,426.05 391.56,426.12 392.02,426.21 392.47,426.30 392.93,426.39 393.39,426.49 393.84,426.59 394.30,426.70 394.75,426.81 395.21,426.93 395.66,427.06 396.12,427.19 396.58,427.33 397.03,427.48 397.49,427.63 397.94,427.79 398.40,427.96 398.86,428.14 399.31,428.33 399.77,428.53 400.22,428.74 400.68,428.96 401.13,429.19 401.59,429.43 402.05,429.68 402.50,429.94 402.96,430.22 403.41,430.51 403.87,430.81 404.33,431.13 404.78,431.46 405.24,431.81 405.69,432.17 406.15,432.55 406.60,432.95 407.06,433.36 407.52,433.79 407.97,434.23 408.43,434.70 408.88,435.18 409.34,435.69 409.79,436.21 410.25,436.75" fill="none" stroke="#111" stroke-width="0.9" stroke-linejoin="round"/>
<circle cx="337.32" cy="424.62" r="1.30" fill="#111"/>
<circle cx="346.51" cy="424.62" r="1.30" fill="#111"/>
<circle cx="355.62" cy="424.64" r="1.30" fill="#111"/>
<circle cx="364.85" cy="424.68" r="1.30" fill="#111"/>
<circle cx="373.83" cy="424.80" r="1.30" fill="#111"/>
<circle cx="382.90" cy="425.16" r="1.30" fill="#111"/>
<circle cx="392.09" cy="426.22" r="1.30" fill="#111"/>
<circle cx="401.15" cy="429.20" r="1.30" fill="#111"/>
<circle cx="410.25" cy="436.75" r="1.30" fill="#111"/>
<polyline points="337.32,425.99 337.78,425.99 338.24,425.99 338.69,425.99 339.15,425.99 339.60,425.99 340.06,425.99 340.51,425.99 340.97,425.99 341.43,425.99 341.88,425.99 342.34,425.99 342.79,425.99 343.25,425.99 343.70,425.99 344.16,425.99 344.62,425.99 345.07,425.99 345.53,425.99 345.98,425.99 346.44,425.99 346.90,425.99 347.35,425.99 347.81,425.99 348.26,425.99 348.72,425.99 349.17,425.99 349.63,425.99 350.09,425.99 350.54,426.00 351.00,426.00 351.45,426.00 351.91,426.00 352.36,426.00 352.82,426.00 353.28,426.00 353.73,426.00 354.19,426.00 354.64,426.00 355.10,426.00 355.56,426.00 356.01,426.01 356.47,426.01 356.92,426.01 357.38,426.01 357.83,426.01 358.29,426.01 358.75,426.01 359.20,426.02 359.66,426.02 360.11,426.02 360.57,426.02 361.02,426.02 361.48,426.03 361.94,426.03 362.39,426.03 362.85,426.04 363.30,426.04 363.76,426.04 364.22,426.04 364.67,426.05 365.13,426.05 365.58,426.06 366.04,426.06 366.49,426.06 366.95,426.07 367.41,426.07 367.86,426.08 368.32,426.08 368.77,426.09 369.23,426.09 369.68,426.10 370.14,426.11 370.60,426.11 371.05,426.12 371.51,426.13 371.96,426.14 372.42,426.15 372.88,426.16 373.33,426.17 373.79,426.18 374.24,426.19 374.70,426.20 375.15,426.21 375.61,426.22 376.07,426.24 376.52,426.25 376.98,426.27 377.43,426.28 377.89,426.30 378.34,426.32 378.80,426.34 379.26,426.36 379.71,426.38 380.17,426.40 380.62,426.42 381.08,426.45 381.54,426.47 381.99,426.50 382.45,426.53 382.90,426.56 383.36,426.59 383.81,426.63 384.27,426.66 384.73,426.70 385.18,426.74 385.64,426.78 386.09,426.83 386.55,426.87 387.00,426.92 387.46,426.97 387.92,427.03 388.37,427.09 388.83,427.15 389.28,427.21 389.74,427.28 390.20,427.35 390.65,427.43 391.11,427.51 391.56,427.59 392.02,427.68 392.47,427.78 392.93,427.87 393.39,427.98 393.84,428.09 394.30,428.20 394.75,428.32 395.21,428.45 395.66,428.58 396.12,428.73 396.58,428.87 397.03,429.03 397.49,429.19 397.94,429.37 398.40,429.55 398.86,429.74 399.31,429.94 399.77,430.15 400.22,430.37 400.68,430.60 401.13,430.84 401.59,431.10 402.05,431.36 402.50,431.64 402.96,431.93 403.41,432.24 403.87,432.56 404.33,432.89 404.78,433.24 405.24,433.61 405.69,433.99 406.15,434.38 406.60,434.80 407.06,435.23 407.52,435.68 407.97,436.15 408.43,436.63 408.88,437.14 409.34,437.66 409.79,438.20 410.25,438.76" fill="none" stroke="#111" stroke-width="0.9" stroke-linejoin="round"/>
<line x1="335.63" y1="425.99" x2="339.01" y2="425.99" stroke="#111" stroke-width="1.0"/>
<line x1="344.82" y1="425.99" x2="348.20" y2="425.99" stroke="#111" stroke-width="1.0"/>
<line x1="353.93" y1="426.00" x2="357.31" y2="426.00" stroke="#111" stroke-width="1.0"/>
<line x1="363.16" y1="426.05" x2="366.54" y2="426.05" stroke="#111" stroke-width="1.0"/>
<line x1="372.14" y1="426.18" x2="375.52" y2="426.18" stroke="#111" stroke-width="1.0"/>
<line x1="381.21" y1="426.56" x2="384.59" y2="426.56" stroke="#111" stroke-width="1.0"/>
<line x1="390.40" y1="427.70" x2="393.78" y2="427.70" stroke="#111" stroke-width="1.0"/>
<line x1="399.46" y1="430.85" x2="402.84" y2="430.85" stroke="#111" stroke-width="1.0"/>
<line x1="408.56" y1="438.76" x2="411.94" y2="438.76" stroke="#111" stroke-width="1.0"/>
<polyline points="337.32,427.35 337.78,427.35 338.24,427.35 338.69,427.35 339.15,427.35 339.60,427.35 340.06,427.35 340.51,427.35 340.97,427.35 341.43,427.35 341.88,427.35 342.34,427.35 342.79,427.35 343.25,427.36 343.70,427.36 344.16,427.36 344.62,427.36 345.07,427.36 345.53,427.36 345.98,427.36 346.44,427.36 346.90,427.36 347.35,427.36 347.81,427.36 348.26,427.36 348.72,427.36 349.17,427.36 349.63,427.36 350.09,427.36 350.54,427.36 351.00,427.36 351.45,427.36 351.91,427.36 352.36,427.37 352.82,427.37 353.28,427.37 353.73,427.37 354.19,427.37 354.64,427.37 355.10,427.37 355.56,427.37 356.01,427.37 356.47,427.37 356.92,427.38 357.38,427.38 357.83,427.38 358.29,427.38 358.75,427.38 359.20,427.38 359.66,427.39 360.11,427.39 360.57,427.39 361.02,427.39 361.48,427.40 361.94,427.40 362.39,427.40 362.85,427.40 363.30,427.41 363.76,427.41 364.22,427.41 364.67,427.42 365.13,427.42 365.58,427.42 366.04,427.43 366.49,427.43 366.95,427.44 367.41,427.44 367.86,427.45 368.32,427.45 368.77,427.46 369.23,427.46 369.68,427.47 370.14,427.48 370.60,427.48 371.05,427.49 371.51,427.50 371.96,427.51 372.42,427.52 372.88,427.53 373.33,427.54 373.79,427.55 374.24,427.56 374.70,427.57 375.15,427.58 375.61,427.60 376.07,427.61 376.52,427.63 376.98,427.64 377.43,427.66 377.89,427.67 378.34,427.69 378.80,427.71 379.26,427.73 379.71,427.75 380.17,427.78 380.62,427.80 381.08,427.83 381.54,427.85 381.99,427.88 382.45,427.91 382.90,427.94 383.36,427.97 383.81,428.01 384.27,428.05 384.73,428.08 385.18,428.13 385.64,428.17 386.09,428.21 386.55,428.26 387.00,428.31 387.46,428.37 387.92,428.42 388.37,428.48 388.83,428.55 389.28,428.61 389.74,428.68 390.20,428.76 390.65,428.83 391.11,428.92 391.56,429.00 392.02,429.09 392.47,429.19 392.93,429.29 393.39,429.40 393.84,429.51 394.30,429.62 394.75,429.75 395.21,429.88 395.66,430.02 396.12,430.16 396.58,430.31 397.03,430.47 397.49,430.64 397.94,430.82 398.40,431.00 398.86,431.20 399.31,431.40 399.77,431.61 400.22,431.84 400.68,432.08 401.13,432.32 401.59,432.58 402.05,432.85 402.50,433.14 402.96,433.44 403.41,433.75 403.87,434.07 404.33,434.41 404.78,434.77 405.24,435.14 405.69,435.52 406.15,435.93 406.60,436.35 407.06,436.78 407.52,437.24 407.97,437.71 408.43,438.20 408.88,438.71 409.34,439.24 409.79,439.79 410.25,440.36" fill="none" stroke="#111" stroke-width="0.9" stroke-linejoin="round"/>
<rect x="336.02" y="426.05" width="2.60" height="2.60" fill="#111"/>
<rect x="345.21" y="426.06" width="2.60" height="2.60" fill="#111"/>
<rect x="354.32" y="426.07" width="2.60" height="2.60" fill="#111"/>
<rect x="363.55" y="426.12" width="2.60" height="2.60" fill="#111"/>
<rect x="372.53" y="426.25" width="2.60" height="2.60" fill="#111"/>
<rect x="381.60" y="426.64" width="2.60" height="2.60" fill="#111"/>
<rect x="390.79" y="427.81" width="2.60" height="2.60" fill="#111"/>
<rect x="399.85" y="431.03" width="2.60" height="2.60" fill="#111"/>
<rect x="408.95" y="439.06" width="2.60" height="2.60" fill="#111"/>
<polyline points="337.32,428.72 337.78,428.72 338.24,428.72 338.69,428.72 339.15,428.72 339.60,428.72 340.06,428.72 340.51,428.72 340.97,428.72 341.43,428.72 341.88,428.72 342.34,428.72 342.79,428.72 343.25,428.72 343.70,428.72 344.16,428.72 344.62,428.72 345.07,428.72 345.53,428.72 345.98,428.72 346.44,428.72 346.90,428.72 347.35,428.73 347.81,428.73 348.26,428.73 348.72,428.73 349.17,428.73 349.63,428.73 350.09,428.73 350.54,428.73 351.00,428.73 351.45,428.73 351.91,428.73 352.36,428.73 352.82,428.73 353.28,428.73 353.73,428.73 354.19,428.74 354.64,428.74 355.10,428.74 355.56,428.74 356.01,428.74 356.47,428.74 356.92,428.74 357.38,428.74 357.83,428.75 358.29,428.75 358.75,428.75 359.20,428.75 359.66,428.75 360.11,428.76 360.57,428.76 361.02,428.76 361.48,428.76 361.94,428.77 362.39,428.77 362.85,428.77 363.30,428.77 363.76,428.78 364.22,428.78 364.67,428.78 365.13,428.79 365.58,428.79 366.04,428.80 366.49,428.80 366.95,428.81 367.41,428.81 367.86,428.82 368.32,428.82 368.77,428.83 369.23,428.83 369.68,428.84 370.14,428.85 370.60,428.86 371.05,428.86 371.51,428.87 371.96,428.88 372.42,428.89 372.88,428.90 373.33,428.91 373.79,428.92 374.24,428.93 374.70,428.94 375.15,428.96 375.61,428.97 376.07,428.98 376.52,429.00 376.98,429.02 377.43,429.03 377.89,429.05 378.34,429.07 378.80,429.09 379.26,429.11 379.71,429.13 380.17,429.15 380.62,429.18 381.08,429.21 381.54,429.23 381.99,429.26 382.45,429.29 382.90,429.32 383.36,429.36 383.81,429.39 384.27,429.43 384.73,429.47 385.18,429.51 385.64,429.56 386.09,429.61 386.55,429.65 387.00,429.71 387.46,429.76 387.92,429.82 388.37,429.88 388.83,429.95 389.28,430.01 389.74,430.09 390.20,430.16 390.65,430.24 391.11,430.33 391.56,430.41 392.02,430.51 392.47,430.61 392.93,430.71 393.39,430.82 393.84,430.93 394.30,431.05 394.75,431.18 395.21,431.31 395.66,431.45 396.12,431.60 396.58,431.76 397.03,431.92 397.49,432.09 397.94,432.27 398.40,432.46 398.86,432.66 399.31,432.87 399.77,433.09 400.22,433.32 400.68,433.56 401.13,433.81 401.59,434.08 402.05,434.36 402.50,434.65 402.96,434.95 403.41,435.27 403.87,435.60 404.33,435.94 404.78,436.31 405.24,436.68 405.69,437.08 406.15,437.49 406.60,437.91 407.06,438.36 407.52,438.82 407.97,439.30 408.43,439.79 408.88,440.31 409.34,440.85 409.79,441.40 410.25,441.97" fill="none" stroke="#111" stroke-width="0.9" stroke-linejoin="round"/>
<path d="M337.32,427.16 L338.88,429.89 L335.76,429.89Z" fill="#111"/>
<path d="M346.51,427.16 L348.07,429.89 L344.95,429.89Z" fill="#111"/>
<path d="M355.62,427.18 L357.18,429.91 L354.06,429.91Z" fill="#111"/>
<path d="M364.85,427.23 L366.41,429.96 L363.29,429.96Z" fill="#111"/>
<path d="M373.83,427.36 L375.39,430.09 L372.27,430.09Z" fill="#111"/>
<path d="M382.90,427.76 L384.46,430.49 L381.34,430.49Z" fill="#111"/>
<path d="M392.09,428.96 L393.65,431.69 L390.53,431.69Z" fill="#111"/>
<path d="M401.15,432.26 L402.71,434.99 L399.59,434.99Z" fill="#111"/>
<path d="M410.25,440.41 L411.81,443.14 L408.69,443.14Z" fill="#111"/>
<polyline points="337.32,430.09 337.78,430.09 338.24,430.09 338.69,430.09 339.15,430.09 339.60,430.09 340.06,430.09 340.51,430.09 340.97,430.09 341.43,430.09 341.88,430.09 342.34,430.09 342.79,430.09 343.25,430.09 343.70,430.09 344.16,430.09 344.62,430.09 345.07,430.09 345.53,430.09 345.98,430.09 346.44,430.09 346.90,430.09 347.35,430.09 347.81,430.09 348.26,430.09 348.72,430.09 349.17,430.09 349.63,430.09 350.09,430.10 350.54,430.10 351.00,430.10 351.45,430.10 351.91,430.10 352.36,430.10 352.82,430.10 353.28,430.10 353.73,430.10 354.19,430.10 354.64,430.10 355.10,430.11 355.56,430.11 356.01,430.11 356.47,430.11 356.92,430.11 357.38,430.11 357.83,430.11 358.29,430.12 358.75,430.12 359.20,430.12 359.66,430.12 360.11,430.12 360.57,430.13 361.02,430.13 361.48,430.13 361.94,430.13 362.39,430.14 362.85,430.14 363.30,430.14 363.76,430.15 364.22,430.15 364.67,430.15 365.13,430.16 365.58,430.16 366.04,430.17 366.49,430.17 366.95,430.18 367.41,430.18 367.86,430.19 368.32,430.19 368.77,430.20 369.23,430.20 369.68,430.21 370.14,430.22 370.60,430.23 371.05,430.23 371.51,430.24 371.96,430.25 372.42,430.26 372.88,430.27 373.33,430.28 373.79,430.29 374.24,430.31 374.70,430.32 375.15,430.33 375.61,430.34 376.07,430.36 376.52,430.37 376.98,430.39 377.43,430.41 377.89,430.43 378.34,430.45 378.80,430.47 379.26,430.49 379.71,430.51 380.17,430.53 380.62,430.56 381.08,430.59 381.54,430.61 381.99,430.64 382.45,430.68 382.90,430.71 383.36,430.74 383.81,430.78 384.27,430.82 384.73,430.86 385.18,430.90 385.64,430.95 386.09,431.00 386.55,431.05 387.00,431.10 387.46,431.16 387.92,431.22 388.37,431.28 388.83,431.35 389.28,431.42 389.74,431.49 390.20,431.57 390.65,431.65 391.11,431.74 391.56,431.83 392.02,431.93 392.47,432.03 392.93,432.13 393.39,432.25 393.84,432.36 394.30,432.49 394.75,432.62 395.21,432.76 395.66,432.90 396.12,433.05 396.58,433.21 397.03,433.38 397.49,433.55 397.94,433.74 398.40,433.93 398.86,434.14 399.31,434.35 399.77,434.58 400.22,434.81 400.68,435.06 401.13,435.32 401.59,435.59 402.05,435.87 402.50,436.17 402.96,436.48 403.41,436.80 403.87,437.14 404.33,437.49 404.78,437.86 405.24,438.24 405.69,438.64 406.15,439.06 406.60,439.49 407.06,439.95 407.52,440.41 407.97,440.90 408.43,441.40 408.88,441.93 409.34,442.47 409.79,443.03 410.25,443.61" fill="none" stroke="#111" stroke-width="0.9" stroke-linejoin="round"/>
<path d="M337.32,431.65 L338.88,428.92 L335.76,428.92Z" fill="#111"/>
<path d="M346.51,431.65 L348.07,428.92 L344.95,428.92Z" fill="#111"/>
<path d="M355.62,431.67 L357.18,428.94 L354.06,428.94Z" fill="#111"/>
<path d="M364.85,431.72 L366.41,428.99 L363.29,428.99Z" fill="#111"/>
<path d="M373.83,431.85 L375.39,429.12 L372.27,429.12Z" fill="#111"/>
<path d="M382.90,432.27 L384.46,429.54 L381.34,429.54Z" fill="#111"/>
<path d="M392.09,433.50 L393.65,430.77 L390.53,430.77Z" fill="#111"/>
<path d="M401.15,436.89 L402.71,434.16 L399.59,434.16Z" fill="#111"/>
<path d="M410.25,445.17 L411.81,442.44 L408.69,442.44Z" fill="#111"/>
<line x1="382.90" y1="432.13" x2="382.90" y2="415.05" stroke="#111" stroke-width="0.5"/>
<line x1="381.70" y1="415.05" x2="384.10" y2="415.05" stroke="#111" stroke-width="0.5"/>
<line x1="336.12" y1="422.57" x2="338.52" y2="422.57" stroke="#111" stroke-width="0.5"/>
<line x1="337.32" y1="422.57" x2="337.32" y2="426.67" stroke="#111" stroke-width="0.5"/>
<line x1="345.31" y1="422.57" x2="347.71" y2="422.57" stroke="#111" stroke-width="0.5"/>
<line x1="346.51" y1="422.57" x2="346.51" y2="426.67" stroke="#111" stroke-width="0.5"/>
<line x1="335.90" y1="461.00" x2="345.00" y2="461.00" stroke="#111" stroke-width="1.1"/>
<circle cx="340.45" cy="461.00" r="1.50" fill="#111"/>
<text class="t" x="350.80" y="463.00" font-size="5.6" text-anchor="start" fill="#222" color="#222">NTC siRNA</text>
<line x1="335.90" y1="468.00" x2="345.00" y2="468.00" stroke="#111" stroke-width="1.1"/>
<line x1="338.50" y1="468.00" x2="342.40" y2="468.00" stroke="#111" stroke-width="1.0"/>
<text class="t" x="350.80" y="470.00" font-size="5.6" text-anchor="start" fill="#222" color="#222">Axl siRNA #1</text>
<line x1="335.90" y1="475.20" x2="345.00" y2="475.20" stroke="#111" stroke-width="1.1"/>
<rect x="338.95" y="473.70" width="3.00" height="3.00" fill="#111"/>
<text class="t" x="350.80" y="477.20" font-size="5.6" text-anchor="start" fill="#222" color="#222">Axl siRNA #2</text>
<line x1="335.90" y1="482.10" x2="345.00" y2="482.10" stroke="#111" stroke-width="1.1"/>
<path d="M340.45,480.30 L342.25,483.45 L338.65,483.45Z" fill="#111"/>
<text class="t" x="350.80" y="484.10" font-size="5.6" text-anchor="start" fill="#222" color="#222">Axl siRNA #3</text>
<line x1="335.90" y1="488.80" x2="345.00" y2="488.80" stroke="#111" stroke-width="1.1"/>
<path d="M340.45,490.60 L342.25,487.45 L338.65,487.45Z" fill="#111"/>
<text class="t" x="350.80" y="490.80" font-size="5.6" text-anchor="start" fill="#222" color="#222">Axl siRNA #4</text>
<text class="t" color="#111" transform="translate(42.30,457.8) rotate(-90)" x="0" y="2.26" font-size="6.3" fill="#111">NTC SiRNA</text>
<text class="t" color="#111" transform="translate(53.00,457.8) rotate(-90)" x="0" y="2.26" font-size="6.3" fill="#111">AXL SiRNA #1</text>
<text class="t" color="#111" transform="translate(63.40,457.8) rotate(-90)" x="0" y="2.26" font-size="6.3" fill="#111">AXL SiRNA #2</text>
<text class="t" color="#111" transform="translate(74.40,457.8) rotate(-90)" x="0" y="2.26" font-size="6.3" fill="#111">AXL SiRNA #3</text>
<text class="t" color="#111" transform="translate(85.40,457.8) rotate(-90)" x="0" y="2.26" font-size="6.3" fill="#111">AXL SiRNA #4</text>
<rect x="35.80" y="460.30" width="58.20" height="20.40" fill="#fbfbfb" stroke="#6a6a6a" stroke-width="1.1"/>
<rect x="35.80" y="483.90" width="58.20" height="16.60" fill="#fbfbfb" stroke="#6a6a6a" stroke-width="1.1"/>
<rect x="35.80" y="503.50" width="58.20" height="14.80" fill="#fbfbfb" stroke="#6a6a6a" stroke-width="1.1"/>
<rect x="38.60" y="469.40" width="8.80" height="6.80" rx="1.60" fill="#111" fill-opacity="1" filter="url(#bl5)"/>
<rect x="39.50" y="492.80" width="6.00" height="1.60" rx="0.80" fill="#111" fill-opacity="0.55" filter="url(#bl5)"/>
<rect x="49.50" y="492.80" width="6.00" height="1.60" rx="0.80" fill="#111" fill-opacity="0.5" filter="url(#bl5)"/>
<rect x="59.90" y="492.60" width="7.00" height="2.00" rx="1.00" fill="#111" fill-opacity="0.85" filter="url(#bl5)"/>
<rect x="70.25" y="492.00" width="7.50" height="3.20" rx="1.60" fill="#111" fill-opacity="1.0" filter="url(#bl5)"/>
<rect x="82.15" y="492.70" width="6.50" height="1.80" rx="0.90" fill="#111" fill-opacity="0.6" filter="url(#bl5)"/>
<rect x="40.00" y="487.20" width="5.00" height="1.20" rx="0.60" fill="#111" fill-opacity="0.15" filter="url(#bl6)"/>
<rect x="50.00" y="487.20" width="5.00" height="1.20" rx="0.60" fill="#111" fill-opacity="0.15" filter="url(#bl6)"/>
<rect x="60.90" y="487.20" width="5.00" height="1.20" rx="0.60" fill="#111" fill-opacity="0.15" filter="url(#bl6)"/>
<rect x="71.50" y="487.20" width="5.00" height="1.20" rx="0.60" fill="#111" fill-opacity="0.15" filter="url(#bl6)"/>
<rect x="82.90" y="487.20" width="5.00" height="1.20" rx="0.60" fill="#111" fill-opacity="0.15" filter="url(#bl6)"/>
<rect x="72.25" y="494.00" width="3.50" height="5.00" rx="2.50" fill="#111" fill-opacity="0.12" filter="url(#bl10)"/>
<rect x="38.75" y="509.60" width="7.50" height="2.80" rx="1.40" fill="#111" fill-opacity="1" filter="url(#bl5)"/>
<rect x="48.40" y="509.30" width="8.20" height="3.40" rx="1.70" fill="#111" fill-opacity="1" filter="url(#bl5)"/>
<rect x="58.90" y="509.30" width="7.80" height="3.40" rx="1.70" fill="#111" fill-opacity="1" filter="url(#bl5)"/>
<rect x="69.80" y="509.70" width="7.20" height="2.60" rx="1.30" fill="#111" fill-opacity="1" filter="url(#bl5)"/>
<rect x="80.30" y="509.10" width="8.60" height="3.80" rx="1.90" fill="#111" fill-opacity="1" filter="url(#bl5)"/>
<text class="t" x="96.60" y="472.89" font-size="6.4" text-anchor="start" fill="#111" color="#111">Total AXL</text>
<text class="t" x="96.60" y="493.89" font-size="6.4" text-anchor="start" fill="#111" color="#111">Vimentin</text>
<text class="t" x="96.60" y="513.09" font-size="6.4" text-anchor="start" fill="#111" color="#111">GAPDH</text>
<text class="t" x="180.80" y="435.86" font-size="6.3" text-anchor="middle" fill="#111" color="#111">PAR</text>
<text class="t" x="219.50" y="435.93" font-size="6.5" text-anchor="middle" fill="#6674b4" color="#6674b4">MES</text>
<line x1="157.70" y1="439.30" x2="198.50" y2="439.30" stroke="#222" stroke-width="0.8"/>
<line x1="201.00" y1="439.30" x2="242.20" y2="439.30" stroke="#222" stroke-width="0.8"/>
<text class="t" x="166.50" y="449.58" font-size="5.8" text-anchor="middle" fill="#111" color="#111">NTC</text>
<text class="t" x="189.30" y="449.58" font-size="5.8" text-anchor="middle" fill="#111" color="#111">AXL#2</text>
<text class="t" x="209.60" y="449.58" font-size="5.8" text-anchor="middle" fill="#111" color="#111">NTC</text>
<text class="t" x="231.20" y="449.58" font-size="5.8" text-anchor="middle" fill="#111" color="#111">AXL#2</text>
<line x1="160.50" y1="452.70" x2="172.70" y2="452.70" stroke="#222" stroke-width="0.75"/>
<line x1="180.30" y1="452.70" x2="198.20" y2="452.70" stroke="#222" stroke-width="0.75"/>
<line x1="202.80" y1="452.70" x2="216.30" y2="452.70" stroke="#222" stroke-width="0.75"/>
<line x1="222.40" y1="452.70" x2="240.00" y2="452.70" stroke="#222" stroke-width="0.75"/>
<text class="t" x="162.30" y="465.35" font-size="6.0" text-anchor="middle" fill="#111" color="#111">–</text>
<text class="t" x="171.60" y="465.35" font-size="6.0" text-anchor="middle" fill="#111" color="#111">+</text>
<text class="t" x="181.30" y="465.35" font-size="6.0" text-anchor="middle" fill="#111" color="#111">–</text>
<text class="t" x="191.20" y="465.35" font-size="6.0" text-anchor="middle" fill="#111" color="#111">+</text>
<text class="t" x="202.00" y="465.35" font-size="6.0" text-anchor="middle" fill="#111" color="#111">–</text>
<text class="t" x="212.10" y="465.35" font-size="6.0" text-anchor="middle" fill="#111" color="#111">+</text>
<text class="t" x="222.30" y="465.35" font-size="6.0" text-anchor="middle" fill="#111" color="#111">–</text>
<text class="t" x="233.20" y="465.35" font-size="6.0" text-anchor="middle" fill="#111" color="#111">+</text>
<text class="t" x="246.00" y="466.56" font-size="6.6" text-anchor="start" fill="#111" color="#111">ERL 50nmol/L 72 h</text>
<rect x="157.10" y="467.50" width="85.60" height="13.40" fill="#fbfbfb" stroke="#6a6a6a" stroke-width="1.1"/>
<rect x="157.10" y="483.70" width="85.60" height="12.80" fill="#fbfbfb" stroke="#6a6a6a" stroke-width="1.1"/>
<rect x="157.10" y="499.30" width="85.60" height="14.60" fill="#fbfbfb" stroke="#6a6a6a" stroke-width="1.1"/>
<rect x="168.60" y="473.50" width="8.40" height="3.40" rx="1.70" fill="#111" fill-opacity="1" filter="url(#bl5)"/>
<rect x="187.60" y="473.40" width="8.40" height="3.60" rx="1.80" fill="#111" fill-opacity="1" filter="url(#bl5)"/>
<rect x="199.00" y="474.20" width="6.00" height="1.20" rx="0.60" fill="#111" fill-opacity="0.12" filter="url(#bl6)"/>
<rect x="209.10" y="474.20" width="6.00" height="1.20" rx="0.60" fill="#111" fill-opacity="0.15" filter="url(#bl6)"/>
<rect x="219.30" y="474.20" width="6.00" height="1.20" rx="0.60" fill="#111" fill-opacity="0.3" filter="url(#bl6)"/>
<rect x="230.20" y="474.20" width="6.00" height="1.20" rx="0.60" fill="#111" fill-opacity="0.2" filter="url(#bl6)"/>
<rect x="198.20" y="488.95" width="7.60" height="2.70" rx="1.35" fill="#111" fill-opacity="0.95" filter="url(#bl5)"/>
<rect x="208.30" y="488.90" width="7.60" height="2.80" rx="1.40" fill="#111" fill-opacity="0.95" filter="url(#bl5)"/>
<rect x="218.50" y="489.00" width="7.60" height="2.60" rx="1.30" fill="#111" fill-opacity="0.95" filter="url(#bl5)"/>
<rect x="229.90" y="489.30" width="6.60" height="2.00" rx="1.00" fill="#111" fill-opacity="0.5" filter="url(#bl5)"/>
<rect x="160.00" y="506.00" width="76.00" height="2.20" rx="1.10" fill="#111" fill-opacity="0.9" filter="url(#bl5)"/>
<rect x="158.00" y="505.20" width="8.60" height="3.80" rx="1.90" fill="#111" fill-opacity="1" filter="url(#bl5)"/>
<rect x="167.10" y="505.30" width="9.00" height="3.60" rx="1.80" fill="#111" fill-opacity="1" filter="url(#bl5)"/>
<rect x="177.50" y="505.60" width="7.60" height="3.00" rx="1.50" fill="#111" fill-opacity="1" filter="url(#bl5)"/>
<rect x="186.70" y="505.40" width="9.00" height="3.40" rx="1.70" fill="#111" fill-opacity="1" filter="url(#bl5)"/>
<rect x="197.50" y="505.50" width="9.00" height="3.20" rx="1.60" fill="#111" fill-opacity="1" filter="url(#bl5)"/>
<rect x="207.40" y="505.20" width="9.40" height="3.80" rx="1.90" fill="#111" fill-opacity="1" filter="url(#bl5)"/>
<rect x="217.50" y="505.00" width="9.60" height="4.20" rx="2.10" fill="#111" fill-opacity="1" filter="url(#bl5)"/>
<rect x="229.00" y="505.50" width="8.40" height="3.20" rx="1.60" fill="#111" fill-opacity="1" filter="url(#bl5)"/>
<text class="t" x="246.00" y="476.96" font-size="6.6" text-anchor="start" fill="#111" color="#111">Cleaved PARP</text>
<text class="t" x="246.00" y="492.56" font-size="6.6" text-anchor="start" fill="#111" color="#111">Vimentin</text>
<text class="t" x="246.00" y="508.26" font-size="6.6" text-anchor="start" fill="#111" color="#111">GAPDH</text>
</svg>
<div id="frame"></div>
</body></html>
